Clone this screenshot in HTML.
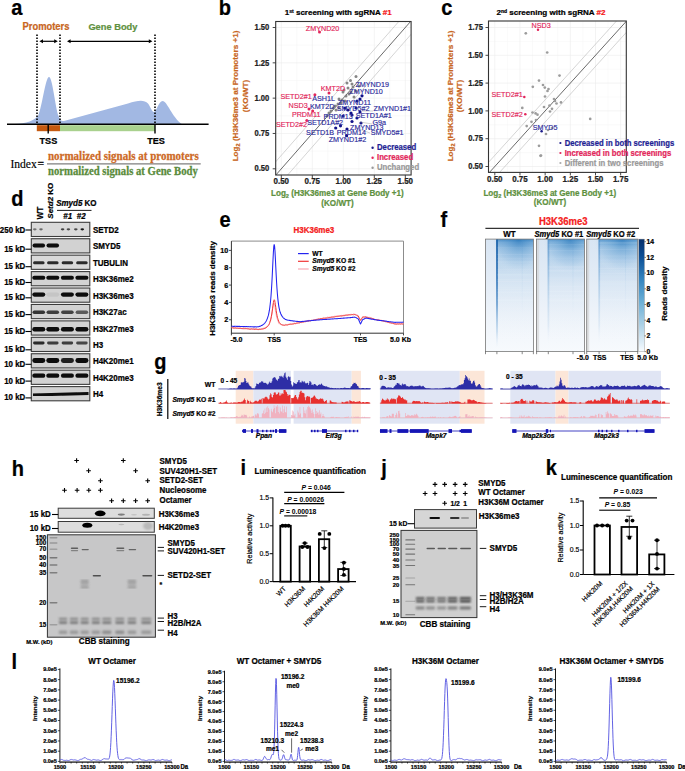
<!DOCTYPE html>
<html><head><meta charset="utf-8"><style>
html,body{margin:0;padding:0;background:#fff;width:685px;height:771px;overflow:hidden}
svg{display:block}
text{font-family:"Liberation Sans",sans-serif}
.serif{font-family:"Liberation Serif",serif}
</style></head><body>
<svg width="685" height="771" viewBox="0 0 685 771">
<defs>
<filter id="bl1" x="-50%" y="-50%" width="200%" height="200%"><feGaussianBlur stdDeviation="0.8"/></filter>
<filter id="bl2" x="-50%" y="-50%" width="200%" height="200%"><feGaussianBlur stdDeviation="1.2"/></filter>
<filter id="bl07" x="-50%" y="-50%" width="200%" height="200%"><feGaussianBlur stdDeviation="0.65"/></filter>
<filter id="bl05" x="-50%" y="-50%" width="200%" height="200%"><feGaussianBlur stdDeviation="0.5"/></filter>
</defs>
<text x="11.20" y="15.40" font-size="20" font-weight="bold" fill="#000" text-anchor="start" stroke="#000" stroke-width="0.22" transform="translate(0,-1.078) scale(1,1.07)" >a</text>
<text x="218.80" y="14.90" font-size="20" font-weight="bold" fill="#000" text-anchor="start" stroke="#000" stroke-width="0.22" transform="translate(0,-1.043) scale(1,1.07)" >b</text>
<text x="441.20" y="14.90" font-size="20" font-weight="bold" fill="#000" text-anchor="start" stroke="#000" stroke-width="0.22" transform="translate(0,-1.043) scale(1,1.07)" >c</text>
<text x="11.20" y="205.80" font-size="20" font-weight="bold" fill="#000" text-anchor="start" stroke="#000" stroke-width="0.22" transform="translate(0,-14.406) scale(1,1.07)" >d</text>
<text x="219.50" y="227.20" font-size="20" font-weight="bold" fill="#000" text-anchor="start" stroke="#000" stroke-width="0.22" transform="translate(0,-15.904) scale(1,1.07)" >e</text>
<text x="440.60" y="226.60" font-size="20" font-weight="bold" fill="#000" text-anchor="start" stroke="#000" stroke-width="0.22" transform="translate(0,-15.862) scale(1,1.07)" >f</text>
<text x="154.20" y="369.20" font-size="20" font-weight="bold" fill="#000" text-anchor="start" stroke="#000" stroke-width="0.22" transform="translate(0,-25.844) scale(1,1.07)" >g</text>
<text x="11.80" y="475.90" font-size="20" font-weight="bold" fill="#000" text-anchor="start" stroke="#000" stroke-width="0.22" transform="translate(0,-33.313) scale(1,1.07)" >h</text>
<text x="240.40" y="475.40" font-size="20" font-weight="bold" fill="#000" text-anchor="start" stroke="#000" stroke-width="0.22" transform="translate(0,-33.278) scale(1,1.07)" >i</text>
<text x="381.20" y="475.40" font-size="20" font-weight="bold" fill="#000" text-anchor="start" stroke="#000" stroke-width="0.22" transform="translate(0,-33.278) scale(1,1.07)" >j</text>
<text x="545.80" y="475.40" font-size="20" font-weight="bold" fill="#000" text-anchor="start" stroke="#000" stroke-width="0.22" transform="translate(0,-33.278) scale(1,1.07)" >k</text>
<text x="11.60" y="669.20" font-size="20" font-weight="bold" fill="#000" text-anchor="start" stroke="#000" stroke-width="0.22" transform="translate(0,-46.844) scale(1,1.07)" >l</text>
<text x="22.50" y="30.00" font-size="9.4" font-weight="bold" fill="#C8661E" text-anchor="start" stroke="#C8661E" stroke-width="0.22" transform="translate(0,-2.100) scale(1,1.07)" >Promoters</text>
<text x="88.40" y="30.00" font-size="9.3" font-weight="bold" fill="#5E9140" text-anchor="start" stroke="#5E9140" stroke-width="0.22" transform="translate(0,-2.100) scale(1,1.07)" >Gene Body</text>
<path d="M10,124.2 C22,124 32,122.5 38,116 C42,108 45.5,77 49,77 C52.5,77 55,106 58.5,116 C60,120.5 61.5,121.5 64,121 L128,103.5 C138,100.3 144,99.5 148,103.5 C150.5,107 152,112 154,112 C156.5,112 158.5,101 162.7,101 C167,101 172,117 182,124.2 Z" fill="#A2B8E3"/>
<line x1="37" y1="34.5" x2="37" y2="124" stroke="#000" stroke-width="1.6" stroke-dasharray="1.6,1.4"/>
<line x1="60" y1="34.5" x2="60" y2="124" stroke="#000" stroke-width="1.6" stroke-dasharray="1.6,1.4"/>
<line x1="155" y1="34.5" x2="155" y2="124" stroke="#000" stroke-width="1.6" stroke-dasharray="1.6,1.4"/>
<line x1="41.9" y1="41.3" x2="55.3" y2="41.3" stroke="#000" stroke-width="1.2"/><path d="M39.4,41.3 l3.6,-2 l0,4 z M57.8,41.3 l-3.6,-2 l0,4 z" fill="#000"/>
<line x1="69.5" y1="41.3" x2="149.9" y2="41.3" stroke="#000" stroke-width="1.2"/><path d="M67,41.3 l3.6,-2 l0,4 z M152.4,41.3 l-3.6,-2 l0,4 z" fill="#000"/>
<rect x="36.8" y="125.2" width="23.2" height="6" fill="#C55A11"/>
<rect x="60" y="125.2" width="95" height="6" fill="#A9D18E"/>
<line x1="7" y1="124.2" x2="208.6" y2="124.2" stroke="#000" stroke-width="1.5"/>
<line x1="48.2" y1="124" x2="48.2" y2="133.5" stroke="#000" stroke-width="1.4"/>
<line x1="155" y1="124" x2="155" y2="133.5" stroke="#000" stroke-width="1.4"/>
<text x="48.40" y="144.00" font-size="9.1" font-weight="bold" fill="#000" text-anchor="middle" stroke="#000" stroke-width="0.22" transform="translate(0,-10.080) scale(1,1.07)" >TSS</text>
<text x="156.00" y="144.00" font-size="9.1" font-weight="bold" fill="#000" text-anchor="middle" stroke="#000" stroke-width="0.22" transform="translate(0,-10.080) scale(1,1.07)" >TES</text>
<text class="serif" x="10.4" y="167.8" font-size="11.6" fill="#000" stroke="#000" stroke-width="0.15" transform="translate(0,-16.780) scale(1,1.1)">Index</text>
<text class="serif" x="37.4" y="167.8" font-size="11.6" fill="#000" stroke="#000" stroke-width="0.3">=</text>
<line x1="47" y1="163.9" x2="200.7" y2="163.9" stroke="#7f7f7f" stroke-width="1.3"/>
<text class="serif" x="48" y="160.5" font-size="11.0" font-weight="bold" fill="#CD6A27" stroke="#CD6A27" stroke-width="0.25" transform="translate(0,-19.260) scale(1,1.12)">normalized signals at promoters</text>
<text class="serif" x="48" y="175.0" font-size="10.7" font-weight="bold" fill="#5A8C3C" stroke="#5A8C3C" stroke-width="0.25" transform="translate(0,-21.000) scale(1,1.12)">normalized signals at Gene Body</text>
<rect x="275.7" y="21.5" width="135.40000000000003" height="153.5" fill="#fff"/>
<line x1="296.80" y1="21.5" x2="296.80" y2="175" stroke="#f4f4f4" stroke-width="0.5"/>
<line x1="275.7" y1="151.14" x2="411.1" y2="151.14" stroke="#f4f4f4" stroke-width="0.5"/>
<line x1="327.80" y1="21.5" x2="327.80" y2="175" stroke="#f4f4f4" stroke-width="0.5"/>
<line x1="275.7" y1="115.81" x2="411.1" y2="115.81" stroke="#f4f4f4" stroke-width="0.5"/>
<line x1="358.80" y1="21.5" x2="358.80" y2="175" stroke="#f4f4f4" stroke-width="0.5"/>
<line x1="275.7" y1="80.49" x2="411.1" y2="80.49" stroke="#f4f4f4" stroke-width="0.5"/>
<line x1="389.80" y1="21.5" x2="389.80" y2="175" stroke="#f4f4f4" stroke-width="0.5"/>
<line x1="275.7" y1="45.16" x2="411.1" y2="45.16" stroke="#f4f4f4" stroke-width="0.5"/>
<line x1="281.30" y1="21.5" x2="281.30" y2="175" stroke="#ebebeb" stroke-width="0.6"/>
<line x1="275.7" y1="168.80" x2="411.1" y2="168.80" stroke="#ebebeb" stroke-width="0.6"/>
<line x1="312.30" y1="21.5" x2="312.30" y2="175" stroke="#ebebeb" stroke-width="0.6"/>
<line x1="275.7" y1="133.48" x2="411.1" y2="133.48" stroke="#ebebeb" stroke-width="0.6"/>
<line x1="343.30" y1="21.5" x2="343.30" y2="175" stroke="#ebebeb" stroke-width="0.6"/>
<line x1="275.7" y1="98.15" x2="411.1" y2="98.15" stroke="#ebebeb" stroke-width="0.6"/>
<line x1="374.30" y1="21.5" x2="374.30" y2="175" stroke="#ebebeb" stroke-width="0.6"/>
<line x1="275.7" y1="62.83" x2="411.1" y2="62.83" stroke="#ebebeb" stroke-width="0.6"/>
<line x1="405.30" y1="21.5" x2="405.30" y2="175" stroke="#ebebeb" stroke-width="0.6"/>
<line x1="275.7" y1="27.50" x2="411.1" y2="27.50" stroke="#ebebeb" stroke-width="0.6"/>
<clipPath id="cp275"><rect x="275.7" y="21.5" width="135.40000000000003" height="153.5"/></clipPath>
<g clip-path="url(#cp275)">
<line x1="213.97" y1="245.53" x2="473.13" y2="-49.79" stroke="#444" stroke-width="0.8"/>
<line x1="213.97" y1="232.10" x2="473.13" y2="-63.21" stroke="#aaa" stroke-width="0.5"/>
<line x1="213.97" y1="258.95" x2="473.13" y2="-36.37" stroke="#aaa" stroke-width="0.5"/>
</g>
<line x1="281.30" y1="175" x2="281.30" y2="178" stroke="#333" stroke-width="0.9"/>
<line x1="272.7" y1="168.80" x2="275.7" y2="168.80" stroke="#333" stroke-width="0.9"/>
<line x1="312.30" y1="175" x2="312.30" y2="178" stroke="#333" stroke-width="0.9"/>
<line x1="272.7" y1="133.48" x2="275.7" y2="133.48" stroke="#333" stroke-width="0.9"/>
<line x1="343.30" y1="175" x2="343.30" y2="178" stroke="#333" stroke-width="0.9"/>
<line x1="272.7" y1="98.15" x2="275.7" y2="98.15" stroke="#333" stroke-width="0.9"/>
<line x1="374.30" y1="175" x2="374.30" y2="178" stroke="#333" stroke-width="0.9"/>
<line x1="272.7" y1="62.83" x2="275.7" y2="62.83" stroke="#333" stroke-width="0.9"/>
<line x1="405.30" y1="175" x2="405.30" y2="178" stroke="#333" stroke-width="0.9"/>
<line x1="272.7" y1="27.50" x2="275.7" y2="27.50" stroke="#333" stroke-width="0.9"/>
<circle cx="356" cy="76.6" r="1.5" fill="#858585"/>
<circle cx="347" cy="83" r="1.5" fill="#858585"/>
<circle cx="352" cy="84" r="1.5" fill="#858585"/>
<circle cx="350.5" cy="80.5" r="1.5" fill="#858585"/>
<circle cx="353" cy="87" r="1.5" fill="#858585"/>
<circle cx="359" cy="86" r="1.5" fill="#858585"/>
<circle cx="349" cy="94" r="1.5" fill="#858585"/>
<circle cx="346" cy="96" r="1.5" fill="#858585"/>
<circle cx="354" cy="97" r="1.5" fill="#858585"/>
<circle cx="342" cy="100" r="1.5" fill="#858585"/>
<circle cx="339" cy="99" r="1.5" fill="#858585"/>
<circle cx="344" cy="90" r="1.5" fill="#858585"/>
<circle cx="348" cy="88" r="1.5" fill="#858585"/>
<circle cx="341" cy="103" r="1.5" fill="#858585"/>
<circle cx="338" cy="104" r="1.5" fill="#858585"/>
<circle cx="335" cy="106" r="1.5" fill="#858585"/>
<circle cx="333" cy="108" r="1.5" fill="#858585"/>
<circle cx="331" cy="111" r="1.5" fill="#858585"/>
<circle cx="329" cy="113" r="1.5" fill="#858585"/>
<circle cx="343" cy="92" r="1.5" fill="#858585"/>
<circle cx="356" cy="91" r="1.5" fill="#858585"/>
<circle cx="345" cy="101" r="1.5" fill="#858585"/>
<circle cx="351" cy="92" r="1.5" fill="#858585"/>
<circle cx="339" cy="108" r="1.5" fill="#858585"/>
<circle cx="336" cy="110" r="1.5" fill="#858585"/>
<circle cx="327" cy="116" r="1.5" fill="#858585"/>
<circle cx="362" cy="95.8" r="1.6" fill="#12128a"/>
<circle cx="360" cy="99" r="1.6" fill="#12128a"/>
<circle cx="357" cy="101" r="1.6" fill="#12128a"/>
<circle cx="345" cy="108" r="1.6" fill="#12128a"/>
<circle cx="351" cy="113" r="1.6" fill="#12128a"/>
<circle cx="352" cy="115" r="1.6" fill="#12128a"/>
<circle cx="360" cy="112" r="1.6" fill="#12128a"/>
<circle cx="352" cy="121.5" r="1.6" fill="#12128a"/>
<circle cx="357" cy="118" r="1.6" fill="#12128a"/>
<circle cx="361" cy="123" r="1.6" fill="#12128a"/>
<circle cx="340.5" cy="125.8" r="1.6" fill="#12128a"/>
<circle cx="335.7" cy="128" r="1.6" fill="#12128a"/>
<circle cx="347" cy="129" r="1.6" fill="#12128a"/>
<circle cx="346.6" cy="135.7" r="1.6" fill="#12128a"/>
<circle cx="356" cy="108" r="1.6" fill="#12128a"/>
<circle cx="348" cy="110" r="1.6" fill="#12128a"/>
<circle cx="343" cy="116" r="1.6" fill="#12128a"/>
<circle cx="319.5" cy="31.9" r="1.5" fill="#E2265A"/>
<circle cx="329" cy="93" r="1.5" fill="#E2265A"/>
<circle cx="314.9" cy="94.7" r="1.5" fill="#E2265A"/>
<circle cx="309" cy="109" r="1.5" fill="#E2265A"/>
<circle cx="312.7" cy="111" r="1.5" fill="#E2265A"/>
<circle cx="306.8" cy="120.4" r="1.5" fill="#E2265A"/>
<line x1="362" y1="111" x2="373" y2="111" stroke="#888" stroke-width="0.4"/>
<line x1="360" y1="122" x2="372" y2="124" stroke="#888" stroke-width="0.4"/>
<line x1="356" y1="128" x2="370" y2="133" stroke="#888" stroke-width="0.4"/>
<text x="305.80" y="30.60" font-size="7.2" font-weight="normal" fill="#E2265A" text-anchor="start" transform="translate(0,-2.142) scale(1,1.07)" stroke="#E2265A" stroke-width="0.15">ZMYND20</text>
<text x="355.40" y="87.50" font-size="7.2" font-weight="normal" fill="#2B2B9B" text-anchor="start" transform="translate(0,-6.125) scale(1,1.07)" stroke="#2B2B9B" stroke-width="0.15">ZMYND19</text>
<text x="349.30" y="94.50" font-size="7.2" font-weight="normal" fill="#2B2B9B" text-anchor="start" transform="translate(0,-6.615) scale(1,1.07)" stroke="#2B2B9B" stroke-width="0.15">ZMYND10</text>
<text x="320.80" y="91.20" font-size="7.2" font-weight="normal" fill="#E2265A" text-anchor="start" transform="translate(0,-6.384) scale(1,1.07)" stroke="#E2265A" stroke-width="0.15">KMT2D</text>
<text x="280.50" y="99.10" font-size="7.2" font-weight="normal" fill="#E2265A" text-anchor="start" transform="translate(0,-6.937) scale(1,1.07)" stroke="#E2265A" stroke-width="0.15">SETD2#1</text>
<text x="312.30" y="100.70" font-size="7.2" font-weight="normal" fill="#2B2B9B" text-anchor="start" transform="translate(0,-7.049) scale(1,1.07)" stroke="#2B2B9B" stroke-width="0.15">ASH1L</text>
<text x="337.90" y="105.50" font-size="7.2" font-weight="normal" fill="#2B2B9B" text-anchor="start" transform="translate(0,-7.385) scale(1,1.07)" stroke="#2B2B9B" stroke-width="0.15">ZMYND11</text>
<text x="288.60" y="107.70" font-size="7.2" font-weight="normal" fill="#E2265A" text-anchor="start" transform="translate(0,-7.539) scale(1,1.07)" stroke="#E2265A" stroke-width="0.15">NSD3</text>
<text x="310.00" y="109.40" font-size="7.2" font-weight="normal" fill="#2B2B9B" text-anchor="start" transform="translate(0,-7.658) scale(1,1.07)" stroke="#2B2B9B" stroke-width="0.15">KMT2D</text>
<text x="336.80" y="111.20" font-size="7.2" font-weight="normal" fill="#2B2B9B" text-anchor="start" transform="translate(0,-7.784) scale(1,1.07)" stroke="#2B2B9B" stroke-width="0.15">SMYD5#2</text>
<text x="373.60" y="111.20" font-size="7.2" font-weight="normal" fill="#2B2B9B" text-anchor="start" transform="translate(0,-7.784) scale(1,1.07)" stroke="#2B2B9B" stroke-width="0.15">ZMYND1#1</text>
<text x="291.90" y="117.00" font-size="7.2" font-weight="normal" fill="#E2265A" text-anchor="start" transform="translate(0,-8.190) scale(1,1.07)" stroke="#E2265A" stroke-width="0.15">PRDM11</text>
<text x="323.60" y="118.60" font-size="7.2" font-weight="normal" fill="#2B2B9B" text-anchor="start" transform="translate(0,-8.302) scale(1,1.07)" stroke="#2B2B9B" stroke-width="0.15">PRDM13</text>
<text x="355.80" y="118.20" font-size="7.2" font-weight="normal" fill="#2B2B9B" text-anchor="start" transform="translate(0,-8.274) scale(1,1.07)" stroke="#2B2B9B" stroke-width="0.15">SETD1A#1</text>
<text x="275.90" y="127.00" font-size="7.2" font-weight="normal" fill="#E2265A" text-anchor="start" transform="translate(0,-8.890) scale(1,1.07)" stroke="#E2265A" stroke-width="0.15">SETD2#2</text>
<text x="307.20" y="124.70" font-size="7.2" font-weight="normal" fill="#2B2B9B" text-anchor="start" transform="translate(0,-8.729) scale(1,1.07)" stroke="#2B2B9B" stroke-width="0.15">SETD1A#2</text>
<text x="372.50" y="124.70" font-size="7.2" font-weight="normal" fill="#2B2B9B" text-anchor="start" transform="translate(0,-8.729) scale(1,1.07)" stroke="#2B2B9B" stroke-width="0.15">G9a</text>
<text x="350.00" y="129.60" font-size="7.2" font-weight="normal" fill="#2B2B9B" text-anchor="start" transform="translate(0,-9.072) scale(1,1.07)" stroke="#2B2B9B" stroke-width="0.15">ZMYND13</text>
<text x="306.10" y="135.30" font-size="7.2" font-weight="normal" fill="#2B2B9B" text-anchor="start" transform="translate(0,-9.471) scale(1,1.07)" stroke="#2B2B9B" stroke-width="0.15">SETD1B</text>
<text x="336.80" y="135.30" font-size="7.2" font-weight="normal" fill="#2B2B9B" text-anchor="start" transform="translate(0,-9.471) scale(1,1.07)" stroke="#2B2B9B" stroke-width="0.15">PRDM14</text>
<text x="370.70" y="135.30" font-size="7.2" font-weight="normal" fill="#2B2B9B" text-anchor="start" transform="translate(0,-9.471) scale(1,1.07)" stroke="#2B2B9B" stroke-width="0.15">SMYD5#1</text>
<text x="328.70" y="142.30" font-size="7.2" font-weight="normal" fill="#2B2B9B" text-anchor="start" transform="translate(0,-9.961) scale(1,1.07)" stroke="#2B2B9B" stroke-width="0.15">ZMYND1#2</text>
<rect x="275.7" y="21.5" width="135.4" height="153.5" fill="none" stroke="#333" stroke-width="1.1"/>
<text x="269.20" y="171.50" font-size="7.6" font-weight="bold" fill="#222" text-anchor="end" stroke="#222" stroke-width="0.22" transform="translate(0,-12.005) scale(1,1.07)" >0.50</text>
<text x="281.30" y="184.50" font-size="8" font-weight="bold" fill="#222" text-anchor="middle" stroke="#222" stroke-width="0.22" transform="translate(0,-12.915) scale(1,1.07)" >0.50</text>
<text x="269.20" y="136.18" font-size="7.6" font-weight="bold" fill="#222" text-anchor="end" stroke="#222" stroke-width="0.22" transform="translate(0,-9.532) scale(1,1.07)" >0.75</text>
<text x="312.30" y="184.50" font-size="8" font-weight="bold" fill="#222" text-anchor="middle" stroke="#222" stroke-width="0.22" transform="translate(0,-12.915) scale(1,1.07)" >0.75</text>
<text x="269.20" y="100.85" font-size="7.6" font-weight="bold" fill="#222" text-anchor="end" stroke="#222" stroke-width="0.22" transform="translate(0,-7.060) scale(1,1.07)" >1.00</text>
<text x="343.30" y="184.50" font-size="8" font-weight="bold" fill="#222" text-anchor="middle" stroke="#222" stroke-width="0.22" transform="translate(0,-12.915) scale(1,1.07)" >1.00</text>
<text x="269.20" y="65.53" font-size="7.6" font-weight="bold" fill="#222" text-anchor="end" stroke="#222" stroke-width="0.22" transform="translate(0,-4.587) scale(1,1.07)" >1.25</text>
<text x="374.30" y="184.50" font-size="8" font-weight="bold" fill="#222" text-anchor="middle" stroke="#222" stroke-width="0.22" transform="translate(0,-12.915) scale(1,1.07)" >1.25</text>
<text x="269.20" y="30.20" font-size="7.6" font-weight="bold" fill="#222" text-anchor="end" stroke="#222" stroke-width="0.22" transform="translate(0,-2.114) scale(1,1.07)" >1.50</text>
<text x="405.30" y="184.50" font-size="8" font-weight="bold" fill="#222" text-anchor="middle" stroke="#222" stroke-width="0.22" transform="translate(0,-12.915) scale(1,1.07)" >1.50</text>
<text x="284.8" y="15.4" font-size="8.0" font-weight="bold" fill="#000" stroke="#000" stroke-width="0.22">1<tspan font-size="5" dy="-2.8">st</tspan><tspan dy="2.8"> screening with sgRNA </tspan><tspan fill="#F41414" stroke="#F41414">#1</tspan></text>
<circle cx="372.6" cy="147.8" r="1.2" fill="#1a1a8a"/>
<text x="377.00" y="150.40" font-size="7.75" font-weight="bold" fill="#1f1f94" text-anchor="start" stroke="#1f1f94" stroke-width="0.22" transform="translate(0,-10.528) scale(1,1.07)" >Decreased</text>
<circle cx="372.6" cy="157.8" r="1.2" fill="#E2265A"/>
<text x="377.00" y="160.40" font-size="7.75" font-weight="bold" fill="#E2265A" text-anchor="start" stroke="#E2265A" stroke-width="0.22" transform="translate(0,-11.228) scale(1,1.07)" >Increased</text>
<circle cx="372.6" cy="167.8" r="1.2" fill="#999"/>
<text x="377.00" y="170.40" font-size="7.75" font-weight="bold" fill="#999" text-anchor="start" stroke="#999" stroke-width="0.22" transform="translate(0,-11.928) scale(1,1.07)" >Unchanged</text>
<g transform="translate(238,96) rotate(-90)"><text x="0" y="0.00" font-size="8.1" font-weight="bold" fill="#C8661E" stroke="#C8661E" stroke-width="0.2" text-anchor="middle">Log<tspan font-size="5.6" dy="2">2</tspan><tspan dy="-2"> (H3K36me3 at Promoters +1)</tspan></text><text x="0" y="9.72" font-size="8.1" font-weight="bold" fill="#C8661E" stroke="#C8661E" stroke-width="0.2" text-anchor="middle">(KO/WT)</text></g>
<text x="271.00" y="196.20" font-size="8.1" font-weight="bold" fill="#5E9140" text-anchor="start" stroke="#5E9140" stroke-width="0.22" transform="translate(0,-13.734) scale(1,1.07)" >Log<tspan font-size="5.6" dy="2">2</tspan><tspan dy="-2"> (H3K36me3 at Gene Body +1)</tspan></text>
<text x="337.50" y="206.20" font-size="8.1" font-weight="bold" fill="#5E9140" text-anchor="middle" stroke="#5E9140" stroke-width="0.22" transform="translate(0,-14.434) scale(1,1.07)" >(KO/WT)</text>
<rect x="488.5" y="21" width="137.79999999999995" height="151.4" fill="#fff"/>
<line x1="507.39" y1="21" x2="507.39" y2="172.4" stroke="#f4f4f4" stroke-width="0.5"/>
<line x1="488.5" y1="152.60" x2="626.3" y2="152.60" stroke="#f4f4f4" stroke-width="0.5"/>
<line x1="532.56" y1="21" x2="532.56" y2="172.4" stroke="#f4f4f4" stroke-width="0.5"/>
<line x1="488.5" y1="124.80" x2="626.3" y2="124.80" stroke="#f4f4f4" stroke-width="0.5"/>
<line x1="557.74" y1="21" x2="557.74" y2="172.4" stroke="#f4f4f4" stroke-width="0.5"/>
<line x1="488.5" y1="97.00" x2="626.3" y2="97.00" stroke="#f4f4f4" stroke-width="0.5"/>
<line x1="582.91" y1="21" x2="582.91" y2="172.4" stroke="#f4f4f4" stroke-width="0.5"/>
<line x1="488.5" y1="69.20" x2="626.3" y2="69.20" stroke="#f4f4f4" stroke-width="0.5"/>
<line x1="608.09" y1="21" x2="608.09" y2="172.4" stroke="#f4f4f4" stroke-width="0.5"/>
<line x1="488.5" y1="41.40" x2="626.3" y2="41.40" stroke="#f4f4f4" stroke-width="0.5"/>
<line x1="494.80" y1="21" x2="494.80" y2="172.4" stroke="#ebebeb" stroke-width="0.6"/>
<line x1="488.5" y1="166.50" x2="626.3" y2="166.50" stroke="#ebebeb" stroke-width="0.6"/>
<line x1="519.98" y1="21" x2="519.98" y2="172.4" stroke="#ebebeb" stroke-width="0.6"/>
<line x1="488.5" y1="138.70" x2="626.3" y2="138.70" stroke="#ebebeb" stroke-width="0.6"/>
<line x1="545.15" y1="21" x2="545.15" y2="172.4" stroke="#ebebeb" stroke-width="0.6"/>
<line x1="488.5" y1="110.90" x2="626.3" y2="110.90" stroke="#ebebeb" stroke-width="0.6"/>
<line x1="570.33" y1="21" x2="570.33" y2="172.4" stroke="#ebebeb" stroke-width="0.6"/>
<line x1="488.5" y1="83.10" x2="626.3" y2="83.10" stroke="#ebebeb" stroke-width="0.6"/>
<line x1="595.50" y1="21" x2="595.50" y2="172.4" stroke="#ebebeb" stroke-width="0.6"/>
<line x1="488.5" y1="55.30" x2="626.3" y2="55.30" stroke="#ebebeb" stroke-width="0.6"/>
<line x1="620.67" y1="21" x2="620.67" y2="172.4" stroke="#ebebeb" stroke-width="0.6"/>
<line x1="488.5" y1="27.50" x2="626.3" y2="27.50" stroke="#ebebeb" stroke-width="0.6"/>
<clipPath id="cp488"><rect x="488.5" y="21" width="137.79999999999995" height="151.4"/></clipPath>
<g clip-path="url(#cp488)">
<line x1="438.41" y1="228.77" x2="676.87" y2="-34.55" stroke="#444" stroke-width="0.8"/>
<line x1="438.41" y1="217.65" x2="676.87" y2="-45.67" stroke="#aaa" stroke-width="0.5"/>
<line x1="438.41" y1="239.89" x2="676.87" y2="-23.43" stroke="#aaa" stroke-width="0.5"/>
</g>
<line x1="494.80" y1="172.4" x2="494.80" y2="175.4" stroke="#333" stroke-width="0.9"/>
<line x1="485.5" y1="166.50" x2="488.5" y2="166.50" stroke="#333" stroke-width="0.9"/>
<line x1="519.98" y1="172.4" x2="519.98" y2="175.4" stroke="#333" stroke-width="0.9"/>
<line x1="485.5" y1="138.70" x2="488.5" y2="138.70" stroke="#333" stroke-width="0.9"/>
<line x1="545.15" y1="172.4" x2="545.15" y2="175.4" stroke="#333" stroke-width="0.9"/>
<line x1="485.5" y1="110.90" x2="488.5" y2="110.90" stroke="#333" stroke-width="0.9"/>
<line x1="570.33" y1="172.4" x2="570.33" y2="175.4" stroke="#333" stroke-width="0.9"/>
<line x1="485.5" y1="83.10" x2="488.5" y2="83.10" stroke="#333" stroke-width="0.9"/>
<line x1="595.50" y1="172.4" x2="595.50" y2="175.4" stroke="#333" stroke-width="0.9"/>
<line x1="485.5" y1="55.30" x2="488.5" y2="55.30" stroke="#333" stroke-width="0.9"/>
<line x1="620.67" y1="172.4" x2="620.67" y2="175.4" stroke="#333" stroke-width="0.9"/>
<line x1="485.5" y1="27.50" x2="488.5" y2="27.50" stroke="#333" stroke-width="0.9"/>
<circle cx="525.8" cy="33.3" r="1.35" fill="#9c9c9c"/>
<circle cx="547.2" cy="52.5" r="1.35" fill="#9c9c9c"/>
<circle cx="539" cy="80.6" r="1.35" fill="#9c9c9c"/>
<circle cx="532.8" cy="86.8" r="1.35" fill="#9c9c9c"/>
<circle cx="544.8" cy="87.6" r="1.35" fill="#9c9c9c"/>
<circle cx="543" cy="85" r="1.35" fill="#9c9c9c"/>
<circle cx="559.5" cy="75.6" r="1.35" fill="#9c9c9c"/>
<circle cx="545" cy="96.5" r="1.35" fill="#9c9c9c"/>
<circle cx="544" cy="107" r="1.35" fill="#9c9c9c"/>
<circle cx="549.5" cy="105.6" r="1.35" fill="#9c9c9c"/>
<circle cx="556.5" cy="103.5" r="1.35" fill="#9c9c9c"/>
<circle cx="561" cy="102.4" r="1.35" fill="#9c9c9c"/>
<circle cx="550" cy="111.5" r="1.35" fill="#9c9c9c"/>
<circle cx="552" cy="108.8" r="1.35" fill="#9c9c9c"/>
<circle cx="590.2" cy="118.9" r="1.35" fill="#9c9c9c"/>
<circle cx="546" cy="134" r="1.35" fill="#9c9c9c"/>
<circle cx="541" cy="155.5" r="1.35" fill="#9c9c9c"/>
<circle cx="539" cy="145.8" r="1.35" fill="#9c9c9c"/>
<circle cx="522.3" cy="107.9" r="1.35" fill="#9c9c9c"/>
<circle cx="532.5" cy="112.5" r="1.35" fill="#9c9c9c"/>
<circle cx="535.6" cy="113.4" r="1.35" fill="#9c9c9c"/>
<circle cx="537.5" cy="114.7" r="1.35" fill="#9c9c9c"/>
<circle cx="536" cy="120" r="1.35" fill="#9c9c9c"/>
<circle cx="531.5" cy="121.8" r="1.35" fill="#9c9c9c"/>
<circle cx="526.7" cy="126.1" r="1.35" fill="#9c9c9c"/>
<circle cx="540.5" cy="155.8" r="1.35" fill="#9c9c9c"/>
<circle cx="547.5" cy="91" r="1.35" fill="#9c9c9c"/>
<circle cx="548.5" cy="89" r="1.35" fill="#9c9c9c"/>
<circle cx="554" cy="99" r="1.35" fill="#9c9c9c"/>
<circle cx="555" cy="101" r="1.35" fill="#9c9c9c"/>
<circle cx="548" cy="130" r="1.35" fill="#9c9c9c"/>
<circle cx="552" cy="128" r="1.35" fill="#9c9c9c"/>
<circle cx="538" cy="29.8" r="1.25" fill="#E2265A"/>
<circle cx="524.3" cy="97" r="1.25" fill="#E2265A"/>
<circle cx="525.3" cy="114.2" r="1.25" fill="#E2265A"/>
<circle cx="541.6" cy="131.2" r="1.25" fill="#1a1a8a"/>
<text x="531.60" y="28.50" font-size="7.2" font-weight="normal" fill="#E2265A" text-anchor="start" transform="translate(0,-1.995) scale(1,1.07)" stroke="#E2265A" stroke-width="0.15">NSD3</text>
<text x="491.50" y="97.00" font-size="7.2" font-weight="normal" fill="#E2265A" text-anchor="start" transform="translate(0,-6.790) scale(1,1.07)" stroke="#E2265A" stroke-width="0.15">SETD2#1</text>
<text x="491.50" y="116.60" font-size="7.2" font-weight="normal" fill="#E2265A" text-anchor="start" transform="translate(0,-8.162) scale(1,1.07)" stroke="#E2265A" stroke-width="0.15">SETD2#2</text>
<text x="532.80" y="130.30" font-size="7.2" font-weight="normal" fill="#2B2B9B" text-anchor="start" transform="translate(0,-9.121) scale(1,1.07)" stroke="#2B2B9B" stroke-width="0.15">SMYD5</text>
<rect x="488.5" y="21" width="137.8" height="151.4" fill="none" stroke="#333" stroke-width="1.1"/>
<text x="483.00" y="169.20" font-size="7.6" font-weight="bold" fill="#222" text-anchor="end" stroke="#222" stroke-width="0.22" transform="translate(0,-11.844) scale(1,1.07)" >0.50</text>
<text x="494.80" y="182.30" font-size="8" font-weight="bold" fill="#222" text-anchor="middle" stroke="#222" stroke-width="0.22" transform="translate(0,-12.761) scale(1,1.07)" >0.50</text>
<text x="483.00" y="141.40" font-size="7.6" font-weight="bold" fill="#222" text-anchor="end" stroke="#222" stroke-width="0.22" transform="translate(0,-9.898) scale(1,1.07)" >0.75</text>
<text x="519.98" y="182.30" font-size="8" font-weight="bold" fill="#222" text-anchor="middle" stroke="#222" stroke-width="0.22" transform="translate(0,-12.761) scale(1,1.07)" >0.75</text>
<text x="483.00" y="113.60" font-size="7.6" font-weight="bold" fill="#222" text-anchor="end" stroke="#222" stroke-width="0.22" transform="translate(0,-7.952) scale(1,1.07)" >1.00</text>
<text x="545.15" y="182.30" font-size="8" font-weight="bold" fill="#222" text-anchor="middle" stroke="#222" stroke-width="0.22" transform="translate(0,-12.761) scale(1,1.07)" >1.00</text>
<text x="483.00" y="85.80" font-size="7.6" font-weight="bold" fill="#222" text-anchor="end" stroke="#222" stroke-width="0.22" transform="translate(0,-6.006) scale(1,1.07)" >1.25</text>
<text x="570.33" y="182.30" font-size="8" font-weight="bold" fill="#222" text-anchor="middle" stroke="#222" stroke-width="0.22" transform="translate(0,-12.761) scale(1,1.07)" >1.25</text>
<text x="483.00" y="58.00" font-size="7.6" font-weight="bold" fill="#222" text-anchor="end" stroke="#222" stroke-width="0.22" transform="translate(0,-4.060) scale(1,1.07)" >1.50</text>
<text x="595.50" y="182.30" font-size="8" font-weight="bold" fill="#222" text-anchor="middle" stroke="#222" stroke-width="0.22" transform="translate(0,-12.761) scale(1,1.07)" >1.50</text>
<text x="483.00" y="30.20" font-size="7.6" font-weight="bold" fill="#222" text-anchor="end" stroke="#222" stroke-width="0.22" transform="translate(0,-2.114) scale(1,1.07)" >1.75</text>
<text x="620.67" y="182.30" font-size="8" font-weight="bold" fill="#222" text-anchor="middle" stroke="#222" stroke-width="0.22" transform="translate(0,-12.761) scale(1,1.07)" >1.75</text>
<text x="496.4" y="15.4" font-size="8.05" font-weight="bold" fill="#000" stroke="#000" stroke-width="0.22">2<tspan font-size="5" dy="-2.8">nd</tspan><tspan dy="2.8"> screening with sgRNA </tspan><tspan fill="#F41414" stroke="#F41414">#2</tspan></text>
<circle cx="560.4" cy="143.0" r="1.1" fill="#1a1a8a"/>
<text x="564.70" y="145.60" font-size="7.7" font-weight="bold" fill="#1f1f94" text-anchor="start" stroke="#1f1f94" stroke-width="0.22" transform="translate(0,-10.192) scale(1,1.07)" >Decreased in both screenings</text>
<circle cx="560.4" cy="153.0" r="1.1" fill="#E2265A"/>
<text x="564.70" y="155.60" font-size="7.7" font-weight="bold" fill="#E2265A" text-anchor="start" stroke="#E2265A" stroke-width="0.22" transform="translate(0,-10.892) scale(1,1.07)" >Increased in both screenings</text>
<circle cx="560.4" cy="163.0" r="1.1" fill="#aaa"/>
<text x="564.70" y="165.60" font-size="7.7" font-weight="bold" fill="#999" text-anchor="start" stroke="#999" stroke-width="0.22" transform="translate(0,-11.592) scale(1,1.07)" >Different in two screenings</text>
<g transform="translate(452.5,96) rotate(-90)"><text x="0" y="0.00" font-size="8.1" font-weight="bold" fill="#C8661E" stroke="#C8661E" stroke-width="0.2" text-anchor="middle">Log<tspan font-size="5.6" dy="2">2</tspan><tspan dy="-2"> (H3K36me3 at Promoters +1)</tspan></text><text x="0" y="9.72" font-size="8.1" font-weight="bold" fill="#C8661E" stroke="#C8661E" stroke-width="0.2" text-anchor="middle">(KO/WT)</text></g>
<text x="483.40" y="195.60" font-size="8.1" font-weight="bold" fill="#5E9140" text-anchor="start" stroke="#5E9140" stroke-width="0.22" transform="translate(0,-13.692) scale(1,1.07)" >Log<tspan font-size="5.6" dy="2">2</tspan><tspan dy="-2"> (H3K36me3 at Gene Body +1)</tspan></text>
<text x="550.00" y="205.40" font-size="8.1" font-weight="bold" fill="#5E9140" text-anchor="middle" stroke="#5E9140" stroke-width="0.22" transform="translate(0,-14.378) scale(1,1.07)" >(KO/WT)</text>
<g transform="translate(43.1,219.5) rotate(-90)"><text x="0" y="0" font-size="8.3" font-weight="bold" stroke="#000" stroke-width="0.22">WT</text></g>
<g transform="translate(53.4,218.7) rotate(-90)"><text x="0" y="0" font-size="8" font-weight="bold" stroke="#000" stroke-width="0.22"><tspan font-style="italic">Setd2</tspan> KO</text></g>
<text x="56.2" y="205.9" font-size="8" font-weight="bold" stroke="#000" stroke-width="0.22" transform="translate(0,-14.413) scale(1,1.07)"><tspan font-style="italic">Smyd5</tspan> KO</text>
<line x1="57" y1="210.4" x2="91.5" y2="210.4" stroke="#000" stroke-width="0.9"/>
<text x="63.20" y="218.70" font-size="8" font-weight="bold" fill="#000" text-anchor="start" font-style="italic" stroke="#000" stroke-width="0.22" transform="translate(0,-15.309) scale(1,1.07)" >#1</text>
<text x="76.80" y="218.70" font-size="8" font-weight="bold" fill="#000" text-anchor="start" font-style="italic" stroke="#000" stroke-width="0.22" transform="translate(0,-15.309) scale(1,1.07)" >#2</text>
<rect x="31.3" y="222.30" width="58.5" height="14.2" fill="#d9d9d9" stroke="#3c3c3c" stroke-width="1.1"/>
<ellipse cx="34.8" cy="229.3" rx="1.8" ry="1.1" fill="#111" opacity="0.5" filter="url(#bl05)"/>
<ellipse cx="41" cy="229.3" rx="1.8" ry="1.1" fill="#111" opacity="0.55" filter="url(#bl05)"/>
<ellipse cx="62.6" cy="229.3" rx="1.8" ry="1.1" fill="#111" opacity="0.75" filter="url(#bl05)"/>
<ellipse cx="68.4" cy="229.3" rx="1.8" ry="1.1" fill="#111" opacity="0.7" filter="url(#bl05)"/>
<ellipse cx="75.8" cy="229.3" rx="1.8" ry="1.1" fill="#111" opacity="0.7" filter="url(#bl05)"/>
<ellipse cx="82.3" cy="229.3" rx="1.8" ry="1.1" fill="#111" opacity="0.95" filter="url(#bl05)"/>
<text x="92.90" y="233.00" font-size="8" font-weight="bold" fill="#000" text-anchor="start" stroke="#000" stroke-width="0.22" transform="translate(0,-16.310) scale(1,1.07)" >SETD2</text>
<text x="25.30" y="232.60" font-size="7.9" font-weight="bold" fill="#000" text-anchor="end" stroke="#000" stroke-width="0.22" transform="translate(0,-16.282) scale(1,1.07)" >250 kD</text>
<line x1="25.5" y1="230" x2="31.3" y2="230" stroke="#000" stroke-width="1.1"/>
<rect x="31.3" y="238.73" width="58.5" height="14.2" fill="#d2d2d2" stroke="#3c3c3c" stroke-width="1.1"/>
<rect x="32.55" y="243.58" width="12.5" height="3.90" rx="1.95" fill="#0a0a0a" opacity="1" filter="url(#bl07)"/>
<rect x="46.55" y="243.58" width="12.5" height="3.90" rx="1.95" fill="#0a0a0a" opacity="1" filter="url(#bl07)"/>
<text x="92.90" y="249.43" font-size="8" font-weight="bold" fill="#000" text-anchor="start" stroke="#000" stroke-width="0.22" transform="translate(0,-17.460) scale(1,1.07)" >SMYD5</text>
<text x="25.30" y="251.80" font-size="7.9" font-weight="bold" fill="#000" text-anchor="end" stroke="#000" stroke-width="0.22" transform="translate(0,-17.626) scale(1,1.07)" >15 kD</text>
<line x1="25.5" y1="249.2" x2="31.3" y2="249.2" stroke="#000" stroke-width="1.1"/>
<rect x="31.3" y="255.16" width="58.5" height="14.2" fill="#d9d9d9" stroke="#3c3c3c" stroke-width="1.1"/>
<rect x="33.05" y="261.21" width="11.5" height="3.10" rx="1.55" fill="#0a0a0a" opacity="0.85" filter="url(#bl07)"/>
<rect x="47.05" y="261.21" width="11.5" height="3.10" rx="1.55" fill="#0a0a0a" opacity="0.85" filter="url(#bl07)"/>
<rect x="61.65" y="261.21" width="11.5" height="3.10" rx="1.55" fill="#0a0a0a" opacity="0.85" filter="url(#bl07)"/>
<rect x="76.15" y="261.21" width="11.5" height="3.10" rx="1.55" fill="#0a0a0a" opacity="0.85" filter="url(#bl07)"/>
<text x="92.90" y="265.86" font-size="8" font-weight="bold" fill="#000" text-anchor="start" stroke="#000" stroke-width="0.22" transform="translate(0,-18.610) scale(1,1.07)" >TUBULIN</text>
<text x="25.30" y="269.30" font-size="7.9" font-weight="bold" fill="#000" text-anchor="end" stroke="#000" stroke-width="0.22" transform="translate(0,-18.851) scale(1,1.07)" >15 kD</text>
<line x1="25.5" y1="266.7" x2="31.3" y2="266.7" stroke="#000" stroke-width="1.1"/>
<rect x="31.3" y="271.59" width="58.5" height="14.2" fill="#d2d2d2" stroke="#3c3c3c" stroke-width="1.1"/>
<rect x="32.30" y="275.84" width="13" height="3.90" rx="1.95" fill="#0a0a0a" opacity="1" filter="url(#bl07)"/>
<rect x="46.30" y="275.84" width="13" height="3.90" rx="1.95" fill="#0a0a0a" opacity="1" filter="url(#bl07)"/>
<rect x="60.90" y="275.84" width="13" height="3.90" rx="1.95" fill="#0a0a0a" opacity="1" filter="url(#bl07)"/>
<rect x="75.40" y="275.84" width="13" height="3.90" rx="1.95" fill="#0a0a0a" opacity="1" filter="url(#bl07)"/>
<text x="92.90" y="282.29" font-size="8" font-weight="bold" fill="#000" text-anchor="start" stroke="#000" stroke-width="0.22" transform="translate(0,-19.760) scale(1,1.07)" >H3K36me2</text>
<text x="25.30" y="285.10" font-size="7.9" font-weight="bold" fill="#000" text-anchor="end" stroke="#000" stroke-width="0.22" transform="translate(0,-19.957) scale(1,1.07)" >15 kD</text>
<line x1="25.5" y1="282.5" x2="31.3" y2="282.5" stroke="#000" stroke-width="1.1"/>
<rect x="31.3" y="288.02" width="58.5" height="14.2" fill="#d2d2d2" stroke="#3c3c3c" stroke-width="1.1"/>
<rect x="32.30" y="292.47" width="13" height="4.30" rx="2.15" fill="#0a0a0a" opacity="1" filter="url(#bl07)"/>
<rect x="46.30" y="292.47" width="13" height="4.30" rx="2.15" fill="#0a0a0a" opacity="0.06" filter="url(#bl07)"/>
<rect x="60.90" y="292.47" width="13" height="4.30" rx="2.15" fill="#0a0a0a" opacity="1" filter="url(#bl07)"/>
<rect x="75.40" y="292.47" width="13" height="4.30" rx="2.15" fill="#0a0a0a" opacity="1" filter="url(#bl07)"/>
<text x="92.90" y="298.72" font-size="8" font-weight="bold" fill="#000" text-anchor="start" stroke="#000" stroke-width="0.22" transform="translate(0,-20.910) scale(1,1.07)" >H3K36me3</text>
<text x="25.30" y="300.40" font-size="7.9" font-weight="bold" fill="#000" text-anchor="end" stroke="#000" stroke-width="0.22" transform="translate(0,-21.028) scale(1,1.07)" >15 kD</text>
<line x1="25.5" y1="297.8" x2="31.3" y2="297.8" stroke="#000" stroke-width="1.1"/>
<rect x="31.3" y="304.45" width="58.5" height="14.2" fill="#d2d2d2" stroke="#3c3c3c" stroke-width="1.1"/>
<rect x="32.55" y="310.50" width="12.5" height="3.50" rx="1.75" fill="#0a0a0a" opacity="0.8" filter="url(#bl07)"/>
<rect x="46.55" y="310.50" width="12.5" height="3.50" rx="1.75" fill="#0a0a0a" opacity="0.75" filter="url(#bl07)"/>
<rect x="61.15" y="310.50" width="12.5" height="3.50" rx="1.75" fill="#0a0a0a" opacity="0.72" filter="url(#bl07)"/>
<rect x="75.65" y="310.50" width="12.5" height="3.50" rx="1.75" fill="#0a0a0a" opacity="0.6" filter="url(#bl07)"/>
<text x="92.90" y="315.15" font-size="8" font-weight="bold" fill="#000" text-anchor="start" stroke="#000" stroke-width="0.22" transform="translate(0,-22.061) scale(1,1.07)" >H3K27ac</text>
<text x="25.30" y="317.20" font-size="7.9" font-weight="bold" fill="#000" text-anchor="end" stroke="#000" stroke-width="0.22" transform="translate(0,-22.204) scale(1,1.07)" >15 kD</text>
<line x1="25.5" y1="314.6" x2="31.3" y2="314.6" stroke="#000" stroke-width="1.1"/>
<rect x="31.3" y="320.88" width="58.5" height="14.2" fill="#d2d2d2" stroke="#3c3c3c" stroke-width="1.1"/>
<rect x="32.30" y="327.03" width="13" height="4.50" rx="2.25" fill="#0a0a0a" opacity="1" filter="url(#bl07)"/>
<rect x="46.30" y="327.03" width="13" height="4.50" rx="2.25" fill="#0a0a0a" opacity="1" filter="url(#bl07)"/>
<rect x="60.90" y="327.03" width="13" height="4.50" rx="2.25" fill="#0a0a0a" opacity="1" filter="url(#bl07)"/>
<rect x="75.40" y="327.03" width="13" height="4.50" rx="2.25" fill="#0a0a0a" opacity="1" filter="url(#bl07)"/>
<text x="92.90" y="331.58" font-size="8" font-weight="bold" fill="#000" text-anchor="start" stroke="#000" stroke-width="0.22" transform="translate(0,-23.211) scale(1,1.07)" >H3K27me3</text>
<text x="25.30" y="334.10" font-size="7.9" font-weight="bold" fill="#000" text-anchor="end" stroke="#000" stroke-width="0.22" transform="translate(0,-23.387) scale(1,1.07)" >15 kD</text>
<line x1="25.5" y1="331.5" x2="31.3" y2="331.5" stroke="#000" stroke-width="1.1"/>
<rect x="31.3" y="337.31" width="58.5" height="14.2" fill="#d2d2d2" stroke="#3c3c3c" stroke-width="1.1"/>
<rect x="33.05" y="341.56" width="11.5" height="2.90" rx="1.45" fill="#0a0a0a" opacity="0.85" filter="url(#bl07)"/>
<rect x="47.05" y="341.56" width="11.5" height="2.90" rx="1.45" fill="#0a0a0a" opacity="0.75" filter="url(#bl07)"/>
<rect x="61.65" y="341.56" width="11.5" height="2.90" rx="1.45" fill="#0a0a0a" opacity="0.75" filter="url(#bl07)"/>
<rect x="76.15" y="341.56" width="11.5" height="2.90" rx="1.45" fill="#0a0a0a" opacity="0.7" filter="url(#bl07)"/>
<text x="92.90" y="348.01" font-size="8" font-weight="bold" fill="#000" text-anchor="start" stroke="#000" stroke-width="0.22" transform="translate(0,-24.361) scale(1,1.07)" >H3</text>
<text x="25.30" y="352.40" font-size="7.9" font-weight="bold" fill="#000" text-anchor="end" stroke="#000" stroke-width="0.22" transform="translate(0,-24.668) scale(1,1.07)" >15 kD</text>
<line x1="25.5" y1="349.8" x2="31.3" y2="349.8" stroke="#000" stroke-width="1.1"/>
<rect x="31.3" y="353.74" width="58.5" height="14.2" fill="#d2d2d2" stroke="#3c3c3c" stroke-width="1.1"/>
<rect x="32.30" y="357.99" width="13" height="4.90" rx="2.45" fill="#0a0a0a" opacity="1" filter="url(#bl07)"/>
<rect x="46.30" y="357.99" width="13" height="4.90" rx="2.45" fill="#0a0a0a" opacity="1" filter="url(#bl07)"/>
<rect x="60.90" y="357.99" width="13" height="4.90" rx="2.45" fill="#0a0a0a" opacity="0.9" filter="url(#bl07)"/>
<rect x="75.40" y="357.99" width="13" height="4.90" rx="2.45" fill="#0a0a0a" opacity="1" filter="url(#bl07)"/>
<text x="92.90" y="364.44" font-size="8" font-weight="bold" fill="#000" text-anchor="start" stroke="#000" stroke-width="0.22" transform="translate(0,-25.511) scale(1,1.07)" >H4K20me1</text>
<text x="25.30" y="366.90" font-size="7.9" font-weight="bold" fill="#000" text-anchor="end" stroke="#000" stroke-width="0.22" transform="translate(0,-25.683) scale(1,1.07)" >10 kD</text>
<line x1="25.5" y1="364.3" x2="31.3" y2="364.3" stroke="#000" stroke-width="1.1"/>
<rect x="31.3" y="370.17" width="58.5" height="14.2" fill="#d2d2d2" stroke="#3c3c3c" stroke-width="1.1"/>
<rect x="32.30" y="373.62" width="13" height="4.10" rx="2.05" fill="#0a0a0a" opacity="1" filter="url(#bl07)"/>
<rect x="46.30" y="373.62" width="13" height="4.10" rx="2.05" fill="#0a0a0a" opacity="1" filter="url(#bl07)"/>
<rect x="60.90" y="373.62" width="13" height="4.10" rx="2.05" fill="#0a0a0a" opacity="1" filter="url(#bl07)"/>
<rect x="75.40" y="373.62" width="13" height="4.10" rx="2.05" fill="#0a0a0a" opacity="1" filter="url(#bl07)"/>
<text x="92.90" y="380.87" font-size="8" font-weight="bold" fill="#000" text-anchor="start" stroke="#000" stroke-width="0.22" transform="translate(0,-26.661) scale(1,1.07)" >H4K20me3</text>
<text x="25.30" y="383.70" font-size="7.9" font-weight="bold" fill="#000" text-anchor="end" stroke="#000" stroke-width="0.22" transform="translate(0,-26.859) scale(1,1.07)" >10 kD</text>
<line x1="25.5" y1="381.1" x2="31.3" y2="381.1" stroke="#000" stroke-width="1.1"/>
<rect x="31.3" y="386.60" width="58.5" height="14.2" fill="#d2d2d2" stroke="#3c3c3c" stroke-width="1.1"/>
<path d="M33,395.0 Q60,394.0 88.5,393.40000000000003" stroke="#0a0a0a" stroke-width="3" fill="none" filter="url(#bl05)"/>
<text x="92.90" y="397.30" font-size="8" font-weight="bold" fill="#000" text-anchor="start" stroke="#000" stroke-width="0.22" transform="translate(0,-27.811) scale(1,1.07)" >H4</text>
<text x="25.30" y="400.50" font-size="7.9" font-weight="bold" fill="#000" text-anchor="end" stroke="#000" stroke-width="0.22" transform="translate(0,-28.035) scale(1,1.07)" >10 kD</text>
<line x1="25.5" y1="397.9" x2="31.3" y2="397.9" stroke="#000" stroke-width="1.1"/>
<line x1="231.4" y1="241.1" x2="403.5" y2="241.1" stroke="#8c8c8c" stroke-width="1"/>
<line x1="403.5" y1="241.1" x2="403.5" y2="333.2" stroke="#8c8c8c" stroke-width="1"/>
<line x1="231.4" y1="241.1" x2="231.4" y2="333.7" stroke="#333" stroke-width="1"/>
<line x1="231.4" y1="333.2" x2="403.5" y2="333.2" stroke="#333" stroke-width="1"/>
<line x1="228.9" y1="319.76" x2="231.4" y2="319.76" stroke="#333" stroke-width="0.9"/>
<text x="228.30" y="322.26" font-size="7.2" font-weight="bold" fill="#000" text-anchor="end" stroke="#000" stroke-width="0.22" transform="translate(0,-22.558) scale(1,1.07)" >2</text>
<line x1="228.9" y1="302.42" x2="231.4" y2="302.42" stroke="#333" stroke-width="0.9"/>
<text x="228.30" y="304.92" font-size="7.2" font-weight="bold" fill="#000" text-anchor="end" stroke="#000" stroke-width="0.22" transform="translate(0,-21.344) scale(1,1.07)" >4</text>
<line x1="228.9" y1="285.08" x2="231.4" y2="285.08" stroke="#333" stroke-width="0.9"/>
<text x="228.30" y="287.58" font-size="7.2" font-weight="bold" fill="#000" text-anchor="end" stroke="#000" stroke-width="0.22" transform="translate(0,-20.131) scale(1,1.07)" >6</text>
<line x1="228.9" y1="267.74" x2="231.4" y2="267.74" stroke="#333" stroke-width="0.9"/>
<text x="228.30" y="270.24" font-size="7.2" font-weight="bold" fill="#000" text-anchor="end" stroke="#000" stroke-width="0.22" transform="translate(0,-18.917) scale(1,1.07)" >8</text>
<line x1="228.9" y1="250.40" x2="231.4" y2="250.40" stroke="#333" stroke-width="0.9"/>
<text x="228.30" y="252.90" font-size="7.2" font-weight="bold" fill="#000" text-anchor="end" stroke="#000" stroke-width="0.22" transform="translate(0,-17.703) scale(1,1.07)" >10</text>
<line x1="231.4" y1="333.2" x2="231.4" y2="335.4" stroke="#333" stroke-width="0.9"/>
<text x="236.40" y="341.80" font-size="7.0" font-weight="bold" fill="#000" text-anchor="middle" stroke="#000" stroke-width="0.22" transform="translate(0,-23.926) scale(1,1.07)" >-5.0</text>
<line x1="274.2" y1="333.2" x2="274.2" y2="335.4" stroke="#333" stroke-width="0.9"/>
<text x="274.20" y="341.80" font-size="7.0" font-weight="bold" fill="#000" text-anchor="middle" stroke="#000" stroke-width="0.22" transform="translate(0,-23.926) scale(1,1.07)" >TSS</text>
<line x1="360.5" y1="333.2" x2="360.5" y2="335.4" stroke="#333" stroke-width="0.9"/>
<text x="360.50" y="341.80" font-size="7.0" font-weight="bold" fill="#000" text-anchor="middle" stroke="#000" stroke-width="0.22" transform="translate(0,-23.926) scale(1,1.07)" >TES</text>
<line x1="403.5" y1="333.2" x2="403.5" y2="335.4" stroke="#333" stroke-width="0.9"/>
<text x="400.50" y="341.80" font-size="7.0" font-weight="bold" fill="#000" text-anchor="middle" stroke="#000" stroke-width="0.22" transform="translate(0,-23.926) scale(1,1.07)" >5.0 Kb</text>
<g transform="translate(215.2,288.5) rotate(-90)"><text x="0" y="0.00" font-size="8" font-weight="bold" fill="#000" stroke="#000" stroke-width="0.2" text-anchor="middle">H3K36me3 reads density</text></g>
<text x="293.50" y="233.00" font-size="8" font-weight="bold" fill="#F42020" text-anchor="start" stroke="#F42020" stroke-width="0.22" transform="translate(0,-16.310) scale(1,1.07)" >H3K36me3</text>
<path d="M231.40,327.33 L231.80,327.21 L232.20,327.17 L232.60,327.02 L233.00,327.29 L233.40,327.09 L233.80,328.20 L234.20,327.70 L234.60,327.15 L235.00,327.53 L235.40,327.25 L235.80,328.23 L236.20,327.83 L236.60,328.12 L237.00,327.79 L237.40,327.78 L237.80,328.48 L238.20,328.26 L238.60,328.21 L239.00,327.47 L239.40,327.68 L239.80,328.44 L240.20,327.69 L240.60,328.52 L241.00,327.96 L241.40,328.58 L241.80,328.76 L242.20,327.73 L242.60,328.56 L243.00,328.58 L243.40,327.67 L243.80,327.83 L244.20,328.57 L244.60,327.78 L245.00,328.32 L245.40,328.17 L245.80,328.77 L246.20,327.91 L246.60,328.24 L247.00,327.93 L247.40,328.04 L247.80,328.79 L248.20,328.74 L248.60,329.00 L249.00,329.05 L249.40,329.18 L249.80,328.91 L250.20,328.57 L250.60,329.32 L251.00,328.53 L251.40,328.96 L251.80,329.02 L252.20,328.43 L252.60,328.86 L253.00,329.08 L253.40,328.90 L253.80,328.65 L254.20,329.46 L254.60,328.36 L255.00,329.54 L255.40,328.68 L255.80,328.58 L256.20,329.60 L256.60,328.68 L257.00,329.21 L257.40,328.97 L257.80,329.67 L258.20,329.63 L258.60,329.48 L259.00,328.55 L259.40,329.47 L259.80,328.80 L260.20,328.56 L260.60,328.49 L261.00,329.16 L261.40,329.09 L261.80,328.82 L262.20,328.44 L262.60,329.18 L263.00,328.31 L263.40,328.16 L263.80,327.98 L264.20,328.86 L264.60,327.63 L265.00,328.52 L265.40,328.05 L265.80,327.54 L266.20,326.95 L266.60,327.39 L267.00,326.38 L267.40,326.50 L267.80,326.38 L268.20,325.92 L268.60,325.55 L269.00,325.03 L269.40,324.18 L269.80,322.61 L270.20,321.13 L270.60,320.81 L271.00,319.33 L271.40,316.24 L271.80,314.49 L272.20,312.00 L272.60,309.36 L273.00,306.18 L273.40,303.72 L273.80,303.08 L274.20,303.44 L274.60,305.44 L275.00,306.79 L275.40,310.57 L275.80,312.65 L276.20,314.58 L276.60,317.43 L277.00,318.35 L277.40,319.42 L277.80,320.88 L278.20,321.56 L278.60,323.09 L279.00,323.26 L279.40,324.06 L279.80,323.58 L280.20,324.54 L280.60,324.58 L281.00,324.10 L281.40,324.41 L281.80,324.36 L282.20,325.06 L282.60,325.07 L283.00,324.80 L283.40,325.12 L283.80,325.34 L284.20,325.19 L284.60,325.47 L285.00,325.15 L285.40,324.37 L285.80,324.35 L286.20,324.69 L286.60,324.78 L287.00,324.91 L287.40,325.14 L287.80,324.84 L288.20,324.14 L288.60,323.95 L289.00,324.48 L289.40,323.88 L289.80,323.80 L290.20,323.82 L290.60,323.80 L291.00,323.62 L291.40,324.04 L291.80,323.56 L292.20,324.01 L292.60,323.69 L293.00,323.28 L293.40,323.30 L293.80,323.72 L294.20,322.86 L294.60,323.15 L295.00,323.16 L295.40,323.78 L295.80,323.06 L296.20,323.35 L296.60,322.76 L297.00,322.95 L297.40,322.44 L297.80,322.58 L298.20,322.32 L298.60,322.80 L299.00,322.37 L299.40,322.18 L299.80,322.00 L300.20,322.50 L300.60,321.83 L301.00,321.72 L301.40,321.86 L301.80,321.44 L302.20,321.39 L302.60,321.84 L303.00,321.75 L303.40,322.12 L303.80,321.23 L304.20,321.03 L304.60,321.51 L305.00,321.17 L305.40,321.06 L305.80,320.97 L306.20,321.58 L306.60,320.76 L307.00,320.93 L307.40,320.75 L307.80,320.97 L308.20,320.65 L308.60,320.39 L309.00,320.48 L309.40,320.30 L309.80,321.07 L310.20,320.83 L310.60,320.41 L311.00,320.08 L311.40,320.53 L311.80,319.88 L312.20,319.88 L312.60,320.51 L313.00,319.92 L313.40,320.14 L313.80,320.27 L314.20,320.10 L314.60,319.80 L315.00,319.89 L315.40,319.80 L315.80,319.91 L316.20,319.31 L316.60,319.34 L317.00,318.98 L317.40,318.93 L317.80,319.28 L318.20,318.40 L318.60,319.42 L319.00,318.85 L319.40,318.93 L319.80,318.69 L320.20,318.99 L320.60,318.06 L321.00,318.56 L321.40,318.92 L321.80,318.16 L322.20,318.73 L322.60,318.13 L323.00,318.33 L323.40,317.98 L323.80,317.46 L324.20,317.58 L324.60,318.01 L325.00,317.47 L325.40,317.62 L325.80,317.90 L326.20,318.12 L326.60,317.51 L327.00,317.50 L327.40,316.96 L327.80,316.90 L328.20,317.28 L328.60,317.53 L329.00,316.82 L329.40,317.85 L329.80,317.66 L330.20,317.05 L330.60,316.94 L331.00,317.46 L331.40,316.81 L331.80,316.43 L332.20,317.00 L332.60,316.88 L333.00,317.08 L333.40,316.94 L333.80,316.06 L334.20,316.72 L334.60,315.96 L335.00,315.96 L335.40,316.29 L335.80,316.65 L336.20,315.72 L336.60,316.25 L337.00,316.29 L337.40,316.35 L337.80,315.49 L338.20,316.03 L338.60,316.23 L339.00,315.94 L339.40,316.31 L339.80,315.65 L340.20,315.81 L340.60,315.94 L341.00,315.30 L341.40,315.19 L341.80,316.13 L342.20,315.45 L342.60,315.71 L343.00,314.85 L343.40,314.99 L343.80,315.59 L344.20,315.51 L344.60,315.59 L345.00,314.53 L345.40,315.32 L345.80,314.89 L346.20,315.00 L346.60,314.74 L347.00,314.74 L347.40,314.51 L347.80,315.22 L348.20,314.39 L348.60,314.90 L349.00,314.56 L349.40,314.75 L349.80,314.74 L350.20,314.42 L350.60,314.48 L351.00,314.59 L351.40,314.10 L351.80,314.27 L352.20,314.92 L352.60,314.64 L353.00,314.37 L353.40,313.79 L353.80,313.80 L354.20,314.20 L354.60,314.82 L355.00,313.87 L355.40,314.49 L355.80,314.51 L356.20,314.54 L356.60,314.83 L357.00,315.21 L357.40,314.88 L357.80,315.72 L358.20,315.90 L358.60,316.10 L359.00,317.65 L359.40,318.28 L359.80,318.39 L360.20,320.07 L360.60,319.55 L361.00,319.14 L361.40,318.87 L361.80,318.45 L362.20,317.27 L362.60,316.52 L363.00,317.16 L363.40,316.75 L363.80,316.67 L364.20,316.73 L364.60,316.93 L365.00,317.15 L365.40,316.62 L365.80,316.35 L366.20,317.30 L366.60,317.21 L367.00,316.60 L367.40,316.74 L367.80,317.00 L368.20,317.87 L368.60,317.13 L369.00,316.92 L369.40,317.00 L369.80,317.47 L370.20,318.37 L370.60,317.51 L371.00,318.37 L371.40,317.95 L371.80,317.69 L372.20,318.08 L372.60,318.89 L373.00,318.80 L373.40,318.14 L373.80,319.18 L374.20,318.72 L374.60,319.07 L375.00,319.48 L375.40,319.00 L375.80,319.79 L376.20,319.79 L376.60,319.55 L377.00,320.00 L377.40,320.10 L377.80,319.56 L378.20,319.44 L378.60,319.36 L379.00,320.34 L379.40,320.06 L379.80,320.29 L380.20,320.03 L380.60,320.24 L381.00,319.78 L381.40,320.55 L381.80,321.02 L382.20,320.33 L382.60,321.07 L383.00,320.57 L383.40,320.81 L383.80,320.40 L384.20,320.91 L384.60,320.92 L385.00,321.43 L385.40,321.19 L385.80,321.65 L386.20,321.14 L386.60,321.53 L387.00,322.09 L387.40,322.07 L387.80,322.01 L388.20,321.66 L388.60,322.44 L389.00,321.89 L389.40,322.07 L389.80,322.86 L390.20,322.25 L390.60,323.05 L391.00,323.11 L391.40,322.64 L391.80,323.17 L392.20,322.50 L392.60,323.08 L393.00,323.37 L393.40,322.90 L393.80,323.93 L394.20,323.19 L394.60,324.10 L395.00,324.09 L395.40,323.11 L395.80,323.44 L396.20,324.00 L396.60,324.13 L397.00,323.09 L397.40,323.46 L397.80,323.27 L398.20,324.10 L398.60,323.51 L399.00,323.84 L399.40,323.98 L399.80,323.86 L400.20,323.52 L400.60,323.85 L401.00,323.80 L401.40,324.10 L401.80,323.26 L402.20,323.48 L402.60,323.29 L403.00,323.74 L403.40,323.23" fill="none" stroke="#F7A9B3" stroke-width="0.9"/>
<path d="M231.40,327.82 L231.80,327.82 L232.20,327.85 L232.60,327.82 L233.00,327.96 L233.40,328.09 L233.80,328.14 L234.20,328.11 L234.60,328.19 L235.00,327.92 L235.40,328.09 L235.80,328.02 L236.20,328.31 L236.60,328.17 L237.00,328.05 L237.40,328.17 L237.80,328.27 L238.20,328.28 L238.60,328.43 L239.00,328.44 L239.40,328.46 L239.80,328.41 L240.20,328.44 L240.60,328.29 L241.00,328.57 L241.40,328.56 L241.80,328.58 L242.20,328.65 L242.60,328.63 L243.00,328.67 L243.40,328.61 L243.80,328.79 L244.20,328.51 L244.60,328.73 L245.00,328.56 L245.40,328.67 L245.80,328.70 L246.20,328.80 L246.60,328.66 L247.00,328.97 L247.40,328.81 L247.80,328.96 L248.20,328.86 L248.60,328.86 L249.00,329.08 L249.40,329.10 L249.80,329.18 L250.20,329.14 L250.60,329.21 L251.00,329.12 L251.40,328.95 L251.80,329.18 L252.20,329.22 L252.60,329.19 L253.00,329.28 L253.40,329.14 L253.80,329.17 L254.20,329.38 L254.60,329.37 L255.00,329.24 L255.40,329.17 L255.80,329.28 L256.20,329.38 L256.60,329.20 L257.00,329.55 L257.40,329.54 L257.80,329.31 L258.20,329.44 L258.60,329.57 L259.00,329.40 L259.40,329.25 L259.80,329.41 L260.20,329.44 L260.60,329.47 L261.00,329.42 L261.40,329.06 L261.80,329.13 L262.20,328.89 L262.60,329.11 L263.00,328.95 L263.40,328.91 L263.80,328.67 L264.20,328.65 L264.60,328.43 L265.00,328.21 L265.40,328.06 L265.80,327.93 L266.20,327.68 L266.60,327.06 L267.00,327.00 L267.40,326.50 L267.80,326.09 L268.20,325.53 L268.60,325.09 L269.00,324.30 L269.40,323.54 L269.80,322.41 L270.20,321.10 L270.60,319.81 L271.00,318.05 L271.40,316.28 L271.80,314.01 L272.20,311.15 L272.60,308.22 L273.00,305.18 L273.40,302.54 L273.80,300.51 L274.20,299.74 L274.60,300.28 L275.00,302.29 L275.40,304.82 L275.80,307.56 L276.20,310.58 L276.60,313.17 L277.00,315.31 L277.40,317.24 L277.80,318.55 L278.20,319.80 L278.60,321.01 L279.00,321.93 L279.40,322.64 L279.80,323.15 L280.20,323.67 L280.60,323.94 L281.00,324.20 L281.40,324.55 L281.80,324.81 L282.20,324.74 L282.60,325.08 L283.00,325.11 L283.40,325.14 L283.80,325.15 L284.20,325.27 L284.60,325.17 L285.00,325.20 L285.40,325.03 L285.80,325.06 L286.20,324.91 L286.60,324.95 L287.00,324.86 L287.40,324.86 L287.80,324.84 L288.20,324.64 L288.60,324.62 L289.00,324.44 L289.40,324.44 L289.80,324.37 L290.20,324.45 L290.60,324.20 L291.00,324.29 L291.40,324.32 L291.80,324.28 L292.20,324.18 L292.60,324.08 L293.00,323.88 L293.40,323.94 L293.80,323.95 L294.20,323.64 L294.60,323.65 L295.00,323.76 L295.40,323.68 L295.80,323.58 L296.20,323.44 L296.60,323.19 L297.00,323.09 L297.40,323.13 L297.80,323.19 L298.20,323.05 L298.60,323.01 L299.00,322.94 L299.40,322.98 L299.80,322.71 L300.20,322.55 L300.60,322.51 L301.00,322.66 L301.40,322.43 L301.80,322.48 L302.20,322.21 L302.60,322.23 L303.00,321.98 L303.40,321.96 L303.80,322.11 L304.20,321.97 L304.60,321.69 L305.00,321.77 L305.40,321.70 L305.80,321.62 L306.20,321.43 L306.60,321.30 L307.00,321.36 L307.40,321.13 L307.80,321.19 L308.20,321.28 L308.60,320.96 L309.00,321.02 L309.40,321.07 L309.80,320.67 L310.20,320.92 L310.60,320.66 L311.00,320.62 L311.40,320.40 L311.80,320.49 L312.20,320.48 L312.60,320.38 L313.00,320.33 L313.40,320.13 L313.80,320.13 L314.20,319.91 L314.60,320.01 L315.00,319.90 L315.40,319.86 L315.80,319.53 L316.20,319.50 L316.60,319.42 L317.00,319.42 L317.40,319.42 L317.80,319.44 L318.20,319.12 L318.60,319.16 L319.00,319.24 L319.40,319.12 L319.80,319.07 L320.20,318.79 L320.60,318.67 L321.00,318.86 L321.40,318.60 L321.80,318.70 L322.20,318.52 L322.60,318.41 L323.00,318.43 L323.40,318.32 L323.80,318.41 L324.20,318.48 L324.60,318.25 L325.00,318.17 L325.40,318.25 L325.80,318.13 L326.20,318.10 L326.60,318.14 L327.00,317.99 L327.40,317.91 L327.80,317.82 L328.20,317.68 L328.60,317.73 L329.00,317.48 L329.40,317.48 L329.80,317.39 L330.20,317.41 L330.60,317.36 L331.00,317.35 L331.40,317.21 L331.80,317.30 L332.20,317.17 L332.60,317.08 L333.00,317.08 L333.40,317.11 L333.80,317.13 L334.20,317.07 L334.60,316.92 L335.00,316.78 L335.40,316.67 L335.80,316.63 L336.20,316.71 L336.60,316.44 L337.00,316.61 L337.40,316.40 L337.80,316.57 L338.20,316.28 L338.60,316.25 L339.00,316.10 L339.40,316.06 L339.80,316.08 L340.20,315.98 L340.60,315.96 L341.00,315.95 L341.40,316.04 L341.80,315.88 L342.20,315.70 L342.60,315.87 L343.00,315.56 L343.40,315.66 L343.80,315.66 L344.20,315.74 L344.60,315.56 L345.00,315.58 L345.40,315.36 L345.80,315.23 L346.20,315.17 L346.60,315.22 L347.00,315.25 L347.40,315.29 L347.80,315.04 L348.20,315.03 L348.60,314.93 L349.00,314.99 L349.40,314.76 L349.80,314.94 L350.20,314.88 L350.60,314.87 L351.00,314.72 L351.40,314.61 L351.80,314.84 L352.20,314.66 L352.60,314.59 L353.00,314.76 L353.40,314.79 L353.80,314.60 L354.20,314.49 L354.60,314.45 L355.00,314.48 L355.40,314.78 L355.80,314.97 L356.20,315.13 L356.60,315.20 L357.00,315.60 L357.40,315.80 L357.80,315.89 L358.20,315.96 L358.60,316.98 L359.00,317.79 L359.40,318.51 L359.80,319.11 L360.20,319.85 L360.60,320.42 L361.00,319.83 L361.40,319.10 L361.80,318.49 L362.20,317.89 L362.60,317.29 L363.00,317.22 L363.40,317.08 L363.80,316.96 L364.20,316.91 L364.60,317.14 L365.00,316.95 L365.40,317.02 L365.80,316.92 L366.20,317.22 L366.60,317.16 L367.00,317.21 L367.40,317.44 L367.80,317.68 L368.20,317.75 L368.60,317.87 L369.00,317.99 L369.40,318.08 L369.80,318.02 L370.20,318.30 L370.60,318.18 L371.00,318.29 L371.40,318.37 L371.80,318.48 L372.20,318.61 L372.60,318.64 L373.00,318.73 L373.40,318.95 L373.80,318.94 L374.20,319.34 L374.60,319.45 L375.00,319.56 L375.40,319.60 L375.80,319.62 L376.20,319.68 L376.60,319.68 L377.00,319.75 L377.40,320.06 L377.80,320.03 L378.20,320.06 L378.60,320.21 L379.00,320.38 L379.40,320.30 L379.80,320.46 L380.20,320.43 L380.60,320.58 L381.00,320.50 L381.40,320.59 L381.80,320.98 L382.20,320.82 L382.60,320.92 L383.00,321.15 L383.40,321.29 L383.80,321.25 L384.20,321.38 L384.60,321.33 L385.00,321.35 L385.40,321.64 L385.80,321.77 L386.20,321.80 L386.60,321.83 L387.00,321.90 L387.40,322.07 L387.80,322.27 L388.20,322.36 L388.60,322.28 L389.00,322.49 L389.40,322.76 L389.80,322.73 L390.20,322.89 L390.60,322.84 L391.00,323.15 L391.40,323.18 L391.80,323.34 L392.20,323.31 L392.60,323.24 L393.00,323.49 L393.40,323.65 L393.80,323.56 L394.20,323.95 L394.60,323.96 L395.00,323.90 L395.40,324.18 L395.80,323.92 L396.20,324.06 L396.60,324.18 L397.00,324.09 L397.40,324.02 L397.80,324.05 L398.20,324.00 L398.60,324.16 L399.00,324.11 L399.40,323.84 L399.80,324.03 L400.20,324.02 L400.60,324.15 L401.00,324.08 L401.40,323.85 L401.80,323.94 L402.20,324.01 L402.60,324.16 L403.00,324.05 L403.40,323.91" fill="none" stroke="#F03434" stroke-width="1"/>
<path d="M231.40,326.27 L231.80,326.26 L232.20,326.21 L232.60,326.27 L233.00,326.28 L233.40,326.39 L233.80,326.40 L234.20,326.28 L234.60,326.35 L235.00,326.28 L235.40,326.30 L235.80,326.29 L236.20,326.40 L236.60,326.30 L237.00,326.35 L237.40,326.33 L237.80,326.47 L238.20,326.37 L238.60,326.44 L239.00,326.36 L239.40,326.36 L239.80,326.51 L240.20,326.48 L240.60,326.52 L241.00,326.49 L241.40,326.53 L241.80,326.48 L242.20,326.58 L242.60,326.58 L243.00,326.54 L243.40,326.62 L243.80,326.57 L244.20,326.49 L244.60,326.50 L245.00,326.63 L245.40,326.67 L245.80,326.54 L246.20,326.52 L246.60,326.60 L247.00,326.69 L247.40,326.68 L247.80,326.57 L248.20,326.57 L248.60,326.74 L249.00,326.72 L249.40,326.68 L249.80,326.72 L250.20,326.65 L250.60,326.73 L251.00,326.68 L251.40,326.81 L251.80,326.76 L252.20,326.70 L252.60,326.76 L253.00,326.88 L253.40,326.89 L253.80,326.81 L254.20,326.87 L254.60,326.88 L255.00,326.86 L255.40,326.85 L255.80,326.79 L256.20,326.91 L256.60,326.85 L257.00,326.90 L257.40,326.84 L257.80,326.79 L258.20,326.83 L258.60,326.65 L259.00,326.49 L259.40,326.48 L259.80,326.22 L260.20,326.13 L260.60,325.96 L261.00,325.77 L261.40,325.55 L261.80,325.48 L262.20,325.18 L262.60,325.02 L263.00,324.69 L263.40,324.40 L263.80,324.14 L264.20,323.72 L264.60,323.29 L265.00,322.80 L265.40,322.24 L265.80,321.76 L266.20,321.06 L266.60,320.26 L267.00,319.34 L267.40,318.32 L267.80,317.14 L268.20,315.89 L268.60,314.32 L269.00,312.30 L269.40,310.22 L269.80,307.50 L270.20,304.27 L270.60,300.50 L271.00,295.94 L271.40,290.37 L271.80,284.00 L272.20,276.48 L272.60,268.15 L273.00,259.76 L273.40,252.00 L273.80,246.42 L274.20,244.32 L274.60,246.23 L275.00,251.50 L275.40,259.05 L275.80,267.32 L276.20,275.31 L276.60,282.58 L277.00,288.68 L277.40,294.04 L277.80,298.38 L278.20,301.86 L278.60,304.81 L279.00,307.31 L279.40,309.20 L279.80,310.88 L280.20,312.28 L280.60,313.36 L281.00,314.36 L281.40,315.13 L281.80,315.67 L282.20,316.35 L282.60,316.85 L283.00,317.48 L283.40,317.92 L283.80,318.31 L284.20,318.52 L284.60,318.83 L285.00,319.17 L285.40,319.38 L285.80,319.44 L286.20,319.66 L286.60,319.73 L287.00,320.00 L287.40,320.01 L287.80,320.19 L288.20,320.16 L288.60,320.25 L289.00,320.31 L289.40,320.43 L289.80,320.35 L290.20,320.55 L290.60,320.64 L291.00,320.60 L291.40,320.77 L291.80,320.84 L292.20,320.83 L292.60,320.86 L293.00,320.87 L293.40,320.95 L293.80,321.11 L294.20,321.06 L294.60,321.07 L295.00,321.24 L295.40,321.17 L295.80,321.30 L296.20,321.34 L296.60,321.43 L297.00,321.34 L297.40,321.42 L297.80,321.39 L298.20,321.50 L298.60,321.59 L299.00,321.62 L299.40,321.65 L299.80,321.56 L300.20,321.69 L300.60,321.68 L301.00,321.59 L301.40,321.60 L301.80,321.51 L302.20,321.43 L302.60,321.39 L303.00,321.44 L303.40,321.40 L303.80,321.31 L304.20,321.23 L304.60,321.24 L305.00,321.18 L305.40,321.08 L305.80,321.18 L306.20,321.12 L306.60,321.04 L307.00,320.99 L307.40,320.89 L307.80,320.91 L308.20,320.86 L308.60,320.86 L309.00,320.76 L309.40,320.71 L309.80,320.77 L310.20,320.76 L310.60,320.70 L311.00,320.64 L311.40,320.51 L311.80,320.58 L312.20,320.48 L312.60,320.44 L313.00,320.35 L313.40,320.46 L313.80,320.30 L314.20,320.34 L314.60,320.34 L315.00,320.21 L315.40,320.14 L315.80,320.15 L316.20,320.20 L316.60,320.00 L317.00,320.07 L317.40,319.98 L317.80,319.93 L318.20,319.97 L318.60,319.91 L319.00,319.88 L319.40,319.89 L319.80,319.85 L320.20,319.71 L320.60,319.74 L321.00,319.63 L321.40,319.74 L321.80,319.68 L322.20,319.67 L322.60,319.51 L323.00,319.51 L323.40,319.47 L323.80,319.51 L324.20,319.56 L324.60,319.48 L325.00,319.48 L325.40,319.49 L325.80,319.37 L326.20,319.39 L326.60,319.40 L327.00,319.30 L327.40,319.20 L327.80,319.18 L328.20,319.23 L328.60,319.27 L329.00,319.13 L329.40,319.22 L329.80,319.12 L330.20,319.17 L330.60,318.99 L331.00,319.04 L331.40,319.03 L331.80,319.03 L332.20,318.96 L332.60,318.86 L333.00,318.93 L333.40,318.94 L333.80,318.86 L334.20,318.76 L334.60,318.83 L335.00,318.76 L335.40,318.69 L335.80,318.76 L336.20,318.65 L336.60,318.68 L337.00,318.72 L337.40,318.71 L337.80,318.53 L338.20,318.58 L338.60,318.56 L339.00,318.45 L339.40,318.49 L339.80,318.47 L340.20,318.48 L340.60,318.37 L341.00,318.42 L341.40,318.34 L341.80,318.26 L342.20,318.25 L342.60,318.30 L343.00,318.25 L343.40,318.13 L343.80,318.09 L344.20,318.16 L344.60,317.97 L345.00,318.09 L345.40,318.05 L345.80,318.03 L346.20,317.93 L346.60,317.87 L347.00,317.79 L347.40,317.88 L347.80,317.75 L348.20,317.82 L348.60,317.70 L349.00,317.72 L349.40,317.67 L349.80,317.69 L350.20,317.54 L350.60,317.61 L351.00,317.46 L351.40,317.50 L351.80,317.42 L352.20,317.38 L352.60,317.37 L353.00,317.27 L353.40,317.22 L353.80,317.30 L354.20,317.26 L354.60,317.13 L355.00,317.22 L355.40,317.38 L355.80,317.59 L356.20,317.71 L356.60,318.06 L357.00,318.18 L357.40,318.38 L357.80,318.59 L358.20,318.93 L358.60,319.53 L359.00,320.58 L359.40,321.43 L359.80,322.41 L360.20,323.40 L360.60,323.82 L361.00,322.98 L361.40,322.17 L361.80,321.24 L362.20,320.41 L362.60,319.67 L363.00,319.49 L363.40,319.26 L363.80,319.18 L364.20,318.92 L364.60,318.81 L365.00,318.47 L365.40,318.28 L365.80,318.07 L366.20,318.14 L366.60,318.14 L367.00,318.22 L367.40,318.36 L367.80,318.42 L368.20,318.37 L368.60,318.47 L369.00,318.65 L369.40,318.62 L369.80,318.73 L370.20,318.86 L370.60,318.89 L371.00,319.04 L371.40,319.11 L371.80,319.23 L372.20,319.19 L372.60,319.28 L373.00,319.33 L373.40,319.45 L373.80,319.54 L374.20,319.64 L374.60,319.64 L375.00,319.78 L375.40,319.80 L375.80,319.82 L376.20,319.93 L376.60,319.94 L377.00,320.10 L377.40,320.11 L377.80,320.07 L378.20,320.24 L378.60,320.31 L379.00,320.36 L379.40,320.29 L379.80,320.45 L380.20,320.44 L380.60,320.50 L381.00,320.49 L381.40,320.60 L381.80,320.64 L382.20,320.78 L382.60,320.70 L383.00,320.75 L383.40,320.83 L383.80,320.85 L384.20,320.94 L384.60,320.97 L385.00,321.00 L385.40,321.09 L385.80,321.25 L386.20,321.15 L386.60,321.18 L387.00,321.37 L387.40,321.45 L387.80,321.45 L388.20,321.55 L388.60,321.55 L389.00,321.65 L389.40,321.68 L389.80,321.77 L390.20,321.75 L390.60,321.82 L391.00,321.80 L391.40,321.91 L391.80,322.00 L392.20,321.92 L392.60,321.98 L393.00,322.07 L393.40,322.20 L393.80,322.22 L394.20,322.27 L394.60,322.32 L395.00,322.44 L395.40,322.36 L395.80,322.30 L396.20,322.30 L396.60,322.27 L397.00,322.29 L397.40,322.27 L397.80,322.24 L398.20,322.22 L398.60,322.24 L399.00,322.29 L399.40,322.24 L399.80,322.24 L400.20,322.19 L400.60,322.21 L401.00,322.25 L401.40,322.28 L401.80,322.25 L402.20,322.26 L402.60,322.17 L403.00,322.15 L403.40,322.24" fill="none" stroke="#2323F0" stroke-width="1.05"/>
<line x1="298" y1="253.6" x2="308.7" y2="253.6" stroke="#2323F0" stroke-width="1.2"/>
<text x="312.30" y="255.80" font-size="6.7" font-weight="bold" fill="#000" text-anchor="start" stroke="#000" stroke-width="0.22" transform="translate(0,-17.906) scale(1,1.07)" >WT</text>
<line x1="298" y1="261.3" x2="308.7" y2="261.3" stroke="#F03434" stroke-width="1.2"/>
<text x="312.30" y="263.50" font-size="6.7" font-weight="bold" fill="#000" text-anchor="start" stroke="#000" stroke-width="0.22" transform="translate(0,-18.445) scale(1,1.07)" ><tspan font-style="italic">Smyd5</tspan> KO #1</text>
<line x1="298" y1="269.0" x2="308.7" y2="269.0" stroke="#F7A9B3" stroke-width="1.2"/>
<text x="312.30" y="271.20" font-size="6.7" font-weight="bold" fill="#000" text-anchor="start" stroke="#000" stroke-width="0.22" transform="translate(0,-18.984) scale(1,1.07)" ><tspan font-style="italic">Smyd5</tspan> KO #2</text>
<text x="539.00" y="225.40" font-size="9.5" font-weight="bold" fill="#F42020" text-anchor="start" stroke="#F42020" stroke-width="0.22" transform="translate(0,-15.778) scale(1,1.07)" >H3K36me3</text>
<line x1="485.4" y1="228.3" x2="639" y2="228.3" stroke="#000" stroke-width="1"/>
<text x="509.40" y="236.90" font-size="8" font-weight="bold" fill="#000" text-anchor="middle" stroke="#000" stroke-width="0.22" transform="translate(0,-16.583) scale(1,1.07)" >WT</text>
<text x="534.40" y="236.90" font-size="7.6" font-weight="bold" fill="#000" text-anchor="start" stroke="#000" stroke-width="0.22" transform="translate(0,-16.583) scale(1,1.07)" ><tspan font-style="italic">Smyd5</tspan> KO #1</text>
<text x="586.30" y="236.90" font-size="7.6" font-weight="bold" fill="#000" text-anchor="start" stroke="#000" stroke-width="0.22" transform="translate(0,-16.583) scale(1,1.07)" ><tspan font-style="italic">Smyd5</tspan> KO #2</text>
<defs><linearGradient id="hbase" x1="0" y1="0" x2="0" y2="1">
<stop offset="0" stop-color="#d8e5f3"/><stop offset="0.35" stop-color="#e3ecf6"/><stop offset="0.7" stop-color="#eff4fa"/><stop offset="1" stop-color="#f7fafd"/></linearGradient>
<linearGradient id="hbody" x1="0" y1="0" x2="0" y2="1">
<stop offset="0" stop-color="#2474ba" stop-opacity="0.85"/><stop offset="0.03" stop-color="#3b86c6" stop-opacity="0.6"/><stop offset="0.1" stop-color="#5b9cd2" stop-opacity="0.42"/><stop offset="0.22" stop-color="#82b4dd" stop-opacity="0.34"/><stop offset="0.4" stop-color="#a9cbe8" stop-opacity="0.22"/><stop offset="0.65" stop-color="#c8ddf0" stop-opacity="0.1"/><stop offset="1" stop-color="#ffffff" stop-opacity="0"/></linearGradient>
<linearGradient id="hbody2" x1="0" y1="0" x2="0" y2="1">
<stop offset="0" stop-color="#2c7bbf" stop-opacity="0.8"/><stop offset="0.03" stop-color="#4590cb" stop-opacity="0.58"/><stop offset="0.1" stop-color="#65a3d5" stop-opacity="0.42"/><stop offset="0.24" stop-color="#8bb9e0" stop-opacity="0.32"/><stop offset="0.42" stop-color="#b2cfea" stop-opacity="0.2"/><stop offset="0.7" stop-color="#cde0f1" stop-opacity="0.08"/><stop offset="1" stop-color="#ffffff" stop-opacity="0"/></linearGradient>
<radialGradient id="htop" cx="0.5" cy="0.5" r="0.5"><stop offset="0" stop-color="#1f72b8" stop-opacity="0.6"/><stop offset="0.35" stop-color="#3f8bc8" stop-opacity="0.32"/><stop offset="0.7" stop-color="#78aedb" stop-opacity="0.15"/><stop offset="1" stop-color="#ffffff" stop-opacity="0"/></radialGradient>
<linearGradient id="htss" x1="0" y1="0" x2="0" y2="1">
<stop offset="0" stop-color="#1a62aa" stop-opacity="1"/><stop offset="0.35" stop-color="#2a70b6" stop-opacity="0.9"/><stop offset="0.6" stop-color="#3f82c2" stop-opacity="0.7"/><stop offset="0.85" stop-color="#8ab6dd" stop-opacity="0.4"/><stop offset="1" stop-color="#c6dbef" stop-opacity="0"/></linearGradient>
<linearGradient id="htss2" x1="0" y1="0" x2="0" y2="1">
<stop offset="0" stop-color="#4d8dc8" stop-opacity="0.75"/><stop offset="0.4" stop-color="#79acd8" stop-opacity="0.45"/><stop offset="0.8" stop-color="#b0cde8" stop-opacity="0.25"/><stop offset="1" stop-color="#ffffff" stop-opacity="0"/></linearGradient>
<linearGradient id="cbar" x1="0" y1="0" x2="0" y2="1">
<stop offset="0" stop-color="#08306b"/><stop offset="0.15" stop-color="#0b4d94"/><stop offset="0.35" stop-color="#3282be"/><stop offset="0.55" stop-color="#6aaed6"/><stop offset="0.75" stop-color="#a9cfe5"/><stop offset="1" stop-color="#f7fbff"/></linearGradient></defs>
<rect x="485.5" y="239.1" width="47.90" height="112.50000000000003" fill="url(#hbase)"/>
<rect x="496.90" y="239.1" width="36.50" height="112.50000000000003" fill="url(#hbody)"/>
<clipPath id="hc0"><rect x="485.5" y="239.1" width="47.90" height="112.50000000000003"/></clipPath>
<ellipse cx="518.80" cy="239.1" rx="29.20" ry="36.00" fill="url(#htop)" clip-path="url(#hc0)"/>
<rect x="496.10" y="239.1" width="1.8" height="108.50000000000003" fill="url(#htss)"/>
<rect x="521.70" y="239.1" width="1" height="84.4" fill="url(#htss2)" opacity="0.25"/>
<line x1="496.9" y1="274.5" x2="533.4" y2="274.5" stroke="#ffffff" stroke-width="0.5" opacity="0.09"/>
<line x1="496.9" y1="274.9" x2="533.4" y2="274.9" stroke="#ffffff" stroke-width="0.5" opacity="0.07"/>
<line x1="496.9" y1="289.4" x2="533.4" y2="289.4" stroke="#ffffff" stroke-width="0.5" opacity="0.13"/>
<line x1="496.9" y1="279.5" x2="533.4" y2="279.5" stroke="#ffffff" stroke-width="0.5" opacity="0.07"/>
<line x1="496.9" y1="271.3" x2="533.4" y2="271.3" stroke="#ffffff" stroke-width="0.5" opacity="0.08"/>
<line x1="496.9" y1="254.6" x2="533.4" y2="254.6" stroke="#ffffff" stroke-width="0.5" opacity="0.15"/>
<line x1="496.9" y1="300.8" x2="533.4" y2="300.8" stroke="#ffffff" stroke-width="0.5" opacity="0.05"/>
<line x1="496.9" y1="292.3" x2="533.4" y2="292.3" stroke="#ffffff" stroke-width="0.5" opacity="0.11"/>
<line x1="496.9" y1="262.7" x2="533.4" y2="262.7" stroke="#ffffff" stroke-width="0.5" opacity="0.08"/>
<line x1="496.9" y1="280.9" x2="533.4" y2="280.9" stroke="#ffffff" stroke-width="0.5" opacity="0.10"/>
<line x1="496.9" y1="281.5" x2="533.4" y2="281.5" stroke="#ffffff" stroke-width="0.5" opacity="0.12"/>
<line x1="496.9" y1="247.3" x2="533.4" y2="247.3" stroke="#ffffff" stroke-width="0.5" opacity="0.13"/>
<line x1="496.9" y1="299.9" x2="533.4" y2="299.9" stroke="#ffffff" stroke-width="0.5" opacity="0.15"/>
<line x1="496.9" y1="277.0" x2="533.4" y2="277.0" stroke="#ffffff" stroke-width="0.5" opacity="0.05"/>
<line x1="496.9" y1="239.4" x2="533.4" y2="239.4" stroke="#ffffff" stroke-width="0.5" opacity="0.06"/>
<line x1="496.9" y1="297.3" x2="533.4" y2="297.3" stroke="#ffffff" stroke-width="0.5" opacity="0.08"/>
<line x1="496.9" y1="261.8" x2="533.4" y2="261.8" stroke="#ffffff" stroke-width="0.5" opacity="0.14"/>
<line x1="496.9" y1="258.6" x2="533.4" y2="258.6" stroke="#ffffff" stroke-width="0.5" opacity="0.10"/>
<line x1="496.9" y1="266.1" x2="533.4" y2="266.1" stroke="#ffffff" stroke-width="0.5" opacity="0.06"/>
<line x1="496.9" y1="275.3" x2="533.4" y2="275.3" stroke="#ffffff" stroke-width="0.5" opacity="0.13"/>
<line x1="496.9" y1="248.8" x2="533.4" y2="248.8" stroke="#ffffff" stroke-width="0.5" opacity="0.07"/>
<line x1="496.9" y1="264.6" x2="533.4" y2="264.6" stroke="#ffffff" stroke-width="0.5" opacity="0.05"/>
<line x1="496.9" y1="269.8" x2="533.4" y2="269.8" stroke="#ffffff" stroke-width="0.5" opacity="0.13"/>
<line x1="496.9" y1="279.8" x2="533.4" y2="279.8" stroke="#ffffff" stroke-width="0.5" opacity="0.10"/>
<line x1="496.9" y1="292.0" x2="533.4" y2="292.0" stroke="#ffffff" stroke-width="0.5" opacity="0.06"/>
<line x1="496.9" y1="274.2" x2="533.4" y2="274.2" stroke="#ffffff" stroke-width="0.5" opacity="0.09"/>
<line x1="496.9" y1="276.3" x2="533.4" y2="276.3" stroke="#ffffff" stroke-width="0.5" opacity="0.06"/>
<line x1="496.9" y1="287.1" x2="533.4" y2="287.1" stroke="#ffffff" stroke-width="0.5" opacity="0.06"/>
<rect x="485.5" y="239.1" width="47.90" height="112.50000000000003" fill="none" stroke="#777" stroke-width="0.8"/>
<line x1="485.5" y1="351.6" x2="485.5" y2="354.2" stroke="#555" stroke-width="0.7"/>
<line x1="496.9" y1="351.6" x2="496.9" y2="354.2" stroke="#555" stroke-width="0.7"/>
<line x1="522.2" y1="351.6" x2="522.2" y2="354.2" stroke="#555" stroke-width="0.7"/>
<line x1="533.4" y1="351.6" x2="533.4" y2="354.2" stroke="#555" stroke-width="0.7"/>
<rect x="536.6" y="239.1" width="48.00" height="112.50000000000003" fill="url(#hbase)"/>
<rect x="548.30" y="239.1" width="36.30" height="112.50000000000003" fill="url(#hbody2)"/>
<clipPath id="hc1"><rect x="536.6" y="239.1" width="48.00" height="112.50000000000003"/></clipPath>
<ellipse cx="570.08" cy="239.1" rx="29.04" ry="36.00" fill="url(#htop)" clip-path="url(#hc1)"/>
<rect x="547.50" y="239.1" width="1.8" height="108.50000000000003" fill="url(#htss2)"/>
<rect x="572.50" y="239.1" width="1" height="84.4" fill="url(#htss2)" opacity="0.25"/>
<rect x="536.6" y="239.1" width="2.5" height="112.50000000000003" fill="#d0d0d0" opacity="0.6"/>
<line x1="548.3" y1="267.1" x2="584.6" y2="267.1" stroke="#ffffff" stroke-width="0.5" opacity="0.11"/>
<line x1="548.3" y1="296.3" x2="584.6" y2="296.3" stroke="#ffffff" stroke-width="0.5" opacity="0.10"/>
<line x1="548.3" y1="270.5" x2="584.6" y2="270.5" stroke="#ffffff" stroke-width="0.5" opacity="0.11"/>
<line x1="548.3" y1="250.5" x2="584.6" y2="250.5" stroke="#ffffff" stroke-width="0.5" opacity="0.10"/>
<line x1="548.3" y1="278.1" x2="584.6" y2="278.1" stroke="#ffffff" stroke-width="0.5" opacity="0.13"/>
<line x1="548.3" y1="244.9" x2="584.6" y2="244.9" stroke="#ffffff" stroke-width="0.5" opacity="0.08"/>
<line x1="548.3" y1="244.7" x2="584.6" y2="244.7" stroke="#ffffff" stroke-width="0.5" opacity="0.13"/>
<line x1="548.3" y1="282.0" x2="584.6" y2="282.0" stroke="#ffffff" stroke-width="0.5" opacity="0.05"/>
<line x1="548.3" y1="299.9" x2="584.6" y2="299.9" stroke="#ffffff" stroke-width="0.5" opacity="0.15"/>
<line x1="548.3" y1="279.6" x2="584.6" y2="279.6" stroke="#ffffff" stroke-width="0.5" opacity="0.11"/>
<line x1="548.3" y1="248.8" x2="584.6" y2="248.8" stroke="#ffffff" stroke-width="0.5" opacity="0.05"/>
<line x1="548.3" y1="271.8" x2="584.6" y2="271.8" stroke="#ffffff" stroke-width="0.5" opacity="0.06"/>
<line x1="548.3" y1="250.9" x2="584.6" y2="250.9" stroke="#ffffff" stroke-width="0.5" opacity="0.07"/>
<line x1="548.3" y1="241.0" x2="584.6" y2="241.0" stroke="#ffffff" stroke-width="0.5" opacity="0.10"/>
<line x1="548.3" y1="266.4" x2="584.6" y2="266.4" stroke="#ffffff" stroke-width="0.5" opacity="0.13"/>
<line x1="548.3" y1="271.2" x2="584.6" y2="271.2" stroke="#ffffff" stroke-width="0.5" opacity="0.11"/>
<line x1="548.3" y1="270.0" x2="584.6" y2="270.0" stroke="#ffffff" stroke-width="0.5" opacity="0.12"/>
<line x1="548.3" y1="267.4" x2="584.6" y2="267.4" stroke="#ffffff" stroke-width="0.5" opacity="0.08"/>
<line x1="548.3" y1="300.8" x2="584.6" y2="300.8" stroke="#ffffff" stroke-width="0.5" opacity="0.15"/>
<line x1="548.3" y1="291.1" x2="584.6" y2="291.1" stroke="#ffffff" stroke-width="0.5" opacity="0.12"/>
<line x1="548.3" y1="258.6" x2="584.6" y2="258.6" stroke="#ffffff" stroke-width="0.5" opacity="0.07"/>
<line x1="548.3" y1="257.0" x2="584.6" y2="257.0" stroke="#ffffff" stroke-width="0.5" opacity="0.06"/>
<line x1="548.3" y1="286.5" x2="584.6" y2="286.5" stroke="#ffffff" stroke-width="0.5" opacity="0.09"/>
<line x1="548.3" y1="291.5" x2="584.6" y2="291.5" stroke="#ffffff" stroke-width="0.5" opacity="0.09"/>
<line x1="548.3" y1="298.4" x2="584.6" y2="298.4" stroke="#ffffff" stroke-width="0.5" opacity="0.13"/>
<line x1="548.3" y1="239.1" x2="584.6" y2="239.1" stroke="#ffffff" stroke-width="0.5" opacity="0.07"/>
<line x1="548.3" y1="295.4" x2="584.6" y2="295.4" stroke="#ffffff" stroke-width="0.5" opacity="0.10"/>
<line x1="548.3" y1="299.8" x2="584.6" y2="299.8" stroke="#ffffff" stroke-width="0.5" opacity="0.09"/>
<rect x="536.6" y="239.1" width="48.00" height="112.50000000000003" fill="none" stroke="#777" stroke-width="0.8"/>
<line x1="536.6" y1="351.6" x2="536.6" y2="354.2" stroke="#555" stroke-width="0.7"/>
<line x1="548.3" y1="351.6" x2="548.3" y2="354.2" stroke="#555" stroke-width="0.7"/>
<line x1="573.0" y1="351.6" x2="573.0" y2="354.2" stroke="#555" stroke-width="0.7"/>
<line x1="584.6" y1="351.6" x2="584.6" y2="354.2" stroke="#555" stroke-width="0.7"/>
<rect x="586.7" y="239.1" width="51.00" height="112.50000000000003" fill="url(#hbase)"/>
<rect x="599.10" y="239.1" width="38.60" height="112.50000000000003" fill="url(#hbody2)"/>
<clipPath id="hc2"><rect x="586.7" y="239.1" width="51.00" height="112.50000000000003"/></clipPath>
<ellipse cx="622.26" cy="239.1" rx="30.88" ry="36.00" fill="url(#htop)" clip-path="url(#hc2)"/>
<rect x="598.30" y="239.1" width="1.8" height="108.50000000000003" fill="url(#htss2)"/>
<rect x="625.00" y="239.1" width="1" height="84.4" fill="url(#htss2)" opacity="0.25"/>
<rect x="586.7" y="239.1" width="2.5" height="112.50000000000003" fill="#d0d0d0" opacity="0.6"/>
<line x1="599.1" y1="268.5" x2="637.7" y2="268.5" stroke="#ffffff" stroke-width="0.5" opacity="0.12"/>
<line x1="599.1" y1="280.3" x2="637.7" y2="280.3" stroke="#ffffff" stroke-width="0.5" opacity="0.06"/>
<line x1="599.1" y1="239.8" x2="637.7" y2="239.8" stroke="#ffffff" stroke-width="0.5" opacity="0.09"/>
<line x1="599.1" y1="256.1" x2="637.7" y2="256.1" stroke="#ffffff" stroke-width="0.5" opacity="0.13"/>
<line x1="599.1" y1="281.8" x2="637.7" y2="281.8" stroke="#ffffff" stroke-width="0.5" opacity="0.11"/>
<line x1="599.1" y1="273.6" x2="637.7" y2="273.6" stroke="#ffffff" stroke-width="0.5" opacity="0.12"/>
<line x1="599.1" y1="248.1" x2="637.7" y2="248.1" stroke="#ffffff" stroke-width="0.5" opacity="0.09"/>
<line x1="599.1" y1="249.1" x2="637.7" y2="249.1" stroke="#ffffff" stroke-width="0.5" opacity="0.14"/>
<line x1="599.1" y1="242.7" x2="637.7" y2="242.7" stroke="#ffffff" stroke-width="0.5" opacity="0.13"/>
<line x1="599.1" y1="243.7" x2="637.7" y2="243.7" stroke="#ffffff" stroke-width="0.5" opacity="0.12"/>
<line x1="599.1" y1="260.0" x2="637.7" y2="260.0" stroke="#ffffff" stroke-width="0.5" opacity="0.09"/>
<line x1="599.1" y1="291.2" x2="637.7" y2="291.2" stroke="#ffffff" stroke-width="0.5" opacity="0.05"/>
<line x1="599.1" y1="242.9" x2="637.7" y2="242.9" stroke="#ffffff" stroke-width="0.5" opacity="0.14"/>
<line x1="599.1" y1="270.6" x2="637.7" y2="270.6" stroke="#ffffff" stroke-width="0.5" opacity="0.06"/>
<line x1="599.1" y1="300.2" x2="637.7" y2="300.2" stroke="#ffffff" stroke-width="0.5" opacity="0.14"/>
<line x1="599.1" y1="246.1" x2="637.7" y2="246.1" stroke="#ffffff" stroke-width="0.5" opacity="0.09"/>
<line x1="599.1" y1="247.5" x2="637.7" y2="247.5" stroke="#ffffff" stroke-width="0.5" opacity="0.08"/>
<line x1="599.1" y1="277.6" x2="637.7" y2="277.6" stroke="#ffffff" stroke-width="0.5" opacity="0.07"/>
<line x1="599.1" y1="282.2" x2="637.7" y2="282.2" stroke="#ffffff" stroke-width="0.5" opacity="0.06"/>
<line x1="599.1" y1="249.7" x2="637.7" y2="249.7" stroke="#ffffff" stroke-width="0.5" opacity="0.13"/>
<line x1="599.1" y1="263.9" x2="637.7" y2="263.9" stroke="#ffffff" stroke-width="0.5" opacity="0.09"/>
<line x1="599.1" y1="276.0" x2="637.7" y2="276.0" stroke="#ffffff" stroke-width="0.5" opacity="0.10"/>
<line x1="599.1" y1="262.9" x2="637.7" y2="262.9" stroke="#ffffff" stroke-width="0.5" opacity="0.05"/>
<line x1="599.1" y1="284.0" x2="637.7" y2="284.0" stroke="#ffffff" stroke-width="0.5" opacity="0.15"/>
<line x1="599.1" y1="299.5" x2="637.7" y2="299.5" stroke="#ffffff" stroke-width="0.5" opacity="0.12"/>
<line x1="599.1" y1="261.1" x2="637.7" y2="261.1" stroke="#ffffff" stroke-width="0.5" opacity="0.09"/>
<line x1="599.1" y1="281.8" x2="637.7" y2="281.8" stroke="#ffffff" stroke-width="0.5" opacity="0.12"/>
<line x1="599.1" y1="246.1" x2="637.7" y2="246.1" stroke="#ffffff" stroke-width="0.5" opacity="0.07"/>
<rect x="586.7" y="239.1" width="51.00" height="112.50000000000003" fill="none" stroke="#777" stroke-width="0.8"/>
<line x1="586.7" y1="351.6" x2="586.7" y2="354.2" stroke="#555" stroke-width="0.7"/>
<line x1="599.1" y1="351.6" x2="599.1" y2="354.2" stroke="#555" stroke-width="0.7"/>
<line x1="625.5" y1="351.6" x2="625.5" y2="354.2" stroke="#555" stroke-width="0.7"/>
<line x1="637.7" y1="351.6" x2="637.7" y2="354.2" stroke="#555" stroke-width="0.7"/>
<rect x="638.8" y="239.1" width="5.6" height="112.50000000000003" fill="url(#cbar)" stroke="#888" stroke-width="0.4"/>
<line x1="644.4" y1="241.7" x2="646" y2="241.7" stroke="#333" stroke-width="0.6"/>
<text x="646.40" y="244.10" font-size="6.8" font-weight="bold" fill="#000" text-anchor="start" stroke="#000" stroke-width="0.22" transform="translate(0,-17.087) scale(1,1.07)" >14</text>
<line x1="644.4" y1="257.4" x2="646" y2="257.4" stroke="#333" stroke-width="0.6"/>
<text x="646.40" y="259.80" font-size="6.8" font-weight="bold" fill="#000" text-anchor="start" stroke="#000" stroke-width="0.22" transform="translate(0,-18.186) scale(1,1.07)" >12</text>
<line x1="644.4" y1="273.1" x2="646" y2="273.1" stroke="#333" stroke-width="0.6"/>
<text x="646.40" y="275.50" font-size="6.8" font-weight="bold" fill="#000" text-anchor="start" stroke="#000" stroke-width="0.22" transform="translate(0,-19.285) scale(1,1.07)" >10</text>
<line x1="644.4" y1="288.8" x2="646" y2="288.8" stroke="#333" stroke-width="0.6"/>
<text x="646.40" y="291.20" font-size="6.8" font-weight="bold" fill="#000" text-anchor="start" stroke="#000" stroke-width="0.22" transform="translate(0,-20.384) scale(1,1.07)" >8</text>
<line x1="644.4" y1="304.5" x2="646" y2="304.5" stroke="#333" stroke-width="0.6"/>
<text x="646.40" y="306.90" font-size="6.8" font-weight="bold" fill="#000" text-anchor="start" stroke="#000" stroke-width="0.22" transform="translate(0,-21.483) scale(1,1.07)" >6</text>
<line x1="644.4" y1="320.2" x2="646" y2="320.2" stroke="#333" stroke-width="0.6"/>
<text x="646.40" y="322.60" font-size="6.8" font-weight="bold" fill="#000" text-anchor="start" stroke="#000" stroke-width="0.22" transform="translate(0,-22.582) scale(1,1.07)" >4</text>
<line x1="644.4" y1="335.9" x2="646" y2="335.9" stroke="#333" stroke-width="0.6"/>
<text x="646.40" y="338.30" font-size="6.8" font-weight="bold" fill="#000" text-anchor="start" stroke="#000" stroke-width="0.22" transform="translate(0,-23.681) scale(1,1.07)" >2</text>
<line x1="644.4" y1="351.6" x2="646" y2="351.6" stroke="#333" stroke-width="0.6"/>
<text x="646.40" y="354.00" font-size="6.8" font-weight="bold" fill="#000" text-anchor="start" stroke="#000" stroke-width="0.22" transform="translate(0,-24.780) scale(1,1.07)" >0</text>
<g transform="translate(666.8,293.6) rotate(-90)"><text x="0" y="0.00" font-size="8" font-weight="bold" fill="#000" stroke="#000" stroke-width="0.2" text-anchor="middle">Reads density</text></g>
<text x="582.80" y="360.00" font-size="6.9" font-weight="bold" fill="#000" text-anchor="middle" stroke="#000" stroke-width="0.22" transform="translate(0,-25.200) scale(1,1.07)" >-5.0</text>
<text x="599.70" y="360.00" font-size="6.9" font-weight="bold" fill="#000" text-anchor="middle" stroke="#000" stroke-width="0.22" transform="translate(0,-25.200) scale(1,1.07)" >TSS</text>
<text x="627.00" y="360.00" font-size="6.9" font-weight="bold" fill="#000" text-anchor="middle" stroke="#000" stroke-width="0.22" transform="translate(0,-25.200) scale(1,1.07)" >TES</text>
<text x="647.70" y="360.00" font-size="6.9" font-weight="bold" fill="#000" text-anchor="middle" stroke="#000" stroke-width="0.22" transform="translate(0,-25.200) scale(1,1.07)" >5.0 Kb</text>
<g transform="translate(162.2,399.3) rotate(-90)"><text x="0" y="0.00" font-size="6.6" font-weight="bold" fill="#000" stroke="#000" stroke-width="0.2" text-anchor="middle">H3K36me3</text></g>
<line x1="167.8" y1="379" x2="167.8" y2="419" stroke="#000" stroke-width="1.2"/>
<text x="215.50" y="386.70" font-size="6.9" font-weight="bold" fill="#000" text-anchor="end" stroke="#000" stroke-width="0.22" transform="translate(0,-27.069) scale(1,1.07)" >WT</text>
<text x="215.50" y="402.10" font-size="6.7" font-weight="bold" fill="#000" text-anchor="end" stroke="#000" stroke-width="0.22" transform="translate(0,-28.147) scale(1,1.07)" ><tspan font-style="italic">Smyd5</tspan> KO #1</text>
<text x="215.50" y="416.30" font-size="6.7" font-weight="bold" fill="#000" text-anchor="end" stroke="#000" stroke-width="0.22" transform="translate(0,-29.141) scale(1,1.07)" ><tspan font-style="italic">Smyd5</tspan> KO #2</text>
<rect x="235.7" y="370.8" width="17.70" height="52.90" fill="#FCE6D8"/>
<rect x="253.4" y="370.8" width="37.40" height="52.90" fill="#E0E5F4"/>
<rect x="293.6" y="370.8" width="58.10" height="52.90" fill="#E0E5F4"/>
<rect x="351.7" y="370.8" width="9.20" height="52.90" fill="#FCE6D8"/>
<rect x="379.9" y="370.8" width="79.90" height="52.90" fill="#E0E5F4"/>
<rect x="459.8" y="370.8" width="24.70" height="52.90" fill="#FCE6D8"/>
<rect x="510.3" y="370.8" width="45.20" height="52.90" fill="#E0E5F4"/>
<rect x="555.5" y="370.8" width="13.00" height="52.90" fill="#FCE6D8"/>
<rect x="568.5" y="370.8" width="92.40" height="52.90" fill="#E0E5F4"/>
<line x1="218.4" y1="389.2" x2="370.3" y2="389.2" stroke="#cfcfd6" stroke-width="0.6"/>
<path d="M218.4,389.2 L218.4,389.2 L219.1,389.2 L219.1,389.2 L219.8,389.2 L219.8,389.2 L220.5,389.2 L220.5,389.2 L221.2,389.2 L221.2,389.2 L221.9,389.2 L221.9,389.2 L222.6,389.2 L222.6,389.2 L223.3,389.2 L223.3,389.2 L224.0,389.2 L224.0,389.2 L224.7,389.2 L224.7,389.2 L225.4,389.2 L225.4,389.2 L226.1,389.2 L226.1,389.2 L226.8,389.2 L226.8,389.2 L227.5,389.2 L227.5,388.9 L228.2,388.9 L228.2,388.9 L228.9,388.9 L228.9,388.8 L229.6,388.8 L229.6,388.8 L230.3,388.8 L230.3,388.6 L231.0,388.6 L231.0,388.6 L231.7,388.6 L231.7,388.7 L232.4,388.7 L232.4,388.7 L233.1,388.7 L233.1,388.6 L233.8,388.6 L233.8,388.6 L234.5,388.6 L234.5,388.6 L235.2,388.6 L235.2,388.8 L235.9,388.8 L235.9,388.8 L236.6,388.8 L236.6,388.6 L237.3,388.6 L237.3,387.4 L238.0,387.4 L238.0,385.9 L238.7,385.9 L238.7,385.2 L239.4,385.2 L239.4,384.9 L240.1,384.9 L240.1,384.8 L240.8,384.8 L240.8,382.6 L241.5,382.6 L241.5,382.2 L242.2,382.2 L242.2,382.6 L242.9,382.6 L242.9,382.2 L243.6,382.2 L243.6,381.8 L244.3,381.8 L244.3,378.0 L245.0,378.0 L245.0,378.4 L245.7,378.4 L245.7,380.9 L246.4,380.9 L246.4,382.9 L247.1,382.9 L247.1,382.6 L247.8,382.6 L247.8,382.6 L248.5,382.6 L248.5,384.3 L249.2,384.3 L249.2,385.6 L249.9,385.6 L249.9,386.3 L250.6,386.3 L250.6,386.4 L251.3,386.4 L251.3,387.8 L252.0,387.8 L252.0,388.3 L252.7,388.3 L252.7,388.5 L253.4,388.5 L253.4,388.2 L254.1,388.2 L254.1,388.4 L254.8,388.4 L254.8,387.6 L255.5,387.6 L255.5,386.0 L256.2,386.0 L256.2,383.6 L256.9,383.6 L256.9,384.0 L257.6,384.0 L257.6,383.8 L258.3,383.8 L258.3,384.2 L259.0,384.2 L259.0,383.0 L259.7,383.0 L259.7,382.2 L260.4,382.2 L260.4,382.4 L261.1,382.4 L261.1,381.2 L261.8,381.2 L261.8,381.6 L262.5,381.6 L262.5,381.5 L263.2,381.5 L263.2,382.8 L263.9,382.8 L263.9,382.7 L264.6,382.7 L264.6,383.1 L265.3,383.1 L265.3,382.7 L266.0,382.7 L266.0,383.4 L266.7,383.4 L266.7,383.8 L267.4,383.8 L267.4,384.8 L268.1,384.8 L268.1,383.8 L268.8,383.8 L268.8,382.4 L269.5,382.4 L269.5,381.5 L270.2,381.5 L270.2,383.0 L270.9,383.0 L270.9,382.7 L271.6,382.7 L271.6,381.3 L272.3,381.3 L272.3,378.5 L273.0,378.5 L273.0,377.8 L273.7,377.8 L273.7,377.4 L274.4,377.4 L274.4,377.0 L275.1,377.0 L275.1,377.7 L275.8,377.7 L275.8,379.3 L276.5,379.3 L276.5,379.9 L277.2,379.9 L277.2,380.7 L277.9,380.7 L277.9,379.1 L278.6,379.1 L278.6,378.5 L279.3,378.5 L279.3,375.9 L280.0,375.9 L280.0,376.5 L280.7,376.5 L280.7,375.7 L281.4,375.7 L281.4,376.6 L282.1,376.6 L282.1,376.8 L282.8,376.8 L282.8,377.8 L283.5,377.8 L283.5,375.6 L284.2,375.6 L284.2,373.3 L284.9,373.3 L284.9,372.5 L285.6,372.5 L285.6,376.8 L286.3,376.8 L286.3,378.3 L287.0,378.3 L287.0,379.7 L287.7,379.7 L287.7,377.1 L288.4,377.1 L288.4,376.0 L289.1,376.0 L289.1,377.2 L289.8,377.2 L289.8,376.7 L290.5,376.7 L290.5,381.1 L291.2,381.1 L291.2,384.5 L291.9,384.5 L291.9,386.6 L292.6,386.6 L292.6,385.6 L293.3,385.6 L293.3,382.2 L294.0,382.2 L294.0,382.9 L294.7,382.9 L294.7,383.5 L295.4,383.5 L295.4,383.8 L296.1,383.8 L296.1,384.0 L296.8,384.0 L296.8,382.6 L297.5,382.6 L297.5,381.9 L298.2,381.9 L298.2,380.3 L298.9,380.3 L298.9,379.9 L299.6,379.9 L299.6,382.6 L300.3,382.6 L300.3,382.3 L301.0,382.3 L301.0,382.5 L301.7,382.5 L301.7,380.7 L302.4,380.7 L302.4,381.5 L303.1,381.5 L303.1,382.2 L303.8,382.2 L303.8,381.0 L304.5,381.0 L304.5,382.2 L305.2,382.2 L305.2,383.3 L305.9,383.3 L305.9,383.4 L306.6,383.4 L306.6,383.0 L307.3,383.0 L307.3,382.8 L308.0,382.8 L308.0,385.1 L308.7,385.1 L308.7,383.3 L309.4,383.3 L309.4,380.9 L310.1,380.9 L310.1,381.4 L310.8,381.4 L310.8,382.6 L311.5,382.6 L311.5,385.1 L312.2,385.1 L312.2,384.6 L312.9,384.6 L312.9,385.3 L313.6,385.3 L313.6,384.0 L314.3,384.0 L314.3,384.0 L315.0,384.0 L315.0,384.3 L315.7,384.3 L315.7,384.9 L316.4,384.9 L316.4,385.7 L317.1,385.7 L317.1,386.0 L317.8,386.0 L317.8,385.0 L318.5,385.0 L318.5,384.7 L319.2,384.7 L319.2,384.3 L319.9,384.3 L319.9,385.0 L320.6,385.0 L320.6,384.0 L321.3,384.0 L321.3,383.4 L322.0,383.4 L322.0,384.8 L322.7,384.8 L322.7,385.4 L323.4,385.4 L323.4,385.7 L324.1,385.7 L324.1,386.1 L324.8,386.1 L324.8,386.3 L325.5,386.3 L325.5,386.6 L326.2,386.6 L326.2,386.3 L326.9,386.3 L326.9,386.8 L327.6,386.8 L327.6,387.2 L328.3,387.2 L328.3,387.2 L329.0,387.2 L329.0,387.4 L329.7,387.4 L329.7,387.7 L330.4,387.7 L330.4,387.9 L331.1,387.9 L331.1,387.8 L331.8,387.8 L331.8,387.9 L332.5,387.9 L332.5,388.1 L333.2,388.1 L333.2,388.3 L333.9,388.3 L333.9,388.2 L334.6,388.2 L334.6,388.2 L335.3,388.2 L335.3,388.1 L336.0,388.1 L336.0,388.5 L336.7,388.5 L336.7,388.3 L337.4,388.3 L337.4,388.3 L338.1,388.3 L338.1,388.3 L338.8,388.3 L338.8,388.5 L339.5,388.5 L339.5,388.5 L340.2,388.5 L340.2,388.1 L340.9,388.1 L340.9,388.0 L341.6,388.0 L341.6,388.0 L342.3,388.0 L342.3,388.3 L343.0,388.3 L343.0,388.0 L343.7,388.0 L343.7,387.8 L344.4,387.8 L344.4,387.6 L345.1,387.6 L345.1,387.8 L345.8,387.8 L345.8,387.9 L346.5,387.9 L346.5,387.9 L347.2,387.9 L347.2,387.9 L347.9,387.9 L347.9,388.0 L348.6,388.0 L348.6,388.1 L349.3,388.1 L349.3,388.3 L350.0,388.3 L350.0,387.7 L350.7,387.7 L350.7,386.6 L351.4,386.6 L351.4,385.9 L352.1,385.9 L352.1,384.5 L352.8,384.5 L352.8,384.0 L353.5,384.0 L353.5,382.7 L354.2,382.7 L354.2,383.1 L354.9,383.1 L354.9,382.8 L355.6,382.8 L355.6,383.7 L356.3,383.7 L356.3,384.2 L357.0,384.2 L357.0,385.8 L357.7,385.8 L357.7,386.1 L358.4,386.1 L358.4,387.4 L359.1,387.4 L359.1,388.0 L359.8,388.0 L359.8,388.4 L360.5,388.4 L360.5,388.3 L361.2,388.3 L361.2,388.2 L361.9,388.2 L361.9,388.1 L362.6,388.1 L362.6,387.9 L363.3,387.9 L363.3,388.0 L364.0,388.0 L364.0,388.2 L364.7,388.2 L364.7,388.4 L365.4,388.4 L365.4,388.3 L366.1,388.3 L366.1,388.1 L366.8,388.1 L366.8,388.0 L367.5,388.0 L367.5,388.2 L368.2,388.2 L368.2,388.2 L368.9,388.2 L368.9,388.3 L369.6,388.3 L369.6,388.3 L370.3,388.3 L370.3,388.5 L371.0,388.5 L370.3,389.2 Z" fill="#2E2EA6"/><line x1="218.4" y1="388.9" x2="370.3" y2="388.9" stroke="#2E2EA6" stroke-width="0.6"/>
<line x1="218.4" y1="403.5" x2="370.3" y2="403.5" stroke="#cfcfd6" stroke-width="0.6"/>
<path d="M218.4,403.5 L218.4,403.5 L219.1,403.5 L219.1,402.9 L219.8,402.9 L219.8,402.0 L220.5,402.0 L220.5,402.3 L221.2,402.3 L221.2,402.9 L221.9,402.9 L221.9,403.2 L222.6,403.2 L222.6,403.0 L223.3,403.0 L223.3,402.6 L224.0,402.6 L224.0,402.5 L224.7,402.5 L224.7,402.1 L225.4,402.1 L225.4,401.4 L226.1,401.4 L226.1,400.4 L226.8,400.4 L226.8,402.0 L227.5,402.0 L227.5,402.9 L228.2,402.9 L228.2,403.2 L228.9,403.2 L228.9,403.2 L229.6,403.2 L229.6,402.9 L230.3,402.9 L230.3,402.7 L231.0,402.7 L231.0,402.6 L231.7,402.6 L231.7,403.5 L232.4,403.5 L232.4,403.0 L233.1,403.0 L233.1,402.6 L233.8,402.6 L233.8,402.4 L234.5,402.4 L234.5,402.4 L235.2,402.4 L235.2,402.6 L235.9,402.6 L235.9,402.7 L236.6,402.7 L236.6,402.6 L237.3,402.6 L237.3,402.5 L238.0,402.5 L238.0,402.0 L238.7,402.0 L238.7,401.9 L239.4,401.9 L239.4,402.0 L240.1,402.0 L240.1,402.3 L240.8,402.3 L240.8,401.9 L241.5,401.9 L241.5,401.5 L242.2,401.5 L242.2,401.5 L242.9,401.5 L242.9,400.5 L243.6,400.5 L243.6,399.7 L244.3,399.7 L244.3,398.5 L245.0,398.5 L245.0,399.9 L245.7,399.9 L245.7,403.5 L246.4,403.5 L246.4,403.5 L247.1,403.5 L247.1,399.7 L247.8,399.7 L247.8,400.8 L248.5,400.8 L248.5,401.1 L249.2,401.1 L249.2,403.5 L249.9,403.5 L249.9,400.8 L250.6,400.8 L250.6,401.9 L251.3,401.9 L251.3,402.4 L252.0,402.4 L252.0,402.8 L252.7,402.8 L252.7,402.6 L253.4,402.6 L253.4,402.2 L254.1,402.2 L254.1,401.6 L254.8,401.6 L254.8,400.7 L255.5,400.7 L255.5,400.7 L256.2,400.7 L256.2,400.8 L256.9,400.8 L256.9,401.4 L257.6,401.4 L257.6,401.5 L258.3,401.5 L258.3,400.8 L259.0,400.8 L259.0,399.8 L259.7,399.8 L259.7,399.5 L260.4,399.5 L260.4,399.7 L261.1,399.7 L261.1,398.8 L261.8,398.8 L261.8,403.5 L262.5,403.5 L262.5,397.9 L263.2,397.9 L263.2,398.4 L263.9,398.4 L263.9,398.6 L264.6,398.6 L264.6,397.3 L265.3,397.3 L265.3,396.7 L266.0,396.7 L266.0,396.7 L266.7,396.7 L266.7,397.2 L267.4,397.2 L267.4,398.6 L268.1,398.6 L268.1,399.6 L268.8,399.6 L268.8,398.7 L269.5,398.7 L269.5,395.2 L270.2,395.2 L270.2,393.2 L270.9,393.2 L270.9,394.3 L271.6,394.3 L271.6,397.1 L272.3,397.1 L272.3,397.4 L273.0,397.4 L273.0,395.1 L273.7,395.1 L273.7,392.7 L274.4,392.7 L274.4,392.3 L275.1,392.3 L275.1,392.6 L275.8,392.6 L275.8,394.5 L276.5,394.5 L276.5,394.5 L277.2,394.5 L277.2,394.0 L277.9,394.0 L277.9,392.4 L278.6,392.4 L278.6,392.5 L279.3,392.5 L279.3,395.4 L280.0,395.4 L280.0,395.5 L280.7,395.5 L280.7,393.3 L281.4,393.3 L281.4,394.4 L282.1,394.4 L282.1,393.3 L282.8,393.3 L282.8,393.9 L283.5,393.9 L283.5,389.9 L284.2,389.9 L284.2,390.0 L284.9,390.0 L284.9,390.0 L285.6,390.0 L285.6,391.5 L286.3,391.5 L286.3,392.3 L287.0,392.3 L287.0,394.0 L287.7,394.0 L287.7,396.1 L288.4,396.1 L288.4,394.8 L289.1,394.8 L289.1,394.7 L289.8,394.7 L289.8,395.0 L290.5,395.0 L290.5,403.5 L291.2,403.5 L291.2,398.1 L291.9,398.1 L291.9,397.9 L292.6,397.9 L292.6,398.3 L293.3,398.3 L293.3,397.8 L294.0,397.8 L294.0,396.5 L294.7,396.5 L294.7,395.0 L295.4,395.0 L295.4,394.9 L296.1,394.9 L296.1,397.0 L296.8,397.0 L296.8,398.5 L297.5,398.5 L297.5,399.5 L298.2,399.5 L298.2,397.3 L298.9,397.3 L298.9,394.6 L299.6,394.6 L299.6,391.9 L300.3,391.9 L300.3,390.8 L301.0,390.8 L301.0,390.7 L301.7,390.7 L301.7,392.9 L302.4,392.9 L302.4,392.5 L303.1,392.5 L303.1,393.0 L303.8,393.0 L303.8,393.6 L304.5,393.6 L304.5,397.3 L305.2,397.3 L305.2,400.3 L305.9,400.3 L305.9,397.3 L306.6,397.3 L306.6,396.3 L307.3,396.3 L307.3,396.0 L308.0,396.0 L308.0,396.6 L308.7,396.6 L308.7,396.4 L309.4,396.4 L309.4,396.7 L310.1,396.7 L310.1,403.5 L310.8,403.5 L310.8,398.1 L311.5,398.1 L311.5,397.8 L312.2,397.8 L312.2,397.4 L312.9,397.4 L312.9,396.8 L313.6,396.8 L313.6,395.7 L314.3,395.7 L314.3,395.6 L315.0,395.6 L315.0,396.7 L315.7,396.7 L315.7,398.5 L316.4,398.5 L316.4,398.6 L317.1,398.6 L317.1,399.1 L317.8,399.1 L317.8,399.0 L318.5,399.0 L318.5,400.1 L319.2,400.1 L319.2,399.1 L319.9,399.1 L319.9,398.5 L320.6,398.5 L320.6,398.3 L321.3,398.3 L321.3,399.1 L322.0,399.1 L322.0,398.6 L322.7,398.6 L322.7,399.3 L323.4,399.3 L323.4,400.7 L324.1,400.7 L324.1,402.1 L324.8,402.1 L324.8,400.9 L325.5,400.9 L325.5,400.8 L326.2,400.8 L326.2,399.9 L326.9,399.9 L326.9,403.5 L327.6,403.5 L327.6,403.5 L328.3,403.5 L328.3,403.5 L329.0,403.5 L329.0,403.5 L329.7,403.5 L329.7,400.4 L330.4,400.4 L330.4,400.5 L331.1,400.5 L331.1,401.6 L331.8,401.6 L331.8,402.0 L332.5,402.0 L332.5,402.2 L333.2,402.2 L333.2,402.2 L333.9,402.2 L333.9,402.4 L334.6,402.4 L334.6,402.3 L335.3,402.3 L335.3,402.6 L336.0,402.6 L336.0,402.6 L336.7,402.6 L336.7,403.5 L337.4,403.5 L337.4,403.5 L338.1,403.5 L338.1,403.5 L338.8,403.5 L338.8,403.5 L339.5,403.5 L339.5,403.5 L340.2,403.5 L340.2,403.5 L340.9,403.5 L340.9,403.5 L341.6,403.5 L341.6,401.7 L342.3,401.7 L342.3,402.1 L343.0,402.1 L343.0,402.6 L343.7,402.6 L343.7,402.3 L344.4,402.3 L344.4,402.4 L345.1,402.4 L345.1,401.8 L345.8,401.8 L345.8,401.7 L346.5,401.7 L346.5,401.2 L347.2,401.2 L347.2,401.6 L347.9,401.6 L347.9,401.5 L348.6,401.5 L348.6,403.5 L349.3,403.5 L349.3,400.2 L350.0,400.2 L350.0,400.4 L350.7,400.4 L350.7,401.0 L351.4,401.0 L351.4,401.3 L352.1,401.3 L352.1,401.7 L352.8,401.7 L352.8,401.3 L353.5,401.3 L353.5,401.3 L354.2,401.3 L354.2,401.4 L354.9,401.4 L354.9,402.1 L355.6,402.1 L355.6,401.9 L356.3,401.9 L356.3,401.8 L357.0,401.8 L357.0,401.5 L357.7,401.5 L357.7,401.9 L358.4,401.9 L358.4,401.3 L359.1,401.3 L359.1,401.1 L359.8,401.1 L359.8,401.6 L360.5,401.6 L360.5,402.3 L361.2,402.3 L361.2,402.8 L361.9,402.8 L361.9,402.3 L362.6,402.3 L362.6,402.0 L363.3,402.0 L363.3,402.0 L364.0,402.0 L364.0,402.4 L364.7,402.4 L364.7,402.5 L365.4,402.5 L365.4,402.3 L366.1,402.3 L366.1,401.9 L366.8,401.9 L366.8,402.1 L367.5,402.1 L367.5,402.1 L368.2,402.1 L368.2,402.3 L368.9,402.3 L368.9,402.2 L369.6,402.2 L369.6,403.5 L370.3,403.5 L370.3,403.5 L371.0,403.5 L370.3,403.5 Z" fill="#E8302F"/><line x1="218.4" y1="403.2" x2="370.3" y2="403.2" stroke="#E8302F" stroke-width="0.6"/>
<line x1="218.4" y1="418.0" x2="370.3" y2="418.0" stroke="#cfcfd6" stroke-width="0.6"/>
<path d="M218.4,418.0 L218.4,418.0 L219.1,418.0 L219.1,418.0 L219.8,418.0 L219.8,418.0 L220.5,418.0 L220.5,418.0 L221.2,418.0 L221.2,417.4 L221.9,417.4 L221.9,417.4 L222.6,417.4 L222.6,417.4 L223.3,417.4 L223.3,417.6 L224.0,417.6 L224.0,417.4 L224.7,417.4 L224.7,417.4 L225.4,417.4 L225.4,418.0 L226.1,418.0 L226.1,417.6 L226.8,417.6 L226.8,418.0 L227.5,418.0 L227.5,418.0 L228.2,418.0 L228.2,418.0 L228.9,418.0 L228.9,418.0 L229.6,418.0 L229.6,418.0 L230.3,418.0 L230.3,417.2 L231.0,417.2 L231.0,417.2 L231.7,417.2 L231.7,417.3 L232.4,417.3 L232.4,417.5 L233.1,417.5 L233.1,417.5 L233.8,417.5 L233.8,416.9 L234.5,416.9 L234.5,417.0 L235.2,417.0 L235.2,416.9 L235.9,416.9 L235.9,416.0 L236.6,416.0 L236.6,416.5 L237.3,416.5 L237.3,416.4 L238.0,416.4 L238.0,416.9 L238.7,416.9 L238.7,417.3 L239.4,417.3 L239.4,416.7 L240.1,416.7 L240.1,416.9 L240.8,416.9 L240.8,416.0 L241.5,416.0 L241.5,414.7 L242.2,414.7 L242.2,415.3 L242.9,415.3 L242.9,416.4 L243.6,416.4 L243.6,414.4 L244.3,414.4 L244.3,414.7 L245.0,414.7 L245.0,415.0 L245.7,415.0 L245.7,414.8 L246.4,414.8 L246.4,415.5 L247.1,415.5 L247.1,418.0 L247.8,418.0 L247.8,418.0 L248.5,418.0 L248.5,418.0 L249.2,418.0 L249.2,416.4 L249.9,416.4 L249.9,417.4 L250.6,417.4 L250.6,418.0 L251.3,418.0 L251.3,416.5 L252.0,416.5 L252.0,416.5 L252.7,416.5 L252.7,416.1 L253.4,416.1 L253.4,415.8 L254.1,415.8 L254.1,418.0 L254.8,418.0 L254.8,415.2 L255.5,415.2 L255.5,414.0 L256.2,414.0 L256.2,415.5 L256.9,415.5 L256.9,413.5 L257.6,413.5 L257.6,412.9 L258.3,412.9 L258.3,414.2 L259.0,414.2 L259.0,418.0 L259.7,418.0 L259.7,418.0 L260.4,418.0 L260.4,418.0 L261.1,418.0 L261.1,418.0 L261.8,418.0 L261.8,413.8 L262.5,413.8 L262.5,413.1 L263.2,413.1 L263.2,410.5 L263.9,410.5 L263.9,414.0 L264.6,414.0 L264.6,408.4 L265.3,408.4 L265.3,412.8 L266.0,412.8 L266.0,407.5 L266.7,407.5 L266.7,412.0 L267.4,412.0 L267.4,406.2 L268.1,406.2 L268.1,408.0 L268.8,408.0 L268.8,409.6 L269.5,409.6 L269.5,418.0 L270.2,418.0 L270.2,418.0 L270.9,418.0 L270.9,408.7 L271.6,408.7 L271.6,411.2 L272.3,411.2 L272.3,412.2 L273.0,412.2 L273.0,409.3 L273.7,409.3 L273.7,405.2 L274.4,405.2 L274.4,408.1 L275.1,408.1 L275.1,413.3 L275.8,413.3 L275.8,406.1 L276.5,406.1 L276.5,406.9 L277.2,406.9 L277.2,405.1 L277.9,405.1 L277.9,412.1 L278.6,412.1 L278.6,406.6 L279.3,406.6 L279.3,413.4 L280.0,413.4 L280.0,407.5 L280.7,407.5 L280.7,411.3 L281.4,411.3 L281.4,411.8 L282.1,411.8 L282.1,405.5 L282.8,405.5 L282.8,413.1 L283.5,413.1 L283.5,409.2 L284.2,409.2 L284.2,406.2 L284.9,406.2 L284.9,412.0 L285.6,412.0 L285.6,412.4 L286.3,412.4 L286.3,406.5 L287.0,406.5 L287.0,418.0 L287.7,418.0 L287.7,418.0 L288.4,418.0 L288.4,418.0 L289.1,418.0 L289.1,418.0 L289.8,418.0 L289.8,418.0 L290.5,418.0 L290.5,418.0 L291.2,418.0 L291.2,415.1 L291.9,415.1 L291.9,410.5 L292.6,410.5 L292.6,415.6 L293.3,415.6 L293.3,411.4 L294.0,411.4 L294.0,415.4 L294.7,415.4 L294.7,413.8 L295.4,413.8 L295.4,418.0 L296.1,418.0 L296.1,418.0 L296.8,418.0 L296.8,418.0 L297.5,418.0 L297.5,410.5 L298.2,410.5 L298.2,412.4 L298.9,412.4 L298.9,414.7 L299.6,414.7 L299.6,407.1 L300.3,407.1 L300.3,413.4 L301.0,413.4 L301.0,418.0 L301.7,418.0 L301.7,418.0 L302.4,418.0 L302.4,418.0 L303.1,418.0 L303.1,407.0 L303.8,407.0 L303.8,412.9 L304.5,412.9 L304.5,410.6 L305.2,410.6 L305.2,413.6 L305.9,413.6 L305.9,409.6 L306.6,409.6 L306.6,418.0 L307.3,418.0 L307.3,407.0 L308.0,407.0 L308.0,405.8 L308.7,405.8 L308.7,407.4 L309.4,407.4 L309.4,406.8 L310.1,406.8 L310.1,408.4 L310.8,408.4 L310.8,410.6 L311.5,410.6 L311.5,412.9 L312.2,412.9 L312.2,409.5 L312.9,409.5 L312.9,412.3 L313.6,412.3 L313.6,414.1 L314.3,414.1 L314.3,418.0 L315.0,418.0 L315.0,408.3 L315.7,408.3 L315.7,414.1 L316.4,414.1 L316.4,411.1 L317.1,411.1 L317.1,412.8 L317.8,412.8 L317.8,412.3 L318.5,412.3 L318.5,414.8 L319.2,414.8 L319.2,410.3 L319.9,410.3 L319.9,414.3 L320.6,414.3 L320.6,412.5 L321.3,412.5 L321.3,418.0 L322.0,418.0 L322.0,416.0 L322.7,416.0 L322.7,414.0 L323.4,414.0 L323.4,416.1 L324.1,416.1 L324.1,416.6 L324.8,416.6 L324.8,418.0 L325.5,418.0 L325.5,418.0 L326.2,418.0 L326.2,418.0 L326.9,418.0 L326.9,418.0 L327.6,418.0 L327.6,418.0 L328.3,418.0 L328.3,418.0 L329.0,418.0 L329.0,418.0 L329.7,418.0 L329.7,418.0 L330.4,418.0 L330.4,417.0 L331.1,417.0 L331.1,416.8 L331.8,416.8 L331.8,417.1 L332.5,417.1 L332.5,416.8 L333.2,416.8 L333.2,416.8 L333.9,416.8 L333.9,418.0 L334.6,418.0 L334.6,418.0 L335.3,418.0 L335.3,417.3 L336.0,417.3 L336.0,417.1 L336.7,417.1 L336.7,417.0 L337.4,417.0 L337.4,417.5 L338.1,417.5 L338.1,417.5 L338.8,417.5 L338.8,417.1 L339.5,417.1 L339.5,418.0 L340.2,418.0 L340.2,418.0 L340.9,418.0 L340.9,418.0 L341.6,418.0 L341.6,418.0 L342.3,418.0 L342.3,418.0 L343.0,418.0 L343.0,418.0 L343.7,418.0 L343.7,418.0 L344.4,418.0 L344.4,417.0 L345.1,417.0 L345.1,417.0 L345.8,417.0 L345.8,417.2 L346.5,417.2 L346.5,416.8 L347.2,416.8 L347.2,417.2 L347.9,417.2 L347.9,416.3 L348.6,416.3 L348.6,418.0 L349.3,418.0 L349.3,418.0 L350.0,418.0 L350.0,418.0 L350.7,418.0 L350.7,418.0 L351.4,418.0 L351.4,416.4 L352.1,416.4 L352.1,418.0 L352.8,418.0 L352.8,418.0 L353.5,418.0 L353.5,416.5 L354.2,416.5 L354.2,417.1 L354.9,417.1 L354.9,417.3 L355.6,417.3 L355.6,416.3 L356.3,416.3 L356.3,417.0 L357.0,417.0 L357.0,416.8 L357.7,416.8 L357.7,416.4 L358.4,416.4 L358.4,416.8 L359.1,416.8 L359.1,417.2 L359.8,417.2 L359.8,418.0 L360.5,418.0 L360.5,417.1 L361.2,417.1 L361.2,417.5 L361.9,417.5 L361.9,416.8 L362.6,416.8 L362.6,417.5 L363.3,417.5 L363.3,417.3 L364.0,417.3 L364.0,416.8 L364.7,416.8 L364.7,417.0 L365.4,417.0 L365.4,417.6 L366.1,417.6 L366.1,417.3 L366.8,417.3 L366.8,417.4 L367.5,417.4 L367.5,417.3 L368.2,417.3 L368.2,417.6 L368.9,417.6 L368.9,417.3 L369.6,417.3 L369.6,417.7 L370.3,417.7 L370.3,417.5 L371.0,417.5 L370.3,418.0 Z" fill="#F0B2C0"/><line x1="218.4" y1="417.7" x2="370.3" y2="417.7" stroke="#F0B2C0" stroke-width="0.6"/>
<line x1="379.9" y1="389.2" x2="492.6" y2="389.2" stroke="#cfcfd6" stroke-width="0.6"/>
<path d="M379.9,389.2 L379.9,389.2 L380.6,389.2 L380.6,387.5 L381.3,387.5 L381.3,386.2 L382.0,386.2 L382.0,385.8 L382.7,385.8 L382.7,386.0 L383.4,386.0 L383.4,385.7 L384.1,385.7 L384.1,385.9 L384.8,385.9 L384.8,386.5 L385.5,386.5 L385.5,387.1 L386.2,387.1 L386.2,387.9 L386.9,387.9 L386.9,387.5 L387.6,387.5 L387.6,387.4 L388.3,387.4 L388.3,387.2 L389.0,387.2 L389.0,387.6 L389.7,387.6 L389.7,387.6 L390.4,387.6 L390.4,387.6 L391.1,387.6 L391.1,387.6 L391.8,387.6 L391.8,388.0 L392.5,388.0 L392.5,387.9 L393.2,387.9 L393.2,387.5 L393.9,387.5 L393.9,386.4 L394.6,386.4 L394.6,386.0 L395.3,386.0 L395.3,384.7 L396.0,384.7 L396.0,384.7 L396.7,384.7 L396.7,383.0 L397.4,383.0 L397.4,383.1 L398.1,383.1 L398.1,383.4 L398.8,383.4 L398.8,383.4 L399.5,383.4 L399.5,384.7 L400.2,384.7 L400.2,385.1 L400.9,385.1 L400.9,385.8 L401.6,385.8 L401.6,384.5 L402.3,384.5 L402.3,383.6 L403.0,383.6 L403.0,384.4 L403.7,384.4 L403.7,384.5 L404.4,384.5 L404.4,383.9 L405.1,383.9 L405.1,384.2 L405.8,384.2 L405.8,385.4 L406.5,385.4 L406.5,386.3 L407.2,386.3 L407.2,385.9 L407.9,385.9 L407.9,386.5 L408.6,386.5 L408.6,386.6 L409.3,386.6 L409.3,386.5 L410.0,386.5 L410.0,385.9 L410.7,385.9 L410.7,385.6 L411.4,385.6 L411.4,385.8 L412.1,385.8 L412.1,385.8 L412.8,385.8 L412.8,386.2 L413.5,386.2 L413.5,386.4 L414.2,386.4 L414.2,386.3 L414.9,386.3 L414.9,386.2 L415.6,386.2 L415.6,385.9 L416.3,385.9 L416.3,386.2 L417.0,386.2 L417.0,386.1 L417.7,386.1 L417.7,386.2 L418.4,386.2 L418.4,385.8 L419.1,385.8 L419.1,385.4 L419.8,385.4 L419.8,385.6 L420.5,385.6 L420.5,386.3 L421.2,386.3 L421.2,386.4 L421.9,386.4 L421.9,386.2 L422.6,386.2 L422.6,385.8 L423.3,385.8 L423.3,386.3 L424.0,386.3 L424.0,387.1 L424.7,387.1 L424.7,387.7 L425.4,387.7 L425.4,388.1 L426.1,388.1 L426.1,388.3 L426.8,388.3 L426.8,388.3 L427.5,388.3 L427.5,388.2 L428.2,388.2 L428.2,388.2 L428.9,388.2 L428.9,388.3 L429.6,388.3 L429.6,388.4 L430.3,388.4 L430.3,388.5 L431.0,388.5 L431.0,388.7 L431.7,388.7 L431.7,388.8 L432.4,388.8 L432.4,388.8 L433.1,388.8 L433.1,388.7 L433.8,388.7 L433.8,388.7 L434.5,388.7 L434.5,388.5 L435.2,388.5 L435.2,388.4 L435.9,388.4 L435.9,388.4 L436.6,388.4 L436.6,388.4 L437.3,388.4 L437.3,388.6 L438.0,388.6 L438.0,388.8 L438.7,388.8 L438.7,388.8 L439.4,388.8 L439.4,388.6 L440.1,388.6 L440.1,388.4 L440.8,388.4 L440.8,388.4 L441.5,388.4 L441.5,388.4 L442.2,388.4 L442.2,388.3 L442.9,388.3 L442.9,388.2 L443.6,388.2 L443.6,388.0 L444.3,388.0 L444.3,388.0 L445.0,388.0 L445.0,387.8 L445.7,387.8 L445.7,387.8 L446.4,387.8 L446.4,387.8 L447.1,387.8 L447.1,387.7 L447.8,387.7 L447.8,387.8 L448.5,387.8 L448.5,387.6 L449.2,387.6 L449.2,387.5 L449.9,387.5 L449.9,387.6 L450.6,387.6 L450.6,387.9 L451.3,387.9 L451.3,388.3 L452.0,388.3 L452.0,388.2 L452.7,388.2 L452.7,388.2 L453.4,388.2 L453.4,387.9 L454.1,387.9 L454.1,387.8 L454.8,387.8 L454.8,387.8 L455.5,387.8 L455.5,387.5 L456.2,387.5 L456.2,387.3 L456.9,387.3 L456.9,386.4 L457.6,386.4 L457.6,386.3 L458.3,386.3 L458.3,385.6 L459.0,385.6 L459.0,385.1 L459.7,385.1 L459.7,385.3 L460.4,385.3 L460.4,384.7 L461.1,384.7 L461.1,384.6 L461.8,384.6 L461.8,384.0 L462.5,384.0 L462.5,384.4 L463.2,384.4 L463.2,383.3 L463.9,383.3 L463.9,380.0 L464.6,380.0 L464.6,378.2 L465.3,378.2 L465.3,374.9 L466.0,374.9 L466.0,376.1 L466.7,376.1 L466.7,377.1 L467.4,377.1 L467.4,378.5 L468.1,378.5 L468.1,380.3 L468.8,380.3 L468.8,378.4 L469.5,378.4 L469.5,380.7 L470.2,380.7 L470.2,380.7 L470.9,380.7 L470.9,383.3 L471.6,383.3 L471.6,383.9 L472.3,383.9 L472.3,382.4 L473.0,382.4 L473.0,380.9 L473.7,380.9 L473.7,380.6 L474.4,380.6 L474.4,382.5 L475.1,382.5 L475.1,385.2 L475.8,385.2 L475.8,386.5 L476.5,386.5 L476.5,386.6 L477.2,386.6 L477.2,385.5 L477.9,385.5 L477.9,384.8 L478.6,384.8 L478.6,384.1 L479.3,384.1 L479.3,383.9 L480.0,383.9 L480.0,385.3 L480.7,385.3 L480.7,386.7 L481.4,386.7 L481.4,387.9 L482.1,387.9 L482.1,388.1 L482.8,388.1 L482.8,388.3 L483.5,388.3 L483.5,388.3 L484.2,388.3 L484.2,388.7 L484.9,388.7 L484.9,388.7 L485.6,388.7 L485.6,388.9 L486.3,388.9 L486.3,388.8 L487.0,388.8 L487.0,388.8 L487.7,388.8 L487.7,388.4 L488.4,388.4 L488.4,388.5 L489.1,388.5 L489.1,388.1 L489.8,388.1 L489.8,388.3 L490.5,388.3 L490.5,388.2 L491.2,388.2 L491.2,388.5 L491.9,388.5 L491.9,388.7 L492.6,388.7 L492.6,388.8 L493.3,388.8 L492.6,389.2 Z" fill="#2E2EA6"/><line x1="379.9" y1="388.9" x2="492.6" y2="388.9" stroke="#2E2EA6" stroke-width="0.6"/>
<line x1="379.9" y1="403.5" x2="492.6" y2="403.5" stroke="#cfcfd6" stroke-width="0.6"/>
<path d="M379.9,403.5 L379.9,403.5 L380.6,403.5 L380.6,402.5 L381.3,402.5 L381.3,400.2 L382.0,400.2 L382.0,398.6 L382.7,398.6 L382.7,399.0 L383.4,399.0 L383.4,400.0 L384.1,400.0 L384.1,400.2 L384.8,400.2 L384.8,400.8 L385.5,400.8 L385.5,399.7 L386.2,399.7 L386.2,399.7 L386.9,399.7 L386.9,398.2 L387.6,398.2 L387.6,399.5 L388.3,399.5 L388.3,399.4 L389.0,399.4 L389.0,401.4 L389.7,401.4 L389.7,399.7 L390.4,399.7 L390.4,399.2 L391.1,399.2 L391.1,398.3 L391.8,398.3 L391.8,399.3 L392.5,399.3 L392.5,398.6 L393.2,398.6 L393.2,398.7 L393.9,398.7 L393.9,398.8 L394.6,398.8 L394.6,399.2 L395.3,399.2 L395.3,399.3 L396.0,399.3 L396.0,403.5 L396.7,403.5 L396.7,398.3 L397.4,398.3 L397.4,397.2 L398.1,397.2 L398.1,395.5 L398.8,395.5 L398.8,395.2 L399.5,395.2 L399.5,395.9 L400.2,395.9 L400.2,396.7 L400.9,396.7 L400.9,398.0 L401.6,398.0 L401.6,397.9 L402.3,397.9 L402.3,397.1 L403.0,397.1 L403.0,398.6 L403.7,398.6 L403.7,398.9 L404.4,398.9 L404.4,399.8 L405.1,399.8 L405.1,399.5 L405.8,399.5 L405.8,400.6 L406.5,400.6 L406.5,400.3 L407.2,400.3 L407.2,403.5 L407.9,403.5 L407.9,403.5 L408.6,403.5 L408.6,403.5 L409.3,403.5 L409.3,403.5 L410.0,403.5 L410.0,403.5 L410.7,403.5 L410.7,403.5 L411.4,403.5 L411.4,403.5 L412.1,403.5 L412.1,401.7 L412.8,401.7 L412.8,400.9 L413.5,400.9 L413.5,400.8 L414.2,400.8 L414.2,400.9 L414.9,400.9 L414.9,401.2 L415.6,401.2 L415.6,401.2 L416.3,401.2 L416.3,401.1 L417.0,401.1 L417.0,401.3 L417.7,401.3 L417.7,401.0 L418.4,401.0 L418.4,401.2 L419.1,401.2 L419.1,400.9 L419.8,400.9 L419.8,401.8 L420.5,401.8 L420.5,402.4 L421.2,402.4 L421.2,403.0 L421.9,403.0 L421.9,402.7 L422.6,402.7 L422.6,402.1 L423.3,402.1 L423.3,403.5 L424.0,403.5 L424.0,401.4 L424.7,401.4 L424.7,402.0 L425.4,402.0 L425.4,402.2 L426.1,402.2 L426.1,402.3 L426.8,402.3 L426.8,402.0 L427.5,402.0 L427.5,402.1 L428.2,402.1 L428.2,402.4 L428.9,402.4 L428.9,402.7 L429.6,402.7 L429.6,402.8 L430.3,402.8 L430.3,402.7 L431.0,402.7 L431.0,402.7 L431.7,402.7 L431.7,402.9 L432.4,402.9 L432.4,402.8 L433.1,402.8 L433.1,403.0 L433.8,403.0 L433.8,402.9 L434.5,402.9 L434.5,403.5 L435.2,403.5 L435.2,403.5 L435.9,403.5 L435.9,403.0 L436.6,403.0 L436.6,403.1 L437.3,403.1 L437.3,403.0 L438.0,403.0 L438.0,402.9 L438.7,402.9 L438.7,403.0 L439.4,403.0 L439.4,403.1 L440.1,403.1 L440.1,402.9 L440.8,402.9 L440.8,402.9 L441.5,402.9 L441.5,402.7 L442.2,402.7 L442.2,402.8 L442.9,402.8 L442.9,402.8 L443.6,402.8 L443.6,403.1 L444.3,403.1 L444.3,402.8 L445.0,402.8 L445.0,402.5 L445.7,402.5 L445.7,402.4 L446.4,402.4 L446.4,402.6 L447.1,402.6 L447.1,402.1 L447.8,402.1 L447.8,403.5 L448.5,403.5 L448.5,403.5 L449.2,403.5 L449.2,401.2 L449.9,401.2 L449.9,401.5 L450.6,401.5 L450.6,403.5 L451.3,403.5 L451.3,401.6 L452.0,401.6 L452.0,401.8 L452.7,401.8 L452.7,401.9 L453.4,401.9 L453.4,402.0 L454.1,402.0 L454.1,402.0 L454.8,402.0 L454.8,401.6 L455.5,401.6 L455.5,401.3 L456.2,401.3 L456.2,401.6 L456.9,401.6 L456.9,401.3 L457.6,401.3 L457.6,401.6 L458.3,401.6 L458.3,401.5 L459.0,401.5 L459.0,401.7 L459.7,401.7 L459.7,401.9 L460.4,401.9 L460.4,402.4 L461.1,402.4 L461.1,402.9 L461.8,402.9 L461.8,403.1 L462.5,403.1 L462.5,403.0 L463.2,403.0 L463.2,402.9 L463.9,402.9 L463.9,402.4 L464.6,402.4 L464.6,401.8 L465.3,401.8 L465.3,403.5 L466.0,403.5 L466.0,403.5 L466.7,403.5 L466.7,403.5 L467.4,403.5 L467.4,399.4 L468.1,399.4 L468.1,399.6 L468.8,399.6 L468.8,399.3 L469.5,399.3 L469.5,399.4 L470.2,399.4 L470.2,399.8 L470.9,399.8 L470.9,400.1 L471.6,400.1 L471.6,400.7 L472.3,400.7 L472.3,399.9 L473.0,399.9 L473.0,399.8 L473.7,399.8 L473.7,400.1 L474.4,400.1 L474.4,400.6 L475.1,400.6 L475.1,401.0 L475.8,401.0 L475.8,401.1 L476.5,401.1 L476.5,401.8 L477.2,401.8 L477.2,402.5 L477.9,402.5 L477.9,402.1 L478.6,402.1 L478.6,401.9 L479.3,401.9 L479.3,402.0 L480.0,402.0 L480.0,402.3 L480.7,402.3 L480.7,402.6 L481.4,402.6 L481.4,402.6 L482.1,402.6 L482.1,402.7 L482.8,402.7 L482.8,402.8 L483.5,402.8 L483.5,403.1 L484.2,403.1 L484.2,403.1 L484.9,403.1 L484.9,403.1 L485.6,403.1 L485.6,403.2 L486.3,403.2 L486.3,403.5 L487.0,403.5 L487.0,403.5 L487.7,403.5 L487.7,403.5 L488.4,403.5 L488.4,403.5 L489.1,403.5 L489.1,403.5 L489.8,403.5 L489.8,403.5 L490.5,403.5 L490.5,403.5 L491.2,403.5 L491.2,403.5 L491.9,403.5 L491.9,403.5 L492.6,403.5 L492.6,403.5 L493.3,403.5 L492.6,403.5 Z" fill="#E8302F"/><line x1="379.9" y1="403.2" x2="492.6" y2="403.2" stroke="#E8302F" stroke-width="0.6"/>
<line x1="379.9" y1="418.0" x2="492.6" y2="418.0" stroke="#cfcfd6" stroke-width="0.6"/>
<path d="M379.9,418.0 L379.9,418.0 L380.6,418.0 L380.6,418.0 L381.3,418.0 L381.3,418.0 L382.0,418.0 L382.0,417.5 L382.7,417.5 L382.7,417.3 L383.4,417.3 L383.4,417.3 L384.1,417.3 L384.1,417.1 L384.8,417.1 L384.8,418.0 L385.5,418.0 L385.5,417.5 L386.2,417.5 L386.2,416.6 L386.9,416.6 L386.9,416.2 L387.6,416.2 L387.6,416.1 L388.3,416.1 L388.3,418.0 L389.0,418.0 L389.0,415.0 L389.7,415.0 L389.7,415.8 L390.4,415.8 L390.4,416.2 L391.1,416.2 L391.1,416.4 L391.8,416.4 L391.8,413.8 L392.5,413.8 L392.5,413.7 L393.2,413.7 L393.2,413.7 L393.9,413.7 L393.9,418.0 L394.6,418.0 L394.6,418.0 L395.3,418.0 L395.3,414.9 L396.0,414.9 L396.0,412.8 L396.7,412.8 L396.7,414.6 L397.4,414.6 L397.4,418.0 L398.1,418.0 L398.1,411.1 L398.8,411.1 L398.8,410.8 L399.5,410.8 L399.5,413.6 L400.2,413.6 L400.2,418.0 L400.9,418.0 L400.9,418.0 L401.6,418.0 L401.6,418.0 L402.3,418.0 L402.3,418.0 L403.0,418.0 L403.0,418.0 L403.7,418.0 L403.7,418.0 L404.4,418.0 L404.4,418.0 L405.1,418.0 L405.1,413.0 L405.8,413.0 L405.8,416.1 L406.5,416.1 L406.5,416.0 L407.2,416.0 L407.2,414.8 L407.9,414.8 L407.9,414.8 L408.6,414.8 L408.6,415.6 L409.3,415.6 L409.3,415.4 L410.0,415.4 L410.0,415.9 L410.7,415.9 L410.7,415.5 L411.4,415.5 L411.4,415.1 L412.1,415.1 L412.1,415.3 L412.8,415.3 L412.8,415.6 L413.5,415.6 L413.5,415.8 L414.2,415.8 L414.2,414.2 L414.9,414.2 L414.9,415.3 L415.6,415.3 L415.6,414.6 L416.3,414.6 L416.3,413.8 L417.0,413.8 L417.0,414.8 L417.7,414.8 L417.7,416.0 L418.4,416.0 L418.4,418.0 L419.1,418.0 L419.1,418.0 L419.8,418.0 L419.8,418.0 L420.5,418.0 L420.5,418.0 L421.2,418.0 L421.2,417.0 L421.9,417.0 L421.9,416.7 L422.6,416.7 L422.6,417.2 L423.3,417.2 L423.3,417.4 L424.0,417.4 L424.0,418.0 L424.7,418.0 L424.7,417.2 L425.4,417.2 L425.4,417.7 L426.1,417.7 L426.1,417.7 L426.8,417.7 L426.8,417.3 L427.5,417.3 L427.5,417.2 L428.2,417.2 L428.2,417.4 L428.9,417.4 L428.9,417.4 L429.6,417.4 L429.6,416.9 L430.3,416.9 L430.3,416.4 L431.0,416.4 L431.0,417.2 L431.7,417.2 L431.7,416.8 L432.4,416.8 L432.4,416.4 L433.1,416.4 L433.1,417.0 L433.8,417.0 L433.8,416.6 L434.5,416.6 L434.5,417.1 L435.2,417.1 L435.2,416.6 L435.9,416.6 L435.9,418.0 L436.6,418.0 L436.6,418.0 L437.3,418.0 L437.3,418.0 L438.0,418.0 L438.0,417.3 L438.7,417.3 L438.7,418.0 L439.4,418.0 L439.4,418.0 L440.1,418.0 L440.1,417.1 L440.8,417.1 L440.8,418.0 L441.5,418.0 L441.5,418.0 L442.2,418.0 L442.2,418.0 L442.9,418.0 L442.9,417.4 L443.6,417.4 L443.6,417.4 L444.3,417.4 L444.3,418.0 L445.0,418.0 L445.0,418.0 L445.7,418.0 L445.7,418.0 L446.4,418.0 L446.4,418.0 L447.1,418.0 L447.1,418.0 L447.8,418.0 L447.8,418.0 L448.5,418.0 L448.5,417.1 L449.2,417.1 L449.2,416.6 L449.9,416.6 L449.9,416.8 L450.6,416.8 L450.6,417.2 L451.3,417.2 L451.3,417.3 L452.0,417.3 L452.0,417.2 L452.7,417.2 L452.7,416.2 L453.4,416.2 L453.4,416.7 L454.1,416.7 L454.1,416.0 L454.8,416.0 L454.8,415.7 L455.5,415.7 L455.5,415.9 L456.2,415.9 L456.2,416.7 L456.9,416.7 L456.9,418.0 L457.6,418.0 L457.6,418.0 L458.3,418.0 L458.3,417.3 L459.0,417.3 L459.0,416.7 L459.7,416.7 L459.7,416.3 L460.4,416.3 L460.4,418.0 L461.1,418.0 L461.1,418.0 L461.8,418.0 L461.8,418.0 L462.5,418.0 L462.5,418.0 L463.2,418.0 L463.2,418.0 L463.9,418.0 L463.9,418.0 L464.6,418.0 L464.6,418.0 L465.3,418.0 L465.3,414.2 L466.0,414.2 L466.0,414.2 L466.7,414.2 L466.7,414.0 L467.4,414.0 L467.4,416.7 L468.1,416.7 L468.1,416.6 L468.8,416.6 L468.8,415.3 L469.5,415.3 L469.5,417.1 L470.2,417.1 L470.2,416.6 L470.9,416.6 L470.9,416.4 L471.6,416.4 L471.6,416.6 L472.3,416.6 L472.3,416.1 L473.0,416.1 L473.0,416.1 L473.7,416.1 L473.7,418.0 L474.4,418.0 L474.4,418.0 L475.1,418.0 L475.1,416.6 L475.8,416.6 L475.8,417.2 L476.5,417.2 L476.5,417.4 L477.2,417.4 L477.2,417.6 L477.9,417.6 L477.9,417.7 L478.6,417.7 L478.6,417.4 L479.3,417.4 L479.3,417.6 L480.0,417.6 L480.0,417.5 L480.7,417.5 L480.7,417.3 L481.4,417.3 L481.4,417.5 L482.1,417.5 L482.1,417.3 L482.8,417.3 L482.8,417.8 L483.5,417.8 L483.5,417.5 L484.2,417.5 L484.2,417.5 L484.9,417.5 L484.9,417.5 L485.6,417.5 L485.6,417.9 L486.3,417.9 L486.3,417.7 L487.0,417.7 L487.0,418.0 L487.7,418.0 L487.7,418.0 L488.4,418.0 L488.4,418.0 L489.1,418.0 L489.1,418.0 L489.8,418.0 L489.8,418.0 L490.5,418.0 L490.5,418.0 L491.2,418.0 L491.2,418.0 L491.9,418.0 L491.9,418.0 L492.6,418.0 L492.6,418.0 L493.3,418.0 L492.6,418.0 Z" fill="#F0B2C0"/><line x1="379.9" y1="417.7" x2="492.6" y2="417.7" stroke="#F0B2C0" stroke-width="0.6"/>
<line x1="500" y1="389.2" x2="669.8" y2="389.2" stroke="#cfcfd6" stroke-width="0.6"/>
<path d="M500.0,389.2 L500.0,389.2 L500.7,389.2 L500.7,388.4 L501.4,388.4 L501.4,388.6 L502.1,388.6 L502.1,388.6 L502.8,388.6 L502.8,388.9 L503.5,388.9 L503.5,388.9 L504.2,388.9 L504.2,389.0 L504.9,389.0 L504.9,389.0 L505.6,389.0 L505.6,389.0 L506.3,389.0 L506.3,389.0 L507.0,389.0 L507.0,389.0 L507.7,389.0 L507.7,389.0 L508.4,389.0 L508.4,388.9 L509.1,388.9 L509.1,388.9 L509.8,388.9 L509.8,388.9 L510.5,388.9 L510.5,388.6 L511.2,388.6 L511.2,387.7 L511.9,387.7 L511.9,387.4 L512.6,387.4 L512.6,387.0 L513.3,387.0 L513.3,386.5 L514.0,386.5 L514.0,386.1 L514.7,386.1 L514.7,386.6 L515.4,386.6 L515.4,386.9 L516.1,386.9 L516.1,387.5 L516.8,387.5 L516.8,386.9 L517.5,386.9 L517.5,385.7 L518.2,385.7 L518.2,385.3 L518.9,385.3 L518.9,384.8 L519.6,384.8 L519.6,385.9 L520.3,385.9 L520.3,386.1 L521.0,386.1 L521.0,386.2 L521.7,386.2 L521.7,385.1 L522.4,385.1 L522.4,384.0 L523.1,384.0 L523.1,384.8 L523.8,384.8 L523.8,385.2 L524.5,385.2 L524.5,386.2 L525.2,386.2 L525.2,385.3 L525.9,385.3 L525.9,385.3 L526.6,385.3 L526.6,384.8 L527.3,384.8 L527.3,385.0 L528.0,385.0 L528.0,384.6 L528.7,384.6 L528.7,385.1 L529.4,385.1 L529.4,384.9 L530.1,384.9 L530.1,385.9 L530.8,385.9 L530.8,385.3 L531.5,385.3 L531.5,386.4 L532.2,386.4 L532.2,385.8 L532.9,385.8 L532.9,385.7 L533.6,385.7 L533.6,384.9 L534.3,384.9 L534.3,385.3 L535.0,385.3 L535.0,385.4 L535.7,385.4 L535.7,385.0 L536.4,385.0 L536.4,384.5 L537.1,384.5 L537.1,385.5 L537.8,385.5 L537.8,386.2 L538.5,386.2 L538.5,387.4 L539.2,387.4 L539.2,387.5 L539.9,387.5 L539.9,387.8 L540.6,387.8 L540.6,387.2 L541.3,387.2 L541.3,387.7 L542.0,387.7 L542.0,387.7 L542.7,387.7 L542.7,388.2 L543.4,388.2 L543.4,388.2 L544.1,388.2 L544.1,388.0 L544.8,388.0 L544.8,387.8 L545.5,387.8 L545.5,387.8 L546.2,387.8 L546.2,388.1 L546.9,388.1 L546.9,388.3 L547.6,388.3 L547.6,388.6 L548.3,388.6 L548.3,388.4 L549.0,388.4 L549.0,387.9 L549.7,387.9 L549.7,387.4 L550.4,387.4 L550.4,387.5 L551.1,387.5 L551.1,387.5 L551.8,387.5 L551.8,387.8 L552.5,387.8 L552.5,387.8 L553.2,387.8 L553.2,387.9 L553.9,387.9 L553.9,387.5 L554.6,387.5 L554.6,387.1 L555.3,387.1 L555.3,386.4 L556.0,386.4 L556.0,386.5 L556.7,386.5 L556.7,385.6 L557.4,385.6 L557.4,386.3 L558.1,386.3 L558.1,386.3 L558.8,386.3 L558.8,384.5 L559.5,384.5 L559.5,381.6 L560.2,381.6 L560.2,377.7 L560.9,377.7 L560.9,379.7 L561.6,379.7 L561.6,383.3 L562.3,383.3 L562.3,385.8 L563.0,385.8 L563.0,386.3 L563.7,386.3 L563.7,385.0 L564.4,385.0 L564.4,385.4 L565.1,385.4 L565.1,386.6 L565.8,386.6 L565.8,387.8 L566.5,387.8 L566.5,387.9 L567.2,387.9 L567.2,387.5 L567.9,387.5 L567.9,387.4 L568.6,387.4 L568.6,387.8 L569.3,387.8 L569.3,387.7 L570.0,387.7 L570.0,388.0 L570.7,388.0 L570.7,387.8 L571.4,387.8 L571.4,387.8 L572.1,387.8 L572.1,387.8 L572.8,387.8 L572.8,388.1 L573.5,388.1 L573.5,387.9 L574.2,387.9 L574.2,387.6 L574.9,387.6 L574.9,387.5 L575.6,387.5 L575.6,387.7 L576.3,387.7 L576.3,388.0 L577.0,388.0 L577.0,387.6 L577.7,387.6 L577.7,388.0 L578.4,388.0 L578.4,388.0 L579.1,388.0 L579.1,388.4 L579.8,388.4 L579.8,387.9 L580.5,387.9 L580.5,387.3 L581.2,387.3 L581.2,387.2 L581.9,387.2 L581.9,387.0 L582.6,387.0 L582.6,387.3 L583.3,387.3 L583.3,387.1 L584.0,387.1 L584.0,387.2 L584.7,387.2 L584.7,387.3 L585.4,387.3 L585.4,387.1 L586.1,387.1 L586.1,387.3 L586.8,387.3 L586.8,387.4 L587.5,387.4 L587.5,387.4 L588.2,387.4 L588.2,387.2 L588.9,387.2 L588.9,387.2 L589.6,387.2 L589.6,386.8 L590.3,386.8 L590.3,386.5 L591.0,386.5 L591.0,386.0 L591.7,386.0 L591.7,386.2 L592.4,386.2 L592.4,386.1 L593.1,386.1 L593.1,386.5 L593.8,386.5 L593.8,387.2 L594.5,387.2 L594.5,387.5 L595.2,387.5 L595.2,386.8 L595.9,386.8 L595.9,385.9 L596.6,385.9 L596.6,386.2 L597.3,386.2 L597.3,386.5 L598.0,386.5 L598.0,386.9 L598.7,386.9 L598.7,385.7 L599.4,385.7 L599.4,385.9 L600.1,385.9 L600.1,385.0 L600.8,385.0 L600.8,385.6 L601.5,385.6 L601.5,385.1 L602.2,385.1 L602.2,386.4 L602.9,386.4 L602.9,386.6 L603.6,386.6 L603.6,386.5 L604.3,386.5 L604.3,386.6 L605.0,386.6 L605.0,386.6 L605.7,386.6 L605.7,385.9 L606.4,385.9 L606.4,384.5 L607.1,384.5 L607.1,384.1 L607.8,384.1 L607.8,385.0 L608.5,385.0 L608.5,385.2 L609.2,385.2 L609.2,386.2 L609.9,386.2 L609.9,385.8 L610.6,385.8 L610.6,386.1 L611.3,386.1 L611.3,386.0 L612.0,386.0 L612.0,386.5 L612.7,386.5 L612.7,386.9 L613.4,386.9 L613.4,386.1 L614.1,386.1 L614.1,385.8 L614.8,385.8 L614.8,386.0 L615.5,386.0 L615.5,386.0 L616.2,386.0 L616.2,386.1 L616.9,386.1 L616.9,385.4 L617.6,385.4 L617.6,386.0 L618.3,386.0 L618.3,386.2 L619.0,386.2 L619.0,386.8 L619.7,386.8 L619.7,387.1 L620.4,387.1 L620.4,386.5 L621.1,386.5 L621.1,386.1 L621.8,386.1 L621.8,385.8 L622.5,385.8 L622.5,386.0 L623.2,386.0 L623.2,386.0 L623.9,386.0 L623.9,385.3 L624.6,385.3 L624.6,386.0 L625.3,386.0 L625.3,386.8 L626.0,386.8 L626.0,386.9 L626.7,386.9 L626.7,386.0 L627.4,386.0 L627.4,385.4 L628.1,385.4 L628.1,385.9 L628.8,385.9 L628.8,385.9 L629.5,385.9 L629.5,385.8 L630.2,385.8 L630.2,386.2 L630.9,386.2 L630.9,386.5 L631.6,386.5 L631.6,386.6 L632.3,386.6 L632.3,386.3 L633.0,386.3 L633.0,386.2 L633.7,386.2 L633.7,386.0 L634.4,386.0 L634.4,385.7 L635.1,385.7 L635.1,386.1 L635.8,386.1 L635.8,386.4 L636.5,386.4 L636.5,386.0 L637.2,386.0 L637.2,385.6 L637.9,385.6 L637.9,385.1 L638.6,385.1 L638.6,385.4 L639.3,385.4 L639.3,385.8 L640.0,385.8 L640.0,386.9 L640.7,386.9 L640.7,386.6 L641.4,386.6 L641.4,386.3 L642.1,386.3 L642.1,385.7 L642.8,385.7 L642.8,385.4 L643.5,385.4 L643.5,385.0 L644.2,385.0 L644.2,384.8 L644.9,384.8 L644.9,385.3 L645.6,385.3 L645.6,386.0 L646.3,386.0 L646.3,386.3 L647.0,386.3 L647.0,386.7 L647.7,386.7 L647.7,386.4 L648.4,386.4 L648.4,385.8 L649.1,385.8 L649.1,385.6 L649.8,385.6 L649.8,385.2 L650.5,385.2 L650.5,385.8 L651.2,385.8 L651.2,386.0 L651.9,386.0 L651.9,386.0 L652.6,386.0 L652.6,386.1 L653.3,386.1 L653.3,386.2 L654.0,386.2 L654.0,386.8 L654.7,386.8 L654.7,386.7 L655.4,386.7 L655.4,386.2 L656.1,386.2 L656.1,386.5 L656.8,386.5 L656.8,387.1 L657.5,387.1 L657.5,387.3 L658.2,387.3 L658.2,386.9 L658.9,386.9 L658.9,386.8 L659.6,386.8 L659.6,386.4 L660.3,386.4 L660.3,386.1 L661.0,386.1 L661.0,386.3 L661.7,386.3 L661.7,386.8 L662.4,386.8 L662.4,387.5 L663.1,387.5 L663.1,388.0 L663.8,388.0 L663.8,388.6 L664.5,388.6 L664.5,388.8 L665.2,388.8 L665.2,388.4 L665.9,388.4 L665.9,388.3 L666.6,388.3 L666.6,388.1 L667.3,388.1 L667.3,388.3 L668.0,388.3 L668.0,388.4 L668.7,388.4 L668.7,388.6 L669.4,388.6 L669.4,388.7 L670.1,388.7 L669.8,389.2 Z" fill="#2E2EA6"/><line x1="500" y1="388.9" x2="669.8" y2="388.9" stroke="#2E2EA6" stroke-width="0.6"/>
<line x1="500" y1="403.5" x2="669.8" y2="403.5" stroke="#cfcfd6" stroke-width="0.6"/>
<path d="M500.0,403.5 L500.0,403.5 L500.7,403.5 L500.7,403.1 L501.4,403.1 L501.4,403.0 L502.1,403.0 L502.1,403.2 L502.8,403.2 L502.8,403.5 L503.5,403.5 L503.5,403.5 L504.2,403.5 L504.2,403.5 L504.9,403.5 L504.9,403.5 L505.6,403.5 L505.6,403.5 L506.3,403.5 L506.3,403.1 L507.0,403.1 L507.0,403.1 L507.7,403.1 L507.7,403.0 L508.4,403.0 L508.4,403.0 L509.1,403.0 L509.1,402.7 L509.8,402.7 L509.8,403.5 L510.5,403.5 L510.5,403.5 L511.2,403.5 L511.2,402.7 L511.9,402.7 L511.9,402.7 L512.6,402.7 L512.6,402.8 L513.3,402.8 L513.3,402.4 L514.0,402.4 L514.0,402.2 L514.7,402.2 L514.7,401.4 L515.4,401.4 L515.4,400.9 L516.1,400.9 L516.1,401.0 L516.8,401.0 L516.8,401.1 L517.5,401.1 L517.5,401.8 L518.2,401.8 L518.2,400.9 L518.9,400.9 L518.9,401.0 L519.6,401.0 L519.6,403.5 L520.3,403.5 L520.3,399.8 L521.0,399.8 L521.0,399.1 L521.7,399.1 L521.7,398.8 L522.4,398.8 L522.4,399.6 L523.1,399.6 L523.1,400.8 L523.8,400.8 L523.8,401.1 L524.5,401.1 L524.5,401.0 L525.2,401.0 L525.2,400.2 L525.9,400.2 L525.9,403.5 L526.6,403.5 L526.6,400.8 L527.3,400.8 L527.3,403.5 L528.0,403.5 L528.0,403.5 L528.7,403.5 L528.7,403.5 L529.4,403.5 L529.4,400.8 L530.1,400.8 L530.1,401.5 L530.8,401.5 L530.8,401.4 L531.5,401.4 L531.5,401.4 L532.2,401.4 L532.2,400.3 L532.9,400.3 L532.9,400.1 L533.6,400.1 L533.6,400.8 L534.3,400.8 L534.3,403.5 L535.0,403.5 L535.0,403.5 L535.7,403.5 L535.7,401.2 L536.4,401.2 L536.4,401.7 L537.1,401.7 L537.1,402.0 L537.8,402.0 L537.8,402.3 L538.5,402.3 L538.5,402.2 L539.2,402.2 L539.2,402.2 L539.9,402.2 L539.9,402.3 L540.6,402.3 L540.6,402.4 L541.3,402.4 L541.3,402.4 L542.0,402.4 L542.0,402.7 L542.7,402.7 L542.7,402.8 L543.4,402.8 L543.4,402.7 L544.1,402.7 L544.1,402.5 L544.8,402.5 L544.8,402.3 L545.5,402.3 L545.5,402.3 L546.2,402.3 L546.2,402.5 L546.9,402.5 L546.9,402.6 L547.6,402.6 L547.6,402.8 L548.3,402.8 L548.3,402.8 L549.0,402.8 L549.0,403.0 L549.7,403.0 L549.7,403.0 L550.4,403.0 L550.4,403.5 L551.1,403.5 L551.1,403.5 L551.8,403.5 L551.8,402.6 L552.5,402.6 L552.5,402.4 L553.2,402.4 L553.2,402.6 L553.9,402.6 L553.9,402.3 L554.6,402.3 L554.6,402.1 L555.3,402.1 L555.3,402.2 L556.0,402.2 L556.0,402.3 L556.7,402.3 L556.7,402.6 L557.4,402.6 L557.4,402.1 L558.1,402.1 L558.1,401.6 L558.8,401.6 L558.8,400.7 L559.5,400.7 L559.5,400.8 L560.2,400.8 L560.2,402.0 L560.9,402.0 L560.9,401.1 L561.6,401.1 L561.6,399.7 L562.3,399.7 L562.3,397.9 L563.0,397.9 L563.0,398.9 L563.7,398.9 L563.7,400.1 L564.4,400.1 L564.4,401.1 L565.1,401.1 L565.1,402.0 L565.8,402.0 L565.8,402.1 L566.5,402.1 L566.5,402.5 L567.2,402.5 L567.2,402.5 L567.9,402.5 L567.9,402.5 L568.6,402.5 L568.6,402.5 L569.3,402.5 L569.3,402.2 L570.0,402.2 L570.0,402.3 L570.7,402.3 L570.7,402.1 L571.4,402.1 L571.4,402.3 L572.1,402.3 L572.1,402.5 L572.8,402.5 L572.8,402.3 L573.5,402.3 L573.5,402.6 L574.2,402.6 L574.2,402.3 L574.9,402.3 L574.9,402.5 L575.6,402.5 L575.6,402.2 L576.3,402.2 L576.3,403.5 L577.0,403.5 L577.0,403.5 L577.7,403.5 L577.7,403.5 L578.4,403.5 L578.4,403.5 L579.1,403.5 L579.1,402.6 L579.8,402.6 L579.8,402.4 L580.5,402.4 L580.5,402.1 L581.2,402.1 L581.2,403.5 L581.9,403.5 L581.9,403.5 L582.6,403.5 L582.6,403.5 L583.3,403.5 L583.3,403.5 L584.0,403.5 L584.0,403.5 L584.7,403.5 L584.7,403.5 L585.4,403.5 L585.4,401.8 L586.1,401.8 L586.1,401.7 L586.8,401.7 L586.8,401.0 L587.5,401.0 L587.5,401.0 L588.2,401.0 L588.2,400.3 L588.9,400.3 L588.9,401.0 L589.6,401.0 L589.6,400.3 L590.3,400.3 L590.3,400.5 L591.0,400.5 L591.0,399.9 L591.7,399.9 L591.7,401.0 L592.4,401.0 L592.4,401.7 L593.1,401.7 L593.1,401.2 L593.8,401.2 L593.8,400.0 L594.5,400.0 L594.5,399.0 L595.2,399.0 L595.2,399.8 L595.9,399.8 L595.9,400.7 L596.6,400.7 L596.6,400.7 L597.3,400.7 L597.3,400.5 L598.0,400.5 L598.0,400.0 L598.7,400.0 L598.7,401.0 L599.4,401.0 L599.4,400.6 L600.1,400.6 L600.1,399.8 L600.8,399.8 L600.8,397.4 L601.5,397.4 L601.5,397.6 L602.2,397.6 L602.2,398.1 L602.9,398.1 L602.9,399.5 L603.6,399.5 L603.6,398.7 L604.3,398.7 L604.3,398.3 L605.0,398.3 L605.0,399.4 L605.7,399.4 L605.7,399.4 L606.4,399.4 L606.4,399.8 L607.1,399.8 L607.1,396.7 L607.8,396.7 L607.8,396.1 L608.5,396.1 L608.5,394.4 L609.2,394.4 L609.2,394.6 L609.9,394.6 L609.9,393.0 L610.6,393.0 L610.6,403.5 L611.3,403.5 L611.3,403.5 L612.0,403.5 L612.0,397.1 L612.7,397.1 L612.7,397.7 L613.4,397.7 L613.4,398.2 L614.1,398.2 L614.1,399.1 L614.8,399.1 L614.8,400.1 L615.5,400.1 L615.5,399.6 L616.2,399.6 L616.2,399.6 L616.9,399.6 L616.9,399.6 L617.6,399.6 L617.6,400.4 L618.3,400.4 L618.3,401.3 L619.0,401.3 L619.0,400.6 L619.7,400.6 L619.7,400.5 L620.4,400.5 L620.4,403.5 L621.1,403.5 L621.1,400.1 L621.8,400.1 L621.8,403.5 L622.5,403.5 L622.5,400.5 L623.2,400.5 L623.2,400.3 L623.9,400.3 L623.9,403.5 L624.6,403.5 L624.6,403.5 L625.3,403.5 L625.3,400.7 L626.0,400.7 L626.0,400.6 L626.7,400.6 L626.7,399.9 L627.4,399.9 L627.4,398.4 L628.1,398.4 L628.1,397.4 L628.8,397.4 L628.8,398.9 L629.5,398.9 L629.5,399.3 L630.2,399.3 L630.2,399.7 L630.9,399.7 L630.9,399.1 L631.6,399.1 L631.6,399.9 L632.3,399.9 L632.3,403.5 L633.0,403.5 L633.0,403.5 L633.7,403.5 L633.7,403.5 L634.4,403.5 L634.4,403.5 L635.1,403.5 L635.1,403.5 L635.8,403.5 L635.8,403.5 L636.5,403.5 L636.5,399.2 L637.2,399.2 L637.2,403.5 L637.9,403.5 L637.9,403.5 L638.6,403.5 L638.6,403.5 L639.3,403.5 L639.3,403.5 L640.0,403.5 L640.0,400.7 L640.7,400.7 L640.7,401.0 L641.4,401.0 L641.4,400.2 L642.1,400.2 L642.1,399.5 L642.8,399.5 L642.8,400.2 L643.5,400.2 L643.5,400.4 L644.2,400.4 L644.2,400.3 L644.9,400.3 L644.9,400.1 L645.6,400.1 L645.6,400.1 L646.3,400.1 L646.3,400.1 L647.0,400.1 L647.0,399.3 L647.7,399.3 L647.7,400.3 L648.4,400.3 L648.4,399.9 L649.1,399.9 L649.1,403.5 L649.8,403.5 L649.8,403.5 L650.5,403.5 L650.5,403.5 L651.2,403.5 L651.2,403.5 L651.9,403.5 L651.9,401.0 L652.6,401.0 L652.6,400.4 L653.3,400.4 L653.3,400.3 L654.0,400.3 L654.0,400.0 L654.7,400.0 L654.7,400.1 L655.4,400.1 L655.4,400.0 L656.1,400.0 L656.1,400.4 L656.8,400.4 L656.8,400.2 L657.5,400.2 L657.5,400.9 L658.2,400.9 L658.2,401.7 L658.9,401.7 L658.9,402.2 L659.6,402.2 L659.6,401.6 L660.3,401.6 L660.3,400.8 L661.0,400.8 L661.0,403.5 L661.7,403.5 L661.7,401.5 L662.4,401.5 L662.4,401.8 L663.1,401.8 L663.1,401.6 L663.8,401.6 L663.8,401.2 L664.5,401.2 L664.5,401.7 L665.2,401.7 L665.2,403.5 L665.9,403.5 L665.9,403.5 L666.6,403.5 L666.6,403.5 L667.3,403.5 L667.3,403.5 L668.0,403.5 L668.0,403.5 L668.7,403.5 L668.7,403.5 L669.4,403.5 L669.4,403.5 L670.1,403.5 L669.8,403.5 Z" fill="#E8302F"/><line x1="500" y1="403.2" x2="669.8" y2="403.2" stroke="#E8302F" stroke-width="0.6"/>
<line x1="500" y1="418.0" x2="669.8" y2="418.0" stroke="#cfcfd6" stroke-width="0.6"/>
<path d="M500.0,418.0 L500.0,418.0 L500.7,418.0 L500.7,417.1 L501.4,417.1 L501.4,417.2 L502.1,417.2 L502.1,417.7 L502.8,417.7 L502.8,418.0 L503.5,418.0 L503.5,418.0 L504.2,418.0 L504.2,418.0 L504.9,418.0 L504.9,418.0 L505.6,418.0 L505.6,418.0 L506.3,418.0 L506.3,418.0 L507.0,418.0 L507.0,418.0 L507.7,418.0 L507.7,417.7 L508.4,417.7 L508.4,417.6 L509.1,417.6 L509.1,417.5 L509.8,417.5 L509.8,417.6 L510.5,417.6 L510.5,417.3 L511.2,417.3 L511.2,417.6 L511.9,417.6 L511.9,418.0 L512.6,418.0 L512.6,417.5 L513.3,417.5 L513.3,418.0 L514.0,418.0 L514.0,418.0 L514.7,418.0 L514.7,418.0 L515.4,418.0 L515.4,418.0 L516.1,418.0 L516.1,418.0 L516.8,418.0 L516.8,418.0 L517.5,418.0 L517.5,418.0 L518.2,418.0 L518.2,418.0 L518.9,418.0 L518.9,417.1 L519.6,417.1 L519.6,415.4 L520.3,415.4 L520.3,418.0 L521.0,418.0 L521.0,415.5 L521.7,415.5 L521.7,417.0 L522.4,417.0 L522.4,416.5 L523.1,416.5 L523.1,416.7 L523.8,416.7 L523.8,415.2 L524.5,415.2 L524.5,418.0 L525.2,418.0 L525.2,417.0 L525.9,417.0 L525.9,416.9 L526.6,416.9 L526.6,415.9 L527.3,415.9 L527.3,417.0 L528.0,417.0 L528.0,415.7 L528.7,415.7 L528.7,416.8 L529.4,416.8 L529.4,416.3 L530.1,416.3 L530.1,417.1 L530.8,417.1 L530.8,418.0 L531.5,418.0 L531.5,418.0 L532.2,418.0 L532.2,416.3 L532.9,416.3 L532.9,417.3 L533.6,417.3 L533.6,417.2 L534.3,417.2 L534.3,417.5 L535.0,417.5 L535.0,417.3 L535.7,417.3 L535.7,418.0 L536.4,418.0 L536.4,417.0 L537.1,417.0 L537.1,417.0 L537.8,417.0 L537.8,418.0 L538.5,418.0 L538.5,418.0 L539.2,418.0 L539.2,417.2 L539.9,417.2 L539.9,417.4 L540.6,417.4 L540.6,417.4 L541.3,417.4 L541.3,418.0 L542.0,418.0 L542.0,418.0 L542.7,418.0 L542.7,418.0 L543.4,418.0 L543.4,418.0 L544.1,418.0 L544.1,418.0 L544.8,418.0 L544.8,417.6 L545.5,417.6 L545.5,417.2 L546.2,417.2 L546.2,417.7 L546.9,417.7 L546.9,417.2 L547.6,417.2 L547.6,417.7 L548.3,417.7 L548.3,417.2 L549.0,417.2 L549.0,417.3 L549.7,417.3 L549.7,417.1 L550.4,417.1 L550.4,417.5 L551.1,417.5 L551.1,417.2 L551.8,417.2 L551.8,418.0 L552.5,418.0 L552.5,418.0 L553.2,418.0 L553.2,418.0 L553.9,418.0 L553.9,417.2 L554.6,417.2 L554.6,417.5 L555.3,417.5 L555.3,417.6 L556.0,417.6 L556.0,418.0 L556.7,418.0 L556.7,418.0 L557.4,418.0 L557.4,418.0 L558.1,418.0 L558.1,416.4 L558.8,416.4 L558.8,415.6 L559.5,415.6 L559.5,416.8 L560.2,416.8 L560.2,416.6 L560.9,416.6 L560.9,415.2 L561.6,415.2 L561.6,416.3 L562.3,416.3 L562.3,416.6 L563.0,416.6 L563.0,416.4 L563.7,416.4 L563.7,414.8 L564.4,414.8 L564.4,418.0 L565.1,418.0 L565.1,416.6 L565.8,416.6 L565.8,418.0 L566.5,418.0 L566.5,418.0 L567.2,418.0 L567.2,418.0 L567.9,418.0 L567.9,418.0 L568.6,418.0 L568.6,418.0 L569.3,418.0 L569.3,418.0 L570.0,418.0 L570.0,417.6 L570.7,417.6 L570.7,417.1 L571.4,417.1 L571.4,418.0 L572.1,418.0 L572.1,418.0 L572.8,418.0 L572.8,416.9 L573.5,416.9 L573.5,417.4 L574.2,417.4 L574.2,417.0 L574.9,417.0 L574.9,417.2 L575.6,417.2 L575.6,417.1 L576.3,417.1 L576.3,417.6 L577.0,417.6 L577.0,417.2 L577.7,417.2 L577.7,416.9 L578.4,416.9 L578.4,418.0 L579.1,418.0 L579.1,418.0 L579.8,418.0 L579.8,417.4 L580.5,417.4 L580.5,416.8 L581.2,416.8 L581.2,416.0 L581.9,416.0 L581.9,418.0 L582.6,418.0 L582.6,418.0 L583.3,418.0 L583.3,415.9 L584.0,415.9 L584.0,416.2 L584.7,416.2 L584.7,416.5 L585.4,416.5 L585.4,418.0 L586.1,418.0 L586.1,418.0 L586.8,418.0 L586.8,418.0 L587.5,418.0 L587.5,418.0 L588.2,418.0 L588.2,418.0 L588.9,418.0 L588.9,416.9 L589.6,416.9 L589.6,416.8 L590.3,416.8 L590.3,415.8 L591.0,415.8 L591.0,415.9 L591.7,415.9 L591.7,415.4 L592.4,415.4 L592.4,416.1 L593.1,416.1 L593.1,416.2 L593.8,416.2 L593.8,415.7 L594.5,415.7 L594.5,416.4 L595.2,416.4 L595.2,414.5 L595.9,414.5 L595.9,415.1 L596.6,415.1 L596.6,418.0 L597.3,418.0 L597.3,418.0 L598.0,418.0 L598.0,414.1 L598.7,414.1 L598.7,413.6 L599.4,413.6 L599.4,418.0 L600.1,418.0 L600.1,418.0 L600.8,418.0 L600.8,413.9 L601.5,413.9 L601.5,415.2 L602.2,415.2 L602.2,414.9 L602.9,414.9 L602.9,418.0 L603.6,418.0 L603.6,418.0 L604.3,418.0 L604.3,418.0 L605.0,418.0 L605.0,418.0 L605.7,418.0 L605.7,412.1 L606.4,412.1 L606.4,414.3 L607.1,414.3 L607.1,411.3 L607.8,411.3 L607.8,412.7 L608.5,412.7 L608.5,413.7 L609.2,413.7 L609.2,418.0 L609.9,418.0 L609.9,412.9 L610.6,412.9 L610.6,414.1 L611.3,414.1 L611.3,414.5 L612.0,414.5 L612.0,416.0 L612.7,416.0 L612.7,416.0 L613.4,416.0 L613.4,416.1 L614.1,416.1 L614.1,413.9 L614.8,413.9 L614.8,415.5 L615.5,415.5 L615.5,414.8 L616.2,414.8 L616.2,415.0 L616.9,415.0 L616.9,414.9 L617.6,414.9 L617.6,416.3 L618.3,416.3 L618.3,418.0 L619.0,418.0 L619.0,418.0 L619.7,418.0 L619.7,418.0 L620.4,418.0 L620.4,418.0 L621.1,418.0 L621.1,418.0 L621.8,418.0 L621.8,418.0 L622.5,418.0 L622.5,418.0 L623.2,418.0 L623.2,418.0 L623.9,418.0 L623.9,416.1 L624.6,416.1 L624.6,416.7 L625.3,416.7 L625.3,416.8 L626.0,416.8 L626.0,416.8 L626.7,416.8 L626.7,418.0 L627.4,418.0 L627.4,415.9 L628.1,415.9 L628.1,415.1 L628.8,415.1 L628.8,416.5 L629.5,416.5 L629.5,416.1 L630.2,416.1 L630.2,415.4 L630.9,415.4 L630.9,416.0 L631.6,416.0 L631.6,414.9 L632.3,414.9 L632.3,416.1 L633.0,416.1 L633.0,414.6 L633.7,414.6 L633.7,414.8 L634.4,414.8 L634.4,415.5 L635.1,415.5 L635.1,414.5 L635.8,414.5 L635.8,415.6 L636.5,415.6 L636.5,418.0 L637.2,418.0 L637.2,418.0 L637.9,418.0 L637.9,418.0 L638.6,418.0 L638.6,418.0 L639.3,418.0 L639.3,418.0 L640.0,418.0 L640.0,413.9 L640.7,413.9 L640.7,414.5 L641.4,414.5 L641.4,413.9 L642.1,413.9 L642.1,415.1 L642.8,415.1 L642.8,415.8 L643.5,415.8 L643.5,414.7 L644.2,414.7 L644.2,414.2 L644.9,414.2 L644.9,415.4 L645.6,415.4 L645.6,414.9 L646.3,414.9 L646.3,415.2 L647.0,415.2 L647.0,416.0 L647.7,416.0 L647.7,416.4 L648.4,416.4 L648.4,415.3 L649.1,415.3 L649.1,416.5 L649.8,416.5 L649.8,415.9 L650.5,415.9 L650.5,415.1 L651.2,415.1 L651.2,416.1 L651.9,416.1 L651.9,416.1 L652.6,416.1 L652.6,414.9 L653.3,414.9 L653.3,418.0 L654.0,418.0 L654.0,418.0 L654.7,418.0 L654.7,418.0 L655.4,418.0 L655.4,415.6 L656.1,415.6 L656.1,416.5 L656.8,416.5 L656.8,416.1 L657.5,416.1 L657.5,415.9 L658.2,415.9 L658.2,416.3 L658.9,416.3 L658.9,417.2 L659.6,417.2 L659.6,416.5 L660.3,416.5 L660.3,416.8 L661.0,416.8 L661.0,417.4 L661.7,417.4 L661.7,417.5 L662.4,417.5 L662.4,417.3 L663.1,417.3 L663.1,417.0 L663.8,417.0 L663.8,417.2 L664.5,417.2 L664.5,417.6 L665.2,417.6 L665.2,416.9 L665.9,416.9 L665.9,417.6 L666.6,417.6 L666.6,417.1 L667.3,417.1 L667.3,417.4 L668.0,417.4 L668.0,417.3 L668.7,417.3 L668.7,417.3 L669.4,417.3 L669.4,417.4 L670.1,417.4 L669.8,418.0 Z" fill="#F0B2C0"/><line x1="500" y1="417.7" x2="669.8" y2="417.7" stroke="#F0B2C0" stroke-width="0.6"/>
<text x="220.60" y="383.50" font-size="6.5" font-weight="bold" fill="#000" text-anchor="start" stroke="#000" stroke-width="0.22" transform="translate(0,-26.845) scale(1,1.07)" >0 - 45</text>
<text x="379.20" y="380.30" font-size="6.5" font-weight="bold" fill="#000" text-anchor="start" stroke="#000" stroke-width="0.22" transform="translate(0,-26.621) scale(1,1.07)" >0 - 35</text>
<text x="506.10" y="379.40" font-size="6.5" font-weight="bold" fill="#000" text-anchor="start" stroke="#000" stroke-width="0.22" transform="translate(0,-26.558) scale(1,1.07)" >0 - 35</text>
<line x1="242.2" y1="431" x2="286.4" y2="431" stroke="#1515b5" stroke-width="0.8"/><rect x="243" y="429.1" width="3.00" height="3.8" fill="#1515b5"/><rect x="251" y="429.1" width="2.00" height="3.8" fill="#1515b5"/><rect x="256.5" y="429.1" width="2.00" height="3.8" fill="#1515b5"/><rect x="275" y="429.1" width="2.00" height="3.8" fill="#1515b5"/><rect x="279" y="429.1" width="7.40" height="3.8" fill="#1515b5"/><rect x="242.2" y="429.8" width="0.80" height="2.4" fill="#1515b5"/><rect x="262" y="429.8" width="1.50" height="2.4" fill="#1515b5"/><rect x="266" y="429.8" width="1.50" height="2.4" fill="#1515b5"/><rect x="270" y="429.8" width="1.50" height="2.4" fill="#1515b5"/><rect x="272.5" y="429.8" width="1.50" height="2.4" fill="#1515b5"/>
<line x1="310.5" y1="431" x2="358.2" y2="431" stroke="#1515b5" stroke-width="0.8"/><rect x="322" y="429.1" width="5.00" height="3.8" fill="#1515b5"/><rect x="311" y="429.8" width="1.50" height="2.4" fill="#1515b5"/><rect x="314" y="429.8" width="1.50" height="2.4" fill="#1515b5"/><rect x="317" y="429.8" width="1.50" height="2.4" fill="#1515b5"/><rect x="345" y="429.8" width="1.50" height="2.4" fill="#1515b5"/><rect x="349" y="429.8" width="1.50" height="2.4" fill="#1515b5"/><rect x="353" y="429.8" width="1.50" height="2.4" fill="#1515b5"/><rect x="357" y="429.8" width="1.20" height="2.4" fill="#1515b5"/>
<line x1="379.9" y1="431" x2="471.8" y2="431" stroke="#1515b5" stroke-width="0.8"/><rect x="380" y="429.1" width="7.50" height="3.8" fill="#1515b5"/><rect x="389.5" y="429.1" width="2.00" height="3.8" fill="#1515b5"/><rect x="397.4" y="429.1" width="10.90" height="3.8" fill="#1515b5"/><rect x="409.9" y="429.1" width="18.80" height="3.8" fill="#1515b5"/><rect x="448.5" y="429.1" width="3.50" height="3.8" fill="#1515b5"/><rect x="461" y="429.1" width="10.80" height="3.8" fill="#1515b5"/><rect x="459.5" y="429.8" width="1.50" height="2.4" fill="#1515b5"/>
<line x1="512.2" y1="431" x2="654.5" y2="431" stroke="#1515b5" stroke-width="0.8"/><rect x="512.2" y="429.1" width="4.30" height="3.8" fill="#1515b5"/><rect x="545.8" y="429.1" width="2.40" height="3.8" fill="#1515b5"/><rect x="644.5" y="429.1" width="10.00" height="3.8" fill="#1515b5"/><rect x="550" y="429.8" width="1.00" height="2.4" fill="#1515b5"/><rect x="598" y="429.8" width="1.50" height="2.4" fill="#1515b5"/><rect x="601.5" y="429.8" width="1.50" height="2.4" fill="#1515b5"/><rect x="606" y="429.8" width="1.50" height="2.4" fill="#1515b5"/><rect x="611" y="429.8" width="1.50" height="2.4" fill="#1515b5"/><rect x="618" y="429.8" width="1.50" height="2.4" fill="#1515b5"/><rect x="627" y="429.8" width="1.50" height="2.4" fill="#1515b5"/><rect x="636" y="429.8" width="1.50" height="2.4" fill="#1515b5"/>
<text x="264.00" y="438.50" font-size="6.7" font-weight="bold" fill="#000" text-anchor="middle" font-style="italic" stroke="#000" stroke-width="0.22" transform="translate(0,-30.695) scale(1,1.07)" >Ppan</text>
<text x="333.60" y="438.50" font-size="6.7" font-weight="bold" fill="#000" text-anchor="middle" font-style="italic" stroke="#000" stroke-width="0.22" transform="translate(0,-30.695) scale(1,1.07)" >Eif3g</text>
<text x="436.20" y="438.50" font-size="6.7" font-weight="bold" fill="#000" text-anchor="middle" font-style="italic" stroke="#000" stroke-width="0.22" transform="translate(0,-30.695) scale(1,1.07)" >Mapk7</text>
<text x="538.40" y="438.50" font-size="6.7" font-weight="bold" fill="#000" text-anchor="middle" font-style="italic" stroke="#000" stroke-width="0.22" transform="translate(0,-30.695) scale(1,1.07)" >Map2k3os</text>
<text x="606.60" y="438.50" font-size="6.7" font-weight="bold" fill="#000" text-anchor="middle" font-style="italic" stroke="#000" stroke-width="0.22" transform="translate(0,-30.695) scale(1,1.07)" >Map2k3</text>
<path d="M74.30,460.5 H78.90 M76.6,458.20 V462.80" stroke="#000" stroke-width="1.1"/>
<path d="M121.00,460.5 H125.60 M123.3,458.20 V462.80" stroke="#000" stroke-width="1.1"/>
<path d="M86.30,470.7 H90.90 M88.6,468.40 V473.00" stroke="#000" stroke-width="1.1"/>
<path d="M133.30,470.7 H137.90 M135.6,468.40 V473.00" stroke="#000" stroke-width="1.1"/>
<path d="M98.10,480.7 H102.70 M100.4,478.40 V483.00" stroke="#000" stroke-width="1.1"/>
<path d="M145.40,480.7 H150.00 M147.7,478.40 V483.00" stroke="#000" stroke-width="1.1"/>
<path d="M62.20,490.3 H66.80 M64.5,488.00 V492.60" stroke="#000" stroke-width="1.1"/>
<path d="M74.80,490.3 H79.40 M77.1,488.00 V492.60" stroke="#000" stroke-width="1.1"/>
<path d="M86.50,490.3 H91.10 M88.8,488.00 V492.60" stroke="#000" stroke-width="1.1"/>
<path d="M98.10,490.3 H102.70 M100.4,488.00 V492.60" stroke="#000" stroke-width="1.1"/>
<path d="M109.30,500.8 H113.90 M111.6,498.50 V503.10" stroke="#000" stroke-width="1.1"/>
<path d="M121.00,500.8 H125.60 M123.3,498.50 V503.10" stroke="#000" stroke-width="1.1"/>
<path d="M133.30,500.8 H137.90 M135.6,498.50 V503.10" stroke="#000" stroke-width="1.1"/>
<path d="M145.40,500.8 H150.00 M147.7,498.50 V503.10" stroke="#000" stroke-width="1.1"/>
<text x="159.60" y="463.70" font-size="7.9" font-weight="bold" fill="#000" text-anchor="start" stroke="#000" stroke-width="0.22" transform="translate(0,-32.459) scale(1,1.07)" >SMYD5</text>
<text x="159.60" y="473.70" font-size="7.9" font-weight="bold" fill="#000" text-anchor="start" stroke="#000" stroke-width="0.22" transform="translate(0,-33.159) scale(1,1.07)" >SUV420H1-SET</text>
<text x="159.60" y="483.30" font-size="7.9" font-weight="bold" fill="#000" text-anchor="start" stroke="#000" stroke-width="0.22" transform="translate(0,-33.831) scale(1,1.07)" >SETD2-SET</text>
<text x="159.60" y="492.90" font-size="7.9" font-weight="bold" fill="#000" text-anchor="start" stroke="#000" stroke-width="0.22" transform="translate(0,-34.503) scale(1,1.07)" >Nucleosome</text>
<text x="159.60" y="502.60" font-size="7.9" font-weight="bold" fill="#000" text-anchor="start" stroke="#000" stroke-width="0.22" transform="translate(0,-35.182) scale(1,1.07)" >Octamer</text>
<rect x="58.2" y="508.2" width="96.1" height="10.10" fill="#dddddd" stroke="#3a3a3a" stroke-width="1"/>
<rect x="58.2" y="521.5" width="96.1" height="10.70" fill="#dddddd" stroke="#3a3a3a" stroke-width="1"/>
<ellipse cx="100.2" cy="513.4" rx="5.4" ry="2.8" fill="#000" filter="url(#bl05)"/>
<ellipse cx="87.3" cy="525.2" rx="5.0" ry="2.5" fill="#000" filter="url(#bl05)"/>
<ellipse cx="121.3" cy="514.6" rx="3.5" ry="1.1" fill="#333" opacity="0.55" filter="url(#bl05)"/>
<ellipse cx="146" cy="514.8" rx="4" ry="1" fill="#555" opacity="0.3" filter="url(#bl05)"/>
<ellipse cx="134" cy="514.8" rx="3" ry="0.8" fill="#555" opacity="0.2" filter="url(#bl05)"/>
<ellipse cx="148" cy="526" rx="5" ry="4" fill="#777" opacity="0.35" filter="url(#bl1)"/>
<ellipse cx="121.3" cy="524.5" rx="3" ry="0.8" fill="#555" opacity="0.25" filter="url(#bl05)"/>
<text x="50.80" y="517.00" font-size="7.9" font-weight="bold" fill="#000" text-anchor="end" stroke="#000" stroke-width="0.22" transform="translate(0,-36.190) scale(1,1.07)" >15 kD</text>
<line x1="52" y1="514.5" x2="58.2" y2="514.5" stroke="#000" stroke-width="1.1"/>
<text x="50.80" y="531.00" font-size="7.9" font-weight="bold" fill="#000" text-anchor="end" stroke="#000" stroke-width="0.22" transform="translate(0,-37.170) scale(1,1.07)" >10 kD</text>
<line x1="52" y1="528.5" x2="58.2" y2="528.5" stroke="#000" stroke-width="1.1"/>
<text x="158.70" y="516.60" font-size="7.9" font-weight="bold" fill="#000" text-anchor="start" stroke="#000" stroke-width="0.22" transform="translate(0,-36.162) scale(1,1.07)" >H3K36me3</text>
<text x="158.70" y="530.20" font-size="7.9" font-weight="bold" fill="#000" text-anchor="start" stroke="#000" stroke-width="0.22" transform="translate(0,-37.114) scale(1,1.07)" >H4K20me3</text>
<rect x="47.4" y="534.8" width="108" height="102.4" fill="#c7c7c8" stroke="#333" stroke-width="1"/>
<rect x="49.5" y="536.95" width="8.0" height="1.5" rx="0.8" fill="#444" opacity="0.35" filter="url(#bl05)"/>
<rect x="49.5" y="542.35" width="8.0" height="1.5" rx="0.8" fill="#444" opacity="0.35" filter="url(#bl05)"/>
<rect x="49.5" y="548.55" width="8.0" height="1.5" rx="0.8" fill="#444" opacity="0.3" filter="url(#bl05)"/>
<rect x="49.5" y="557.05" width="8.0" height="1.5" rx="0.8" fill="#444" opacity="0.6" filter="url(#bl05)"/>
<rect x="49.5" y="564.25" width="8.0" height="1.5" rx="0.8" fill="#444" opacity="0.55" filter="url(#bl05)"/>
<rect x="49.5" y="571.95" width="8.0" height="1.5" rx="0.8" fill="#444" opacity="0.55" filter="url(#bl05)"/>
<rect x="49.5" y="601.95" width="8.0" height="1.5" rx="0.8" fill="#444" opacity="0.55" filter="url(#bl05)"/>
<rect x="49.5" y="624.05" width="8.0" height="1.5" rx="0.8" fill="#444" opacity="0.3" filter="url(#bl05)"/>
<text x="46.30" y="539.90" font-size="6.3" font-weight="bold" fill="#000" text-anchor="end" stroke="#000" stroke-width="0.22" transform="translate(0,-37.793) scale(1,1.07)" >150</text>
<text x="46.30" y="545.30" font-size="6.3" font-weight="bold" fill="#000" text-anchor="end" stroke="#000" stroke-width="0.22" transform="translate(0,-38.171) scale(1,1.07)" >100</text>
<text x="46.30" y="551.50" font-size="6.3" font-weight="bold" fill="#000" text-anchor="end" stroke="#000" stroke-width="0.22" transform="translate(0,-38.605) scale(1,1.07)" >70</text>
<text x="46.30" y="560.00" font-size="6.3" font-weight="bold" fill="#000" text-anchor="end" stroke="#000" stroke-width="0.22" transform="translate(0,-39.200) scale(1,1.07)" >50</text>
<text x="46.30" y="567.20" font-size="6.3" font-weight="bold" fill="#000" text-anchor="end" stroke="#000" stroke-width="0.22" transform="translate(0,-39.704) scale(1,1.07)" >40</text>
<text x="46.30" y="574.90" font-size="6.3" font-weight="bold" fill="#000" text-anchor="end" stroke="#000" stroke-width="0.22" transform="translate(0,-40.243) scale(1,1.07)" >35</text>
<text x="46.30" y="604.90" font-size="6.3" font-weight="bold" fill="#000" text-anchor="end" stroke="#000" stroke-width="0.22" transform="translate(0,-42.343) scale(1,1.07)" >20</text>
<text x="46.30" y="627.00" font-size="6.3" font-weight="bold" fill="#000" text-anchor="end" stroke="#000" stroke-width="0.22" transform="translate(0,-43.890) scale(1,1.07)" >15</text>
<rect x="58.9" y="617.70" width="8.3" height="2.6" rx="1.0" fill="#7a7a7a" opacity="0.8" filter="url(#bl1)"/>
<rect x="58.9" y="621.30" width="8.3" height="2.6" rx="1.0" fill="#6e6e6e" opacity="0.85" filter="url(#bl1)"/>
<rect x="58.9" y="630.60" width="8.3" height="3.4" rx="1.0" fill="#7c7c7c" opacity="0.6" filter="url(#bl1)"/>
<rect x="69.8" y="617.70" width="8.4" height="2.6" rx="1.0" fill="#7a7a7a" opacity="0.8" filter="url(#bl1)"/>
<rect x="69.8" y="621.30" width="8.4" height="2.6" rx="1.0" fill="#6e6e6e" opacity="0.85" filter="url(#bl1)"/>
<rect x="69.8" y="630.60" width="8.4" height="3.4" rx="1.0" fill="#7c7c7c" opacity="0.6" filter="url(#bl1)"/>
<rect x="80.6" y="617.70" width="8.2" height="2.6" rx="1.0" fill="#7a7a7a" opacity="0.8" filter="url(#bl1)"/>
<rect x="80.6" y="621.30" width="8.2" height="2.6" rx="1.0" fill="#6e6e6e" opacity="0.85" filter="url(#bl1)"/>
<rect x="80.6" y="630.60" width="8.2" height="3.4" rx="1.0" fill="#7c7c7c" opacity="0.6" filter="url(#bl1)"/>
<rect x="91.7" y="617.70" width="8.3" height="2.6" rx="1.0" fill="#7a7a7a" opacity="0.8" filter="url(#bl1)"/>
<rect x="91.7" y="621.30" width="8.3" height="2.6" rx="1.0" fill="#6e6e6e" opacity="0.85" filter="url(#bl1)"/>
<rect x="91.7" y="630.60" width="8.3" height="3.4" rx="1.0" fill="#7c7c7c" opacity="0.6" filter="url(#bl1)"/>
<rect x="102.2" y="617.70" width="9.2" height="2.6" rx="1.0" fill="#7a7a7a" opacity="0.8" filter="url(#bl1)"/>
<rect x="102.2" y="621.30" width="9.2" height="2.6" rx="1.0" fill="#6e6e6e" opacity="0.85" filter="url(#bl1)"/>
<rect x="102.2" y="630.60" width="9.2" height="3.4" rx="1.0" fill="#7c7c7c" opacity="0.75" filter="url(#bl1)"/>
<rect x="115.3" y="617.70" width="9.0" height="2.6" rx="1.0" fill="#7a7a7a" opacity="0.8" filter="url(#bl1)"/>
<rect x="115.3" y="621.30" width="9.0" height="2.6" rx="1.0" fill="#6e6e6e" opacity="0.85" filter="url(#bl1)"/>
<rect x="115.3" y="630.60" width="9.0" height="3.4" rx="1.0" fill="#7c7c7c" opacity="0.75" filter="url(#bl1)"/>
<rect x="127.6" y="617.70" width="8.6" height="2.6" rx="1.0" fill="#7a7a7a" opacity="0.8" filter="url(#bl1)"/>
<rect x="127.6" y="621.30" width="8.6" height="2.6" rx="1.0" fill="#6e6e6e" opacity="0.85" filter="url(#bl1)"/>
<rect x="127.6" y="630.60" width="8.6" height="3.4" rx="1.0" fill="#7c7c7c" opacity="0.6" filter="url(#bl1)"/>
<rect x="141.3" y="617.70" width="10.0" height="2.6" rx="1.0" fill="#7a7a7a" opacity="0.8" filter="url(#bl1)"/>
<rect x="141.3" y="621.30" width="10.0" height="2.6" rx="1.0" fill="#6e6e6e" opacity="0.85" filter="url(#bl1)"/>
<rect x="141.3" y="630.60" width="10.0" height="3.4" rx="1.0" fill="#7c7c7c" opacity="0.6" filter="url(#bl1)"/>
<rect x="70.8" y="547.40" width="7.4" height="1.6" rx="0.8" fill="#444" opacity="0.8" filter="url(#bl05)"/>
<rect x="70.8" y="549.95" width="7.4" height="1.3" rx="0.7" fill="#555" opacity="0.6" filter="url(#bl05)"/>
<rect x="116.3" y="547.40" width="8.0" height="1.6" rx="0.8" fill="#444" opacity="0.8" filter="url(#bl05)"/>
<rect x="116.3" y="549.95" width="8.0" height="1.3" rx="0.7" fill="#555" opacity="0.6" filter="url(#bl05)"/>
<rect x="81.6" y="548.90" width="7.2" height="1.4" rx="0.7" fill="#444" opacity="0.75" filter="url(#bl05)"/>
<rect x="80.6" y="579.90" width="8.2" height="1.8" rx="0.9" fill="#666" opacity="0.6" filter="url(#bl1)"/>
<rect x="80.6" y="582.70" width="8.2" height="1.8" rx="0.9" fill="#666" opacity="0.6" filter="url(#bl1)"/>
<rect x="80.6" y="586.30" width="8.2" height="1.8" rx="0.9" fill="#666" opacity="0.6" filter="url(#bl1)"/>
<rect x="128.6" y="548.90" width="7.6" height="1.4" rx="0.7" fill="#444" opacity="0.75" filter="url(#bl05)"/>
<rect x="127.6" y="579.90" width="8.6" height="1.8" rx="0.9" fill="#666" opacity="0.6" filter="url(#bl1)"/>
<rect x="127.6" y="582.70" width="8.6" height="1.8" rx="0.9" fill="#666" opacity="0.6" filter="url(#bl1)"/>
<rect x="127.6" y="586.30" width="8.6" height="1.8" rx="0.9" fill="#666" opacity="0.6" filter="url(#bl1)"/>
<rect x="92.7" y="575.05" width="8.3" height="1.5" rx="0.8" fill="#333" opacity="0.8" filter="url(#bl05)"/>
<rect x="142.3" y="575.05" width="10.0" height="1.5" rx="0.8" fill="#333" opacity="0.8" filter="url(#bl05)"/>
<line x1="157.7" y1="547.4" x2="164" y2="547.4" stroke="#000" stroke-width="0.9"/>
<line x1="157.7" y1="550.9" x2="164" y2="550.9" stroke="#000" stroke-width="0.9"/>
<line x1="157.7" y1="575.4" x2="164" y2="575.4" stroke="#000" stroke-width="0.9"/>
<line x1="157.7" y1="618.1" x2="164" y2="618.1" stroke="#000" stroke-width="0.9"/>
<line x1="157.7" y1="621.5" x2="164" y2="621.5" stroke="#000" stroke-width="0.9"/>
<line x1="157.7" y1="630.2" x2="164" y2="630.2" stroke="#000" stroke-width="0.9"/>
<text x="167.60" y="546.40" font-size="7.9" font-weight="bold" fill="#000" text-anchor="start" stroke="#000" stroke-width="0.22" transform="translate(0,-38.248) scale(1,1.07)" >SMYD5</text>
<text x="167.60" y="554.40" font-size="7.9" font-weight="bold" fill="#000" text-anchor="start" stroke="#000" stroke-width="0.22" transform="translate(0,-38.808) scale(1,1.07)" >SUV420H1-SET</text>
<text x="167.60" y="577.90" font-size="7.9" font-weight="bold" fill="#000" text-anchor="start" stroke="#000" stroke-width="0.22" transform="translate(0,-40.453) scale(1,1.07)" >SETD2-SET</text>
<text x="167.60" y="619.40" font-size="7.9" font-weight="bold" fill="#000" text-anchor="start" stroke="#000" stroke-width="0.22" transform="translate(0,-43.358) scale(1,1.07)" >H3</text>
<text x="167.60" y="626.50" font-size="7.9" font-weight="bold" fill="#000" text-anchor="start" stroke="#000" stroke-width="0.22" transform="translate(0,-43.855) scale(1,1.07)" >H2B/H2A</text>
<text x="167.60" y="635.60" font-size="7.9" font-weight="bold" fill="#000" text-anchor="start" stroke="#000" stroke-width="0.22" transform="translate(0,-44.492) scale(1,1.07)" >H4</text>
<text x="159.40" y="587.50" font-size="7" font-weight="bold" fill="#000" text-anchor="start" stroke="#000" stroke-width="0.22" transform="translate(0,-41.125) scale(1,1.07)" >*</text>
<text x="26.30" y="643.80" font-size="5.8" font-weight="bold" fill="#000" text-anchor="start" stroke="#000" stroke-width="0.22" transform="translate(0,-45.066) scale(1,1.07)" >M.W. (kD)</text>
<text x="104.20" y="644.50" font-size="8.1" font-weight="bold" fill="#000" text-anchor="middle" stroke="#000" stroke-width="0.22" transform="translate(0,-45.115) scale(1,1.07)" >CBB staining</text>
<path d="M432.70,484.4 H437.30 M435,482.10 V486.70" stroke="#000" stroke-width="1.1"/>
<path d="M442.40,484.4 H447.00 M444.7,482.10 V486.70" stroke="#000" stroke-width="1.1"/>
<path d="M452.80,484.4 H457.40 M455.1,482.10 V486.70" stroke="#000" stroke-width="1.1"/>
<path d="M462.90,484.4 H467.50 M465.2,482.10 V486.70" stroke="#000" stroke-width="1.1"/>
<path d="M422.80,493.5 H427.40 M425.1,491.20 V495.80" stroke="#000" stroke-width="1.1"/>
<path d="M432.70,493.5 H437.30 M435,491.20 V495.80" stroke="#000" stroke-width="1.1"/>
<path d="M452.80,493.5 H457.40 M455.1,491.20 V495.80" stroke="#000" stroke-width="1.1"/>
<path d="M462.90,493.5 H467.50 M465.2,491.20 V495.80" stroke="#000" stroke-width="1.1"/>
<path d="M442.40,503.2 H447.00 M444.7,500.90 V505.50" stroke="#000" stroke-width="1.1"/>
<text x="455.10" y="505.60" font-size="6.8" font-weight="bold" fill="#000" text-anchor="middle" stroke="#000" stroke-width="0.22" transform="translate(0,-35.392) scale(1,1.07)" >1/2</text>
<text x="465.20" y="505.60" font-size="6.8" font-weight="bold" fill="#000" text-anchor="middle" stroke="#000" stroke-width="0.22" transform="translate(0,-35.392) scale(1,1.07)" >1</text>
<text x="478.30" y="486.10" font-size="7.9" font-weight="bold" fill="#000" text-anchor="start" stroke="#000" stroke-width="0.22" transform="translate(0,-34.027) scale(1,1.07)" >SMYD5</text>
<text x="478.30" y="495.20" font-size="7.9" font-weight="bold" fill="#000" text-anchor="start" stroke="#000" stroke-width="0.22" transform="translate(0,-34.664) scale(1,1.07)" >WT Octamer</text>
<text x="478.30" y="504.60" font-size="7.9" font-weight="bold" fill="#000" text-anchor="start" stroke="#000" stroke-width="0.22" transform="translate(0,-35.322) scale(1,1.07)" >H3K36M Octamer</text>
<rect x="414.5" y="509.6" width="62" height="18.5" fill="#d6d6d6" stroke="#3a3a3a" stroke-width="1"/>
<rect x="429.5" y="516.9" width="10.5" height="2.2" rx="1" fill="#111" filter="url(#bl05)"/>
<rect x="450" y="516.9" width="9.5" height="2.0" rx="1" fill="#222" opacity="0.9" filter="url(#bl05)"/>
<rect x="461" y="517.2" width="8" height="1.6" rx="0.8" fill="#444" opacity="0.5" filter="url(#bl05)"/>
<text x="407.30" y="526.20" font-size="6.8" font-weight="bold" fill="#000" text-anchor="end" stroke="#000" stroke-width="0.22" transform="translate(0,-36.834) scale(1,1.07)" >15 kD</text>
<line x1="407.5" y1="523.7" x2="414.5" y2="523.7" stroke="#000" stroke-width="1.1"/>
<text x="478.70" y="519.30" font-size="8" font-weight="bold" fill="#000" text-anchor="start" stroke="#000" stroke-width="0.22" transform="translate(0,-36.351) scale(1,1.07)" >H3K36me3</text>
<rect x="401" y="530.4" width="75.9" height="87.2" fill="#cfcfcf" stroke="#333" stroke-width="1"/>
<text x="399.30" y="537.00" font-size="5.8" font-weight="bold" fill="#000" text-anchor="end" stroke="#000" stroke-width="0.22" transform="translate(0,-37.590) scale(1,1.07)" >250</text>
<text x="399.30" y="542.00" font-size="5.8" font-weight="bold" fill="#000" text-anchor="end" stroke="#000" stroke-width="0.22" transform="translate(0,-37.940) scale(1,1.07)" >150</text>
<rect x="405.3" y="539.35" width="9.9" height="1.1" rx="0.6" fill="#444" opacity="0.65" filter="url(#bl05)"/>
<text x="399.30" y="546.40" font-size="5.8" font-weight="bold" fill="#000" text-anchor="end" stroke="#000" stroke-width="0.22" transform="translate(0,-38.248) scale(1,1.07)" >100</text>
<rect x="405.3" y="543.75" width="9.9" height="1.1" rx="0.6" fill="#444" opacity="0.65" filter="url(#bl05)"/>
<text x="399.30" y="551.20" font-size="5.8" font-weight="bold" fill="#000" text-anchor="end" stroke="#000" stroke-width="0.22" transform="translate(0,-38.584) scale(1,1.07)" >70</text>
<rect x="405.3" y="548.55" width="9.9" height="1.1" rx="0.6" fill="#444" opacity="0.65" filter="url(#bl05)"/>
<text x="399.30" y="556.20" font-size="5.8" font-weight="bold" fill="#000" text-anchor="end" stroke="#000" stroke-width="0.22" transform="translate(0,-38.934) scale(1,1.07)" >50</text>
<rect x="405.3" y="553.55" width="9.9" height="1.1" rx="0.6" fill="#444" opacity="0.65" filter="url(#bl05)"/>
<text x="399.30" y="562.10" font-size="5.8" font-weight="bold" fill="#000" text-anchor="end" stroke="#000" stroke-width="0.22" transform="translate(0,-39.347) scale(1,1.07)" >40</text>
<rect x="405.3" y="559.45" width="9.9" height="1.1" rx="0.6" fill="#444" opacity="0.65" filter="url(#bl05)"/>
<text x="399.30" y="567.60" font-size="5.8" font-weight="bold" fill="#000" text-anchor="end" stroke="#000" stroke-width="0.22" transform="translate(0,-39.732) scale(1,1.07)" >35</text>
<rect x="405.3" y="564.95" width="9.9" height="1.1" rx="0.6" fill="#444" opacity="0.65" filter="url(#bl05)"/>
<text x="399.30" y="580.10" font-size="5.8" font-weight="bold" fill="#000" text-anchor="end" stroke="#000" stroke-width="0.22" transform="translate(0,-40.607) scale(1,1.07)" >25</text>
<rect x="405.3" y="577.45" width="9.9" height="1.1" rx="0.6" fill="#444" opacity="0.3" filter="url(#bl05)"/>
<text x="399.30" y="586.90" font-size="5.8" font-weight="bold" fill="#000" text-anchor="end" stroke="#000" stroke-width="0.22" transform="translate(0,-41.083) scale(1,1.07)" >20</text>
<rect x="405.3" y="584.25" width="9.9" height="1.1" rx="0.6" fill="#444" opacity="0.65" filter="url(#bl05)"/>
<text x="399.30" y="603.30" font-size="5.8" font-weight="bold" fill="#000" text-anchor="end" stroke="#000" stroke-width="0.22" transform="translate(0,-42.231) scale(1,1.07)" >15</text>
<rect x="405.3" y="600.65" width="9.9" height="1.1" rx="0.6" fill="#444" opacity="0.3" filter="url(#bl05)"/>
<text x="399.30" y="616.90" font-size="5.8" font-weight="bold" fill="#000" text-anchor="end" stroke="#000" stroke-width="0.22" transform="translate(0,-43.183) scale(1,1.07)" >10</text>
<rect x="405.3" y="614.25" width="9.9" height="1.1" rx="0.6" fill="#444" opacity="0.65" filter="url(#bl05)"/>
<rect x="415.8" y="597.00" width="8.8" height="2.4" rx="1.0" fill="#4a4a4a" opacity="0.85" filter="url(#bl1)"/>
<rect x="415.8" y="599.90" width="8.8" height="2.6" rx="1.0" fill="#454545" opacity="0.85" filter="url(#bl1)"/>
<rect x="415.8" y="606.40" width="8.8" height="3.2" rx="1.0" fill="#666" opacity="0.7224999999999999" filter="url(#bl1)"/>
<rect x="426.0" y="597.00" width="9.0" height="2.4" rx="1.0" fill="#4a4a4a" opacity="0.75" filter="url(#bl1)"/>
<rect x="426.0" y="599.90" width="9.0" height="2.6" rx="1.0" fill="#454545" opacity="0.75" filter="url(#bl1)"/>
<rect x="426.0" y="606.40" width="9.0" height="3.2" rx="1.0" fill="#666" opacity="0.6375" filter="url(#bl1)"/>
<rect x="426.5" y="547.65" width="8.5" height="1.5" rx="0.8" fill="#444" opacity="0.85" filter="url(#bl05)"/>
<rect x="437.0" y="597.00" width="9.0" height="2.4" rx="1.0" fill="#4a4a4a" opacity="0.7" filter="url(#bl1)"/>
<rect x="437.0" y="599.90" width="9.0" height="2.6" rx="1.0" fill="#454545" opacity="0.7" filter="url(#bl1)"/>
<rect x="437.0" y="606.40" width="9.0" height="3.2" rx="1.0" fill="#666" opacity="0.595" filter="url(#bl1)"/>
<rect x="437.5" y="547.65" width="8.5" height="1.5" rx="0.8" fill="#444" opacity="0.85" filter="url(#bl05)"/>
<rect x="447.6" y="597.00" width="9.8" height="2.4" rx="1.0" fill="#4a4a4a" opacity="0.9" filter="url(#bl1)"/>
<rect x="447.6" y="599.90" width="9.8" height="2.6" rx="1.0" fill="#454545" opacity="0.9" filter="url(#bl1)"/>
<rect x="447.6" y="606.40" width="9.8" height="3.2" rx="1.0" fill="#666" opacity="0.765" filter="url(#bl1)"/>
<rect x="448.1" y="547.65" width="9.3" height="1.5" rx="0.8" fill="#444" opacity="0.85" filter="url(#bl05)"/>
<rect x="459.6" y="597.00" width="11.4" height="2.4" rx="1.0" fill="#4a4a4a" opacity="1" filter="url(#bl1)"/>
<rect x="459.6" y="599.90" width="11.4" height="2.6" rx="1.0" fill="#454545" opacity="1" filter="url(#bl1)"/>
<rect x="459.6" y="606.40" width="11.4" height="3.2" rx="1.0" fill="#666" opacity="0.85" filter="url(#bl1)"/>
<rect x="460.1" y="547.65" width="10.9" height="1.5" rx="0.8" fill="#444" opacity="0.85" filter="url(#bl05)"/>
<line x1="479.8" y1="548.4" x2="486.3" y2="548.4" stroke="#000" stroke-width="0.9"/>
<line x1="479.8" y1="595.7" x2="486.3" y2="595.7" stroke="#000" stroke-width="0.9"/>
<line x1="479.8" y1="599.5" x2="486.3" y2="599.5" stroke="#000" stroke-width="0.9"/>
<line x1="479.8" y1="606.7" x2="486.3" y2="606.7" stroke="#000" stroke-width="0.9"/>
<text x="489.60" y="550.60" font-size="8" font-weight="bold" fill="#000" text-anchor="start" stroke="#000" stroke-width="0.22" transform="translate(0,-38.542) scale(1,1.07)" >SMYD5</text>
<text x="489.60" y="597.60" font-size="8" font-weight="bold" fill="#000" text-anchor="start" stroke="#000" stroke-width="0.22" transform="translate(0,-41.832) scale(1,1.07)" >H3/H3K36M</text>
<text x="489.60" y="604.40" font-size="8" font-weight="bold" fill="#000" text-anchor="start" stroke="#000" stroke-width="0.22" transform="translate(0,-42.308) scale(1,1.07)" >H2B/H2A</text>
<text x="489.60" y="612.20" font-size="8" font-weight="bold" fill="#000" text-anchor="start" stroke="#000" stroke-width="0.22" transform="translate(0,-42.854) scale(1,1.07)" >H4</text>
<text x="406.40" y="624.60" font-size="5.8" font-weight="bold" fill="#000" text-anchor="end" stroke="#000" stroke-width="0.22" transform="translate(0,-43.722) scale(1,1.07)" >M.W. (kD)</text>
<text x="445.10" y="626.80" font-size="8.1" font-weight="bold" fill="#000" text-anchor="middle" stroke="#000" stroke-width="0.22" transform="translate(0,-43.876) scale(1,1.07)" >CBB staining</text>
<text x="254.50" y="474.40" font-size="8.1" font-weight="bold" fill="#000" text-anchor="start" stroke="#000" stroke-width="0.22" transform="translate(0,-33.208) scale(1,1.07)" >Luminescence quantification</text>
<line x1="272.9" y1="497.40" x2="272.9" y2="581.6" stroke="#000" stroke-width="1.1"/>
<line x1="272.9" y1="581.6" x2="356" y2="581.6" stroke="#000" stroke-width="1.1"/>
<line x1="269.7" y1="581.60" x2="272.9" y2="581.60" stroke="#000" stroke-width="1"/>
<text x="269.10" y="584.00" font-size="6.9" font-weight="normal" fill="#000" text-anchor="end" transform="translate(0,-40.880) scale(1,1.07)" stroke="#000" stroke-width="0.15">0.0</text>
<line x1="269.7" y1="553.70" x2="272.9" y2="553.70" stroke="#000" stroke-width="1"/>
<text x="269.10" y="556.10" font-size="6.9" font-weight="normal" fill="#000" text-anchor="end" transform="translate(0,-38.927) scale(1,1.07)" stroke="#000" stroke-width="0.15">0.5</text>
<line x1="269.7" y1="525.80" x2="272.9" y2="525.80" stroke="#000" stroke-width="1"/>
<text x="269.10" y="528.20" font-size="6.9" font-weight="normal" fill="#000" text-anchor="end" transform="translate(0,-36.974) scale(1,1.07)" stroke="#000" stroke-width="0.15">1.0</text>
<line x1="269.7" y1="497.90" x2="272.9" y2="497.90" stroke="#000" stroke-width="1"/>
<text x="269.10" y="500.30" font-size="6.9" font-weight="normal" fill="#000" text-anchor="end" transform="translate(0,-35.021) scale(1,1.07)" stroke="#000" stroke-width="0.15">1.5</text>
<rect x="280.30" y="525.80" width="10.50" height="55.80" fill="#fff" stroke="#000" stroke-width="1.8"/>
<rect x="299.60" y="546.45" width="10.50" height="35.15" fill="#fff" stroke="#000" stroke-width="1.8"/>
<rect x="318.90" y="539.19" width="10.40" height="42.41" fill="#fff" stroke="#000" stroke-width="1.8"/>
<rect x="338.10" y="569.05" width="10.50" height="12.55" fill="#fff" stroke="#000" stroke-width="1.8"/>
<path d="M304.8,543.10 V547.00 M301.8,543.10 H307.8 M301.8,547.00 H307.8" stroke="#000" stroke-width="0.8" fill="none"/>
<path d="M324.3,530.82 V547.56 M321.3,530.82 H327.3 M321.3,547.56 H327.3" stroke="#000" stroke-width="0.8" fill="none"/>
<path d="M343.4,562.35 V575.46 M340.4,562.35 H346.4 M340.4,575.46 H346.4" stroke="#000" stroke-width="0.8" fill="none"/>
<circle cx="282.6" cy="525.80" r="1.95" fill="#000"/>
<circle cx="285.5" cy="525.80" r="1.95" fill="#000"/>
<circle cx="288.6" cy="525.80" r="1.95" fill="#000"/>
<circle cx="304.8" cy="543.10" r="1.95" fill="#000"/>
<circle cx="302.3" cy="547.00" r="1.95" fill="#000"/>
<circle cx="307.5" cy="547.00" r="1.95" fill="#000"/>
<circle cx="319.7" cy="533.89" r="1.95" fill="#000"/>
<circle cx="329.3" cy="533.89" r="1.95" fill="#000"/>
<circle cx="324.4" cy="548.12" r="1.95" fill="#000"/>
<circle cx="343.9" cy="562.63" r="1.95" fill="#000"/>
<circle cx="343.9" cy="569.05" r="1.95" fill="#000"/>
<circle cx="343.9" cy="574.90" r="1.95" fill="#000"/>
<text x="301.5" y="489.7" font-size="6.8" font-weight="bold"><tspan font-style="italic">P</tspan> = 0.046</text>
<line x1="284.2" y1="492.4" x2="344.4" y2="492.4" stroke="#000" stroke-width="1.1"/>
<text x="287.2" y="501.6" font-size="6.8" font-weight="bold"><tspan font-style="italic">P</tspan> = 0.00026</text>
<line x1="284.2" y1="503.6" x2="324.4" y2="503.6" stroke="#000" stroke-width="1.1"/>
<text x="279.5" y="513.7" font-size="6.8" font-weight="bold"><tspan font-style="italic">P</tspan> = 0.00018</text>
<line x1="284.2" y1="515.9" x2="307.3" y2="515.9" stroke="#000" stroke-width="1.1"/>
<g transform="translate(286.30,589.10) rotate(-45)"><text x="0" y="0" font-size="6.7" text-anchor="end" stroke="#000" stroke-width="0.18">WT</text></g>
<g transform="translate(305.60,589.10) rotate(-45)"><text x="0" y="0" font-size="6.7" text-anchor="end" stroke="#000" stroke-width="0.18">H3K36M</text></g>
<g transform="translate(324.80,589.10) rotate(-45)"><text x="0" y="0" font-size="6.7" text-anchor="end" stroke="#000" stroke-width="0.18">H4K20M</text></g>
<g transform="translate(344.10,589.10) rotate(-45)"><text x="0" y="0" font-size="6.7" text-anchor="end" stroke="#000" stroke-width="0.18">H3K36M H4K20M</text></g>
<g transform="translate(251.7,538.7) rotate(-90)"><text x="0" y="0" font-size="7.2" text-anchor="middle" stroke="#000" stroke-width="0.2">Relative activity</text></g>
<text x="561.00" y="480.50" font-size="8.1" font-weight="bold" fill="#000" text-anchor="start" stroke="#000" stroke-width="0.22" transform="translate(0,-33.635) scale(1,1.07)" >Luminescence quantification</text>
<line x1="583.2" y1="500.50" x2="583.2" y2="574.5" stroke="#000" stroke-width="1.1"/>
<line x1="583.2" y1="574.5" x2="674.4" y2="574.5" stroke="#000" stroke-width="1.1"/>
<line x1="580.0" y1="574.50" x2="583.2" y2="574.50" stroke="#000" stroke-width="1"/>
<text x="579.40" y="576.90" font-size="6.9" font-weight="normal" fill="#000" text-anchor="end" transform="translate(0,-40.383) scale(1,1.07)" stroke="#000" stroke-width="0.15">0.0</text>
<line x1="580.0" y1="550.00" x2="583.2" y2="550.00" stroke="#000" stroke-width="1"/>
<text x="579.40" y="552.40" font-size="6.9" font-weight="normal" fill="#000" text-anchor="end" transform="translate(0,-38.668) scale(1,1.07)" stroke="#000" stroke-width="0.15">0.5</text>
<line x1="580.0" y1="525.50" x2="583.2" y2="525.50" stroke="#000" stroke-width="1"/>
<text x="579.40" y="527.90" font-size="6.9" font-weight="normal" fill="#000" text-anchor="end" transform="translate(0,-36.953) scale(1,1.07)" stroke="#000" stroke-width="0.15">1.0</text>
<line x1="580.0" y1="501.00" x2="583.2" y2="501.00" stroke="#000" stroke-width="1"/>
<text x="579.40" y="503.40" font-size="6.9" font-weight="normal" fill="#000" text-anchor="end" transform="translate(0,-35.238) scale(1,1.07)" stroke="#000" stroke-width="0.15">1.5</text>
<rect x="594.50" y="525.50" width="15.40" height="49.00" fill="#fff" stroke="#000" stroke-width="1.8"/>
<rect x="621.50" y="526.97" width="15.60" height="47.53" fill="#fff" stroke="#000" stroke-width="1.8"/>
<rect x="649.20" y="554.41" width="15.20" height="20.09" fill="#fff" stroke="#000" stroke-width="1.8"/>
<path d="M629.3,516.19 V536.28 M626.3,516.19 H632.3 M626.3,536.28 H632.3" stroke="#000" stroke-width="0.8" fill="none"/>
<path d="M657,540.20 V568.62 M654,540.20 H660 M654,568.62 H660" stroke="#000" stroke-width="0.8" fill="none"/>
<circle cx="597" cy="525.50" r="1.95" fill="#000"/>
<circle cx="602.2" cy="525.50" r="1.95" fill="#000"/>
<circle cx="607.5" cy="525.50" r="1.95" fill="#000"/>
<circle cx="626.7" cy="520.60" r="1.95" fill="#000"/>
<circle cx="632.5" cy="520.60" r="1.95" fill="#000"/>
<circle cx="629.4" cy="537.75" r="1.95" fill="#000"/>
<circle cx="657" cy="540.20" r="1.95" fill="#000"/>
<circle cx="657" cy="553.92" r="1.95" fill="#000"/>
<circle cx="657" cy="568.62" r="1.95" fill="#000"/>
<text x="613.5" y="494.4" font-size="6.8" font-weight="bold"><tspan font-style="italic">P</tspan> = 0.023</text>
<line x1="599.2" y1="497.9" x2="657" y2="497.9" stroke="#000" stroke-width="1.1"/>
<text x="604.7" y="506.7" font-size="6.8" font-weight="bold"><tspan font-style="italic">P</tspan> = 0.85</text>
<line x1="599.2" y1="510.2" x2="630.4" y2="510.2" stroke="#000" stroke-width="1.1"/>
<g transform="translate(602.90,583.80) rotate(-45)"><text x="0" y="0" font-size="6.7" text-anchor="end" stroke="#000" stroke-width="0.18">H4K20M</text></g>
<g transform="translate(628.10,583.80) rotate(-45)"><text x="0" y="0" font-size="6.7" text-anchor="end" stroke="#000" stroke-width="0.18">H4K20M + 1/2X</text></g>
<g transform="translate(633.40,589.10) rotate(-45)"><text x="0" y="0" font-size="6.7" text-anchor="end" stroke="#000" stroke-width="0.18">H3K36M,H4K20M</text></g>
<g transform="translate(655.00,584.20) rotate(-45)"><text x="0" y="0" font-size="6.7" text-anchor="end" stroke="#000" stroke-width="0.18">H4K20M + 1X</text></g>
<g transform="translate(660.30,589.50) rotate(-45)"><text x="0" y="0" font-size="6.7" text-anchor="end" stroke="#000" stroke-width="0.18">H3K36M,H4K20M</text></g>
<g transform="translate(563.4,537.6) rotate(-90)"><text x="0" y="0" font-size="7.2" text-anchor="middle" stroke="#000" stroke-width="0.2">Relative activity</text></g>
<text x="112.10" y="663.90" font-size="8.1" font-weight="bold" fill="#000" text-anchor="middle" stroke="#000" stroke-width="0.22" transform="translate(0,-46.473) scale(1,1.07)" >WT Octamer</text>
<line x1="59.9" y1="668.42" x2="59.9" y2="762.1999999999999" stroke="#000" stroke-width="0.9"/>
<line x1="59.9" y1="762.1999999999999" x2="171.90" y2="762.1999999999999" stroke="#555" stroke-width="1.7"/>
<line x1="57.9" y1="761.40" x2="59.9" y2="761.40" stroke="#000" stroke-width="0.7"/>
<text x="56.90" y="763.30" font-size="5.5" font-weight="bold" fill="#000" text-anchor="end" stroke="#000" stroke-width="0.22" transform="translate(0,-53.431) scale(1,1.07)" >0.0e5</text>
<line x1="57.9" y1="751.18" x2="59.9" y2="751.18" stroke="#000" stroke-width="0.7"/>
<text x="56.90" y="753.08" font-size="5.5" font-weight="bold" fill="#000" text-anchor="end" stroke="#000" stroke-width="0.22" transform="translate(0,-52.716) scale(1,1.07)" >1.0e5</text>
<line x1="57.9" y1="740.96" x2="59.9" y2="740.96" stroke="#000" stroke-width="0.7"/>
<text x="56.90" y="742.86" font-size="5.5" font-weight="bold" fill="#000" text-anchor="end" stroke="#000" stroke-width="0.22" transform="translate(0,-52.000) scale(1,1.07)" >2.0e5</text>
<line x1="57.9" y1="730.74" x2="59.9" y2="730.74" stroke="#000" stroke-width="0.7"/>
<text x="56.90" y="732.64" font-size="5.5" font-weight="bold" fill="#000" text-anchor="end" stroke="#000" stroke-width="0.22" transform="translate(0,-51.285) scale(1,1.07)" >3.0e5</text>
<line x1="57.9" y1="720.52" x2="59.9" y2="720.52" stroke="#000" stroke-width="0.7"/>
<text x="56.90" y="722.42" font-size="5.5" font-weight="bold" fill="#000" text-anchor="end" stroke="#000" stroke-width="0.22" transform="translate(0,-50.569) scale(1,1.07)" >4.0e5</text>
<line x1="57.9" y1="710.30" x2="59.9" y2="710.30" stroke="#000" stroke-width="0.7"/>
<text x="56.90" y="712.20" font-size="5.5" font-weight="bold" fill="#000" text-anchor="end" stroke="#000" stroke-width="0.22" transform="translate(0,-49.854) scale(1,1.07)" >5.0e5</text>
<line x1="57.9" y1="700.08" x2="59.9" y2="700.08" stroke="#000" stroke-width="0.7"/>
<text x="56.90" y="701.98" font-size="5.5" font-weight="bold" fill="#000" text-anchor="end" stroke="#000" stroke-width="0.22" transform="translate(0,-49.139) scale(1,1.07)" >6.0e5</text>
<line x1="57.9" y1="689.86" x2="59.9" y2="689.86" stroke="#000" stroke-width="0.7"/>
<text x="56.90" y="691.76" font-size="5.5" font-weight="bold" fill="#000" text-anchor="end" stroke="#000" stroke-width="0.22" transform="translate(0,-48.423) scale(1,1.07)" >7.0e5</text>
<line x1="57.9" y1="679.64" x2="59.9" y2="679.64" stroke="#000" stroke-width="0.7"/>
<text x="56.90" y="681.54" font-size="5.5" font-weight="bold" fill="#000" text-anchor="end" stroke="#000" stroke-width="0.22" transform="translate(0,-47.708) scale(1,1.07)" >8.0e5</text>
<line x1="57.9" y1="669.42" x2="59.9" y2="669.42" stroke="#000" stroke-width="0.7"/>
<text x="56.90" y="671.32" font-size="5.5" font-weight="bold" fill="#000" text-anchor="end" stroke="#000" stroke-width="0.22" transform="translate(0,-46.992) scale(1,1.07)" >9.0e5</text>
<line x1="59.90" y1="762.0" x2="59.90" y2="763.6" stroke="#000" stroke-width="0.6"/>
<line x1="65.50" y1="762.0" x2="65.50" y2="763.6" stroke="#000" stroke-width="0.6"/>
<line x1="71.10" y1="762.0" x2="71.10" y2="763.6" stroke="#000" stroke-width="0.6"/>
<line x1="76.70" y1="762.0" x2="76.70" y2="763.6" stroke="#000" stroke-width="0.6"/>
<line x1="82.30" y1="762.0" x2="82.30" y2="763.6" stroke="#000" stroke-width="0.6"/>
<line x1="87.90" y1="762.0" x2="87.90" y2="763.6" stroke="#000" stroke-width="0.6"/>
<line x1="93.50" y1="762.0" x2="93.50" y2="763.6" stroke="#000" stroke-width="0.6"/>
<line x1="99.10" y1="762.0" x2="99.10" y2="763.6" stroke="#000" stroke-width="0.6"/>
<line x1="104.70" y1="762.0" x2="104.70" y2="763.6" stroke="#000" stroke-width="0.6"/>
<line x1="110.30" y1="762.0" x2="110.30" y2="763.6" stroke="#000" stroke-width="0.6"/>
<line x1="115.90" y1="762.0" x2="115.90" y2="763.6" stroke="#000" stroke-width="0.6"/>
<line x1="121.50" y1="762.0" x2="121.50" y2="763.6" stroke="#000" stroke-width="0.6"/>
<line x1="127.10" y1="762.0" x2="127.10" y2="763.6" stroke="#000" stroke-width="0.6"/>
<line x1="132.70" y1="762.0" x2="132.70" y2="763.6" stroke="#000" stroke-width="0.6"/>
<line x1="138.30" y1="762.0" x2="138.30" y2="763.6" stroke="#000" stroke-width="0.6"/>
<line x1="143.90" y1="762.0" x2="143.90" y2="763.6" stroke="#000" stroke-width="0.6"/>
<line x1="149.50" y1="762.0" x2="149.50" y2="763.6" stroke="#000" stroke-width="0.6"/>
<line x1="155.10" y1="762.0" x2="155.10" y2="763.6" stroke="#000" stroke-width="0.6"/>
<line x1="160.70" y1="762.0" x2="160.70" y2="763.6" stroke="#000" stroke-width="0.6"/>
<line x1="166.30" y1="762.0" x2="166.30" y2="763.6" stroke="#000" stroke-width="0.6"/>
<line x1="171.90" y1="762.0" x2="171.90" y2="763.6" stroke="#000" stroke-width="0.6"/>
<text x="59.90" y="769.20" font-size="5.6" font-weight="bold" fill="#000" text-anchor="middle" stroke="#000" stroke-width="0.22" transform="translate(0,-53.844) scale(1,1.07)" >1500</text>
<text x="87.90" y="769.20" font-size="5.6" font-weight="bold" fill="#000" text-anchor="middle" stroke="#000" stroke-width="0.22" transform="translate(0,-53.844) scale(1,1.07)" >15150</text>
<text x="115.90" y="769.20" font-size="5.6" font-weight="bold" fill="#000" text-anchor="middle" stroke="#000" stroke-width="0.22" transform="translate(0,-53.844) scale(1,1.07)" >15200</text>
<text x="143.90" y="769.20" font-size="5.6" font-weight="bold" fill="#000" text-anchor="middle" stroke="#000" stroke-width="0.22" transform="translate(0,-53.844) scale(1,1.07)" >15250</text>
<text x="171.90" y="769.20" font-size="5.6" font-weight="bold" fill="#000" text-anchor="middle" stroke="#000" stroke-width="0.22" transform="translate(0,-53.844) scale(1,1.07)" >15300</text>
<text x="180.50" y="769.20" font-size="6" font-weight="bold" fill="#000" text-anchor="start" stroke="#000" stroke-width="0.22" transform="translate(0,-53.844) scale(1,1.07)" >Da</text>
<g transform="translate(37.3,708.5) rotate(-90)"><text x="0" y="0" font-size="6.1" font-weight="bold" text-anchor="middle" stroke="#000" stroke-width="0.2">Intensity</text></g>
<path d="M59.90,760.09 L60.18,759.84 L60.46,759.76 L60.74,759.78 L61.02,759.62 L61.30,759.56 L61.58,759.47 L61.86,759.44 L62.14,759.66 L62.42,759.76 L62.70,759.68 L62.98,759.92 L63.26,759.99 L63.54,760.32 L63.82,760.33 L64.10,760.35 L64.38,760.51 L64.66,760.34 L64.94,760.33 L65.22,760.49 L65.50,760.42 L65.78,760.24 L66.06,760.09 L66.34,760.20 L66.62,760.25 L66.90,760.23 L67.18,760.38 L67.46,760.40 L67.74,760.42 L68.02,760.46 L68.30,760.55 L68.58,760.54 L68.86,760.50 L69.14,760.35 L69.42,760.27 L69.70,760.20 L69.98,759.84 L70.26,759.77 L70.54,759.63 L70.82,759.65 L71.10,759.41 L71.38,759.44 L71.66,759.66 L71.94,759.68 L72.22,759.67 L72.50,759.77 L72.78,759.81 L73.06,760.01 L73.34,759.95 L73.62,760.01 L73.90,760.08 L74.18,759.98 L74.46,759.86 L74.74,759.82 L75.02,759.88 L75.30,759.86 L75.58,760.02 L75.86,760.04 L76.14,760.00 L76.42,760.21 L76.70,760.39 L76.98,760.42 L77.26,760.49 L77.54,760.56 L77.82,760.65 L78.10,760.61 L78.38,760.51 L78.66,760.33 L78.94,760.24 L79.22,760.10 L79.50,759.90 L79.78,759.85 L80.06,759.70 L80.34,759.42 L80.62,759.26 L80.90,759.28 L81.18,759.27 L81.46,759.27 L81.74,759.13 L82.02,758.93 L82.30,758.87 L82.58,758.78 L82.86,758.54 L83.14,758.50 L83.42,758.24 L83.70,757.95 L83.98,757.88 L84.26,757.79 L84.54,757.77 L84.82,757.70 L85.10,757.66 L85.38,758.00 L85.66,757.97 L85.94,758.16 L86.22,758.35 L86.50,758.60 L86.78,758.77 L87.06,759.01 L87.34,759.13 L87.62,759.26 L87.90,759.42 L88.18,759.27 L88.46,759.38 L88.74,759.52 L89.02,759.50 L89.30,759.58 L89.58,759.71 L89.86,759.83 L90.14,759.91 L90.42,760.01 L90.70,760.13 L90.98,760.25 L91.26,760.41 L91.54,760.37 L91.82,760.35 L92.10,760.17 L92.38,759.99 L92.66,759.87 L92.94,759.73 L93.22,759.60 L93.50,759.64 L93.78,759.43 L94.06,759.45 L94.34,759.62 L94.62,759.70 L94.90,759.78 L95.18,759.70 L95.46,759.93 L95.74,760.06 L96.02,760.00 L96.30,760.10 L96.58,760.17 L96.86,760.13 L97.14,760.00 L97.42,760.05 L97.70,759.98 L97.98,759.86 L98.26,759.93 L98.54,760.01 L98.82,760.05 L99.10,760.26 L99.38,760.29 L99.66,760.41 L99.94,760.58 L100.22,760.67 L100.50,760.52 L100.78,760.60 L101.06,760.60 L101.34,760.38 L101.62,760.16 L101.90,760.15 L102.18,759.92 L102.46,759.66 L102.74,759.30 L103.02,759.24 L103.30,758.95 L103.58,758.83 L103.86,758.79 L104.14,758.84 L104.42,758.65 L104.70,758.71 L104.98,758.82 L105.26,758.93 L105.54,758.87 L105.82,758.96 L106.10,758.95 L106.38,759.03 L106.66,758.99 L106.94,759.16 L107.22,759.15 L107.50,759.04 L107.78,759.12 L108.06,759.30 L108.34,759.15 L108.62,759.17 L108.90,758.73 L109.18,758.22 L109.46,757.37 L109.74,755.99 L110.02,753.98 L110.30,750.92 L110.58,747.39 L110.86,742.48 L111.14,736.72 L111.42,730.15 L111.70,722.80 L111.98,714.67 L112.26,706.54 L112.54,698.83 L112.82,691.90 L113.10,686.26 L113.38,682.31 L113.66,680.42 L113.94,680.56 L114.22,683.02 L114.50,687.42 L114.78,693.39 L115.06,700.35 L115.34,708.20 L115.62,716.09 L115.90,723.83 L116.18,730.82 L116.46,737.13 L116.74,742.75 L117.02,747.17 L117.30,750.71 L117.58,753.31 L117.86,755.44 L118.14,757.07 L118.42,758.17 L118.70,758.79 L118.98,759.21 L119.26,759.46 L119.54,759.74 L119.82,759.65 L120.10,759.67 L120.38,759.67 L120.66,759.48 L120.94,759.61 L121.22,759.46 L121.50,759.61 L121.78,759.60 L122.06,759.45 L122.34,759.66 L122.62,759.56 L122.90,759.61 L123.18,759.53 L123.46,759.58 L123.74,759.47 L124.02,759.32 L124.30,758.98 L124.58,758.83 L124.86,758.51 L125.14,758.30 L125.42,758.29 L125.70,758.02 L125.98,758.02 L126.26,757.96 L126.54,757.93 L126.82,757.75 L127.10,757.81 L127.38,757.85 L127.66,758.03 L127.94,758.01 L128.22,758.00 L128.50,758.11 L128.78,758.06 L129.06,758.14 L129.34,758.17 L129.62,758.14 L129.90,758.03 L130.18,758.19 L130.46,758.23 L130.74,758.51 L131.02,758.76 L131.30,758.87 L131.58,759.10 L131.86,759.54 L132.14,759.60 L132.42,759.94 L132.70,760.07 L132.98,759.98 L133.26,760.24 L133.54,760.19 L133.82,759.98 L134.10,760.07 L134.38,760.09 L134.66,760.02 L134.94,759.96 L135.22,759.81 L135.50,759.94 L135.78,759.73 L136.06,759.85 L136.34,759.67 L136.62,759.63 L136.90,759.71 L137.18,759.61 L137.46,759.41 L137.74,759.35 L138.02,759.05 L138.30,759.05 L138.58,758.93 L138.86,758.60 L139.14,758.72 L139.42,758.66 L139.70,758.77 L139.98,758.93 L140.26,759.15 L140.54,759.13 L140.82,759.31 L141.10,759.50 L141.38,759.88 L141.66,759.98 L141.94,759.97 L142.22,759.93 L142.50,760.05 L142.78,760.00 L143.06,759.97 L143.34,760.04 L143.62,759.95 L143.90,760.01 L144.18,760.07 L144.46,760.17 L144.74,760.22 L145.02,760.16 L145.30,760.42 L145.58,760.48 L145.86,760.57 L146.14,760.55 L146.42,760.70 L146.70,760.69 L146.98,760.61 L147.26,760.50 L147.54,760.24 L147.82,760.08 L148.10,760.10 L148.38,759.98 L148.66,759.84 L148.94,759.79 L149.22,759.78 L149.50,759.89 L149.78,759.98 L150.06,759.98 L150.34,760.07 L150.62,759.98 L150.90,760.11 L151.18,760.08 L151.46,759.89 L151.74,759.90 L152.02,759.69 L152.30,759.68 L152.58,759.52 L152.86,759.66 L153.14,759.57 L153.42,759.54 L153.70,759.80 L153.98,759.71 L154.26,760.04 L154.54,760.05 L154.82,760.14 L155.10,760.31 L155.38,760.53 L155.66,760.63 L155.94,760.54 L156.22,760.42 L156.50,760.51 L156.78,760.29 L157.06,760.40 L157.34,760.14 L157.62,760.30 L157.90,760.20 L158.18,760.06 L158.46,760.12 L158.74,760.14 L159.02,760.21 L159.30,760.28 L159.58,760.33 L159.86,760.45 L160.14,760.35 L160.42,760.35 L160.70,760.10 L160.98,759.98 L161.26,759.94 L161.54,759.85 L161.82,759.51 L162.10,759.46 L162.38,759.47 L162.66,759.47 L162.94,759.43 L163.22,759.61 L163.50,759.73 L163.78,759.86 L164.06,759.99 L164.34,760.14 L164.62,760.06 L164.90,760.16 L165.18,760.13 L165.46,760.23 L165.74,760.12 L166.02,760.13 L166.30,760.10 L166.58,760.05 L166.86,759.93 L167.14,760.08 L167.42,760.15 L167.70,760.20 L167.98,760.41 L168.26,760.58 L168.54,760.55 L168.82,760.63 L169.10,760.63 L169.38,760.67 L169.66,760.56 L169.94,760.45 L170.22,760.45 L170.50,760.24 L170.78,760.10 L171.06,760.04 L171.34,759.89 L171.62,759.79 L171.90,759.67" fill="none" stroke="#5050E0" stroke-width="0.9"/>
<text x="116.10" y="682.60" font-size="6.5" font-weight="bold" fill="#000" text-anchor="start" stroke="#000" stroke-width="0.22" transform="translate(0,-47.782) scale(1,1.07)" >15196.2</text>
<text x="279.00" y="663.90" font-size="8.1" font-weight="bold" fill="#000" text-anchor="middle" stroke="#000" stroke-width="0.22" transform="translate(0,-46.473) scale(1,1.07)" >WT Octamer + SMYD5</text>
<line x1="224.5" y1="670.76" x2="224.5" y2="762.1999999999999" stroke="#000" stroke-width="0.9"/>
<line x1="224.5" y1="762.1999999999999" x2="331.70" y2="762.1999999999999" stroke="#555" stroke-width="1.7"/>
<line x1="222.5" y1="761.40" x2="224.5" y2="761.40" stroke="#000" stroke-width="0.7"/>
<text x="221.50" y="763.30" font-size="5.5" font-weight="bold" fill="#000" text-anchor="end" stroke="#000" stroke-width="0.22" transform="translate(0,-53.431) scale(1,1.07)" >0.0e5</text>
<line x1="222.5" y1="751.44" x2="224.5" y2="751.44" stroke="#000" stroke-width="0.7"/>
<text x="221.50" y="753.34" font-size="5.5" font-weight="bold" fill="#000" text-anchor="end" stroke="#000" stroke-width="0.22" transform="translate(0,-52.734) scale(1,1.07)" >1.0e5</text>
<line x1="222.5" y1="741.48" x2="224.5" y2="741.48" stroke="#000" stroke-width="0.7"/>
<text x="221.50" y="743.38" font-size="5.5" font-weight="bold" fill="#000" text-anchor="end" stroke="#000" stroke-width="0.22" transform="translate(0,-52.037) scale(1,1.07)" >2.0e5</text>
<line x1="222.5" y1="731.52" x2="224.5" y2="731.52" stroke="#000" stroke-width="0.7"/>
<text x="221.50" y="733.42" font-size="5.5" font-weight="bold" fill="#000" text-anchor="end" stroke="#000" stroke-width="0.22" transform="translate(0,-51.339) scale(1,1.07)" >3.0e5</text>
<line x1="222.5" y1="721.56" x2="224.5" y2="721.56" stroke="#000" stroke-width="0.7"/>
<text x="221.50" y="723.46" font-size="5.5" font-weight="bold" fill="#000" text-anchor="end" stroke="#000" stroke-width="0.22" transform="translate(0,-50.642) scale(1,1.07)" >4.0e5</text>
<line x1="222.5" y1="711.60" x2="224.5" y2="711.60" stroke="#000" stroke-width="0.7"/>
<text x="221.50" y="713.50" font-size="5.5" font-weight="bold" fill="#000" text-anchor="end" stroke="#000" stroke-width="0.22" transform="translate(0,-49.945) scale(1,1.07)" >5.0e5</text>
<line x1="222.5" y1="701.64" x2="224.5" y2="701.64" stroke="#000" stroke-width="0.7"/>
<text x="221.50" y="703.54" font-size="5.5" font-weight="bold" fill="#000" text-anchor="end" stroke="#000" stroke-width="0.22" transform="translate(0,-49.248) scale(1,1.07)" >6.0e5</text>
<line x1="222.5" y1="691.68" x2="224.5" y2="691.68" stroke="#000" stroke-width="0.7"/>
<text x="221.50" y="693.58" font-size="5.5" font-weight="bold" fill="#000" text-anchor="end" stroke="#000" stroke-width="0.22" transform="translate(0,-48.551) scale(1,1.07)" >7.0e5</text>
<line x1="222.5" y1="681.72" x2="224.5" y2="681.72" stroke="#000" stroke-width="0.7"/>
<text x="221.50" y="683.62" font-size="5.5" font-weight="bold" fill="#000" text-anchor="end" stroke="#000" stroke-width="0.22" transform="translate(0,-47.853) scale(1,1.07)" >8.0e5</text>
<line x1="222.5" y1="671.76" x2="224.5" y2="671.76" stroke="#000" stroke-width="0.7"/>
<text x="221.50" y="673.66" font-size="5.5" font-weight="bold" fill="#000" text-anchor="end" stroke="#000" stroke-width="0.22" transform="translate(0,-47.156) scale(1,1.07)" >9.0e5</text>
<line x1="224.50" y1="762.0" x2="224.50" y2="763.6" stroke="#000" stroke-width="0.6"/>
<line x1="229.86" y1="762.0" x2="229.86" y2="763.6" stroke="#000" stroke-width="0.6"/>
<line x1="235.22" y1="762.0" x2="235.22" y2="763.6" stroke="#000" stroke-width="0.6"/>
<line x1="240.58" y1="762.0" x2="240.58" y2="763.6" stroke="#000" stroke-width="0.6"/>
<line x1="245.94" y1="762.0" x2="245.94" y2="763.6" stroke="#000" stroke-width="0.6"/>
<line x1="251.30" y1="762.0" x2="251.30" y2="763.6" stroke="#000" stroke-width="0.6"/>
<line x1="256.66" y1="762.0" x2="256.66" y2="763.6" stroke="#000" stroke-width="0.6"/>
<line x1="262.02" y1="762.0" x2="262.02" y2="763.6" stroke="#000" stroke-width="0.6"/>
<line x1="267.38" y1="762.0" x2="267.38" y2="763.6" stroke="#000" stroke-width="0.6"/>
<line x1="272.74" y1="762.0" x2="272.74" y2="763.6" stroke="#000" stroke-width="0.6"/>
<line x1="278.10" y1="762.0" x2="278.10" y2="763.6" stroke="#000" stroke-width="0.6"/>
<line x1="283.46" y1="762.0" x2="283.46" y2="763.6" stroke="#000" stroke-width="0.6"/>
<line x1="288.82" y1="762.0" x2="288.82" y2="763.6" stroke="#000" stroke-width="0.6"/>
<line x1="294.18" y1="762.0" x2="294.18" y2="763.6" stroke="#000" stroke-width="0.6"/>
<line x1="299.54" y1="762.0" x2="299.54" y2="763.6" stroke="#000" stroke-width="0.6"/>
<line x1="304.90" y1="762.0" x2="304.90" y2="763.6" stroke="#000" stroke-width="0.6"/>
<line x1="310.26" y1="762.0" x2="310.26" y2="763.6" stroke="#000" stroke-width="0.6"/>
<line x1="315.62" y1="762.0" x2="315.62" y2="763.6" stroke="#000" stroke-width="0.6"/>
<line x1="320.98" y1="762.0" x2="320.98" y2="763.6" stroke="#000" stroke-width="0.6"/>
<line x1="326.34" y1="762.0" x2="326.34" y2="763.6" stroke="#000" stroke-width="0.6"/>
<line x1="331.70" y1="762.0" x2="331.70" y2="763.6" stroke="#000" stroke-width="0.6"/>
<text x="224.50" y="769.20" font-size="5.6" font-weight="bold" fill="#000" text-anchor="middle" stroke="#000" stroke-width="0.22" transform="translate(0,-53.844) scale(1,1.07)" >1500</text>
<text x="251.30" y="769.20" font-size="5.6" font-weight="bold" fill="#000" text-anchor="middle" stroke="#000" stroke-width="0.22" transform="translate(0,-53.844) scale(1,1.07)" >15150</text>
<text x="278.10" y="769.20" font-size="5.6" font-weight="bold" fill="#000" text-anchor="middle" stroke="#000" stroke-width="0.22" transform="translate(0,-53.844) scale(1,1.07)" >15200</text>
<text x="304.90" y="769.20" font-size="5.6" font-weight="bold" fill="#000" text-anchor="middle" stroke="#000" stroke-width="0.22" transform="translate(0,-53.844) scale(1,1.07)" >15250</text>
<text x="331.70" y="769.20" font-size="5.6" font-weight="bold" fill="#000" text-anchor="middle" stroke="#000" stroke-width="0.22" transform="translate(0,-53.844) scale(1,1.07)" >15300</text>
<text x="342.10" y="769.20" font-size="6" font-weight="bold" fill="#000" text-anchor="start" stroke="#000" stroke-width="0.22" transform="translate(0,-53.844) scale(1,1.07)" >Da</text>
<g transform="translate(201.9,708.5) rotate(-90)"><text x="0" y="0" font-size="6.1" font-weight="bold" text-anchor="middle" stroke="#000" stroke-width="0.2">Intensity</text></g>
<path d="M224.50,759.50 L224.77,759.48 L225.04,759.71 L225.30,759.77 L225.57,759.68 L225.84,759.84 L226.11,760.00 L226.38,760.23 L226.64,760.30 L226.91,760.40 L227.18,760.48 L227.45,760.62 L227.72,760.54 L227.98,760.51 L228.25,760.37 L228.52,760.24 L228.79,760.18 L229.06,760.22 L229.32,760.22 L229.59,760.26 L229.86,760.34 L230.13,760.39 L230.40,760.34 L230.66,760.43 L230.93,760.46 L231.20,760.35 L231.47,760.42 L231.74,760.36 L232.00,760.34 L232.27,760.27 L232.54,760.06 L232.81,759.96 L233.08,759.74 L233.34,759.52 L233.61,759.52 L233.88,759.61 L234.15,759.46 L234.42,759.54 L234.68,759.64 L234.95,759.70 L235.22,759.84 L235.49,759.93 L235.76,760.11 L236.02,760.00 L236.29,760.02 L236.56,760.20 L236.83,760.03 L237.10,760.00 L237.36,760.02 L237.63,759.98 L237.90,759.99 L238.17,759.92 L238.44,760.09 L238.70,760.11 L238.97,760.34 L239.24,760.33 L239.51,760.44 L239.78,760.63 L240.04,760.67 L240.31,760.60 L240.58,760.61 L240.85,760.60 L241.12,760.56 L241.38,760.40 L241.65,760.18 L241.92,760.18 L242.19,759.89 L242.46,759.97 L242.72,759.77 L242.99,759.90 L243.26,759.77 L243.53,759.87 L243.80,759.97 L244.06,760.01 L244.33,760.00 L244.60,760.02 L244.87,760.06 L245.14,760.03 L245.40,759.89 L245.67,759.70 L245.94,759.69 L246.21,759.75 L246.48,759.53 L246.74,759.55 L247.01,759.55 L247.28,759.80 L247.55,759.78 L247.82,760.08 L248.08,760.09 L248.35,760.33 L248.62,760.46 L248.89,760.40 L249.16,760.64 L249.42,760.55 L249.69,760.45 L249.96,760.54 L250.23,760.48 L250.50,760.24 L250.76,760.28 L251.03,760.16 L251.30,760.31 L251.57,760.23 L251.84,760.31 L252.10,760.24 L252.37,760.44 L252.64,760.28 L252.91,760.53 L253.18,760.36 L253.44,760.50 L253.71,760.37 L253.98,760.13 L254.25,760.16 L254.52,760.01 L254.78,759.75 L255.05,759.70 L255.32,759.70 L255.59,759.42 L255.86,759.61 L256.12,759.68 L256.39,759.68 L256.66,759.71 L256.93,759.79 L257.20,760.05 L257.46,760.09 L257.73,760.23 L258.00,760.16 L258.27,760.09 L258.54,760.08 L258.80,760.01 L259.07,760.00 L259.34,759.94 L259.61,759.96 L259.88,760.03 L260.14,760.14 L260.41,760.11 L260.68,760.29 L260.95,760.45 L261.22,760.47 L261.48,760.45 L261.75,760.66 L262.02,760.52 L262.29,760.43 L262.56,760.16 L262.82,759.87 L263.09,759.18 L263.36,758.75 L263.63,758.01 L263.90,757.41 L264.16,756.96 L264.43,756.47 L264.70,756.43 L264.97,756.56 L265.24,756.90 L265.50,757.36 L265.77,757.95 L266.04,758.38 L266.31,758.90 L266.58,759.16 L266.84,759.42 L267.11,759.54 L267.38,759.77 L267.65,759.71 L267.92,759.72 L268.18,759.60 L268.45,759.57 L268.72,759.53 L268.99,759.58 L269.26,759.72 L269.52,759.68 L269.79,759.58 L270.06,759.52 L270.33,759.17 L270.60,758.55 L270.86,757.90 L271.13,756.90 L271.40,756.12 L271.67,755.35 L271.94,754.73 L272.20,754.41 L272.47,754.42 L272.74,754.56 L273.01,754.78 L273.28,754.66 L273.54,753.57 L273.81,751.22 L274.08,746.55 L274.35,739.52 L274.62,729.91 L274.88,718.11 L275.15,705.18 L275.42,692.93 L275.69,683.54 L275.96,678.42 L276.22,678.83 L276.49,684.73 L276.76,694.80 L277.03,707.09 L277.30,720.09 L277.56,731.78 L277.83,741.25 L278.10,748.45 L278.37,753.39 L278.64,756.30 L278.90,758.26 L279.17,759.35 L279.44,759.72 L279.71,760.12 L279.98,760.18 L280.24,760.08 L280.51,760.10 L280.78,760.20 L281.05,760.02 L281.32,759.91 L281.58,759.69 L281.85,759.42 L282.12,758.81 L282.39,758.18 L282.66,757.19 L282.92,756.15 L283.19,755.15 L283.46,754.84 L283.73,754.68 L284.00,755.33 L284.26,756.13 L284.53,757.21 L284.80,758.16 L285.07,758.85 L285.34,759.42 L285.60,759.75 L285.87,759.85 L286.14,759.89 L286.41,759.70 L286.68,759.76 L286.94,759.71 L287.21,759.81 L287.48,760.03 L287.75,759.93 L288.02,759.94 L288.28,759.97 L288.55,760.00 L288.82,759.98 L289.09,759.84 L289.36,759.54 L289.62,759.27 L289.89,758.54 L290.16,757.56 L290.43,756.21 L290.70,755.08 L290.96,754.32 L291.23,754.38 L291.50,755.32 L291.77,756.64 L292.04,757.97 L292.30,759.18 L292.57,759.91 L292.84,760.27 L293.11,760.40 L293.38,760.52 L293.64,760.43 L293.91,760.54 L294.18,760.39 L294.45,760.16 L294.72,760.30 L294.98,760.20 L295.25,760.28 L295.52,760.29 L295.79,760.13 L296.06,760.15 L296.32,760.24 L296.59,760.27 L296.86,759.92 L297.13,759.18 L297.40,757.63 L297.66,755.36 L297.93,752.52 L298.20,749.61 L298.47,747.75 L298.74,747.35 L299.00,748.70 L299.27,751.33 L299.54,754.32 L299.81,756.58 L300.08,758.14 L300.34,759.19 L300.61,759.54 L300.88,759.91 L301.15,760.00 L301.42,760.17 L301.68,760.08 L301.95,760.14 L302.22,760.18 L302.49,760.25 L302.76,760.14 L303.02,760.20 L303.29,760.04 L303.56,759.98 L303.83,760.18 L304.10,760.17 L304.36,760.26 L304.63,760.38 L304.90,760.42 L305.17,760.46 L305.44,760.59 L305.70,760.68 L305.97,760.56 L306.24,760.66 L306.51,760.47 L306.78,760.37 L307.04,760.20 L307.31,760.04 L307.58,760.06 L307.85,759.86 L308.12,759.84 L308.38,759.74 L308.65,759.67 L308.92,759.78 L309.19,759.98 L309.46,759.93 L309.72,759.92 L309.99,759.91 L310.26,759.98 L310.53,759.92 L310.80,760.06 L311.06,759.78 L311.33,759.76 L311.60,759.72 L311.87,759.59 L312.14,759.57 L312.40,759.77 L312.67,759.66 L312.94,759.76 L313.21,760.02 L313.48,760.03 L313.74,760.22 L314.01,760.45 L314.28,760.42 L314.55,760.66 L314.82,760.59 L315.08,760.62 L315.35,760.63 L315.62,760.48 L315.89,760.42 L316.16,760.39 L316.42,760.13 L316.69,760.29 L316.96,760.28 L317.23,760.16 L317.50,760.10 L317.76,760.19 L318.03,760.21 L318.30,760.32 L318.57,760.29 L318.84,760.37 L319.10,760.34 L319.37,760.21 L319.64,760.22 L319.91,760.08 L320.18,759.78 L320.44,759.79 L320.71,759.55 L320.98,759.47 L321.25,759.53 L321.52,759.48 L321.78,759.52 L322.05,759.59 L322.32,759.88 L322.59,759.99 L322.86,760.06 L323.12,760.14 L323.39,760.25 L323.66,760.35 L323.93,760.22 L324.20,760.11 L324.46,760.21 L324.73,760.13 L325.00,760.13 L325.27,760.10 L325.54,760.01 L325.80,760.19 L326.07,760.18 L326.34,760.31 L326.61,760.40 L326.88,760.41 L327.14,760.70 L327.41,760.57 L327.68,760.71 L327.95,760.60 L328.22,760.50 L328.48,760.42 L328.75,760.35 L329.02,760.10 L329.29,760.14 L329.56,759.89 L329.82,759.85 L330.09,759.76 L330.36,759.66 L330.63,759.69 L330.90,759.78 L331.16,759.91 L331.43,759.99 L331.70,759.98" fill="none" stroke="#5050E0" stroke-width="0.9"/>
<text x="280.90" y="679.20" font-size="6.5" font-weight="bold" fill="#000" text-anchor="start" stroke="#000" stroke-width="0.22" transform="translate(0,-47.544) scale(1,1.07)" >15196.2</text>
<text x="286.40" y="687.60" font-size="6.5" font-weight="bold" fill="#000" text-anchor="start" stroke="#000" stroke-width="0.22" transform="translate(0,-48.132) scale(1,1.07)" >me0</text>
<text x="279.80" y="727.20" font-size="6.5" font-weight="bold" fill="#000" text-anchor="start" stroke="#000" stroke-width="0.22" transform="translate(0,-50.904) scale(1,1.07)" >15224.3</text>
<text x="285.10" y="735.60" font-size="6.5" font-weight="bold" fill="#000" text-anchor="start" stroke="#000" stroke-width="0.22" transform="translate(0,-51.492) scale(1,1.07)" >me2</text>
<text x="260.60" y="742.70" font-size="6.5" font-weight="bold" fill="#000" text-anchor="start" stroke="#000" stroke-width="0.22" transform="translate(0,-51.989) scale(1,1.07)" >15210.3</text>
<text x="265.90" y="750.90" font-size="6.5" font-weight="bold" fill="#000" text-anchor="start" stroke="#000" stroke-width="0.22" transform="translate(0,-52.563) scale(1,1.07)" >me1</text>
<text x="300.10" y="743.00" font-size="6.5" font-weight="bold" fill="#000" text-anchor="start" stroke="#000" stroke-width="0.22" transform="translate(0,-52.010) scale(1,1.07)" >15238.3</text>
<text x="305.30" y="750.90" font-size="6.5" font-weight="bold" fill="#000" text-anchor="start" stroke="#000" stroke-width="0.22" transform="translate(0,-52.563) scale(1,1.07)" >me3</text>
<line x1="291.6" y1="738.3" x2="291.6" y2="752.7" stroke="#000" stroke-width="0.6"/>
<line x1="281.5" y1="749.8" x2="284.3" y2="752.7" stroke="#000" stroke-width="0.6"/>
<line x1="300.4" y1="750.5" x2="302.8" y2="749" stroke="#000" stroke-width="0.6"/>
<text x="445.50" y="663.90" font-size="8.1" font-weight="bold" fill="#000" text-anchor="middle" stroke="#000" stroke-width="0.22" transform="translate(0,-46.473) scale(1,1.07)" >H3K36M Octamer</text>
<line x1="390.9" y1="668.42" x2="390.9" y2="762.1999999999999" stroke="#000" stroke-width="0.9"/>
<line x1="390.9" y1="762.1999999999999" x2="501.60" y2="762.1999999999999" stroke="#555" stroke-width="1.7"/>
<line x1="388.9" y1="761.40" x2="390.9" y2="761.40" stroke="#000" stroke-width="0.7"/>
<text x="387.90" y="763.30" font-size="5.5" font-weight="bold" fill="#000" text-anchor="end" stroke="#000" stroke-width="0.22" transform="translate(0,-53.431) scale(1,1.07)" >0.0e5</text>
<line x1="388.9" y1="751.18" x2="390.9" y2="751.18" stroke="#000" stroke-width="0.7"/>
<text x="387.90" y="753.08" font-size="5.5" font-weight="bold" fill="#000" text-anchor="end" stroke="#000" stroke-width="0.22" transform="translate(0,-52.716) scale(1,1.07)" >1.0e5</text>
<line x1="388.9" y1="740.96" x2="390.9" y2="740.96" stroke="#000" stroke-width="0.7"/>
<text x="387.90" y="742.86" font-size="5.5" font-weight="bold" fill="#000" text-anchor="end" stroke="#000" stroke-width="0.22" transform="translate(0,-52.000) scale(1,1.07)" >2.0e5</text>
<line x1="388.9" y1="730.74" x2="390.9" y2="730.74" stroke="#000" stroke-width="0.7"/>
<text x="387.90" y="732.64" font-size="5.5" font-weight="bold" fill="#000" text-anchor="end" stroke="#000" stroke-width="0.22" transform="translate(0,-51.285) scale(1,1.07)" >3.0e5</text>
<line x1="388.9" y1="720.52" x2="390.9" y2="720.52" stroke="#000" stroke-width="0.7"/>
<text x="387.90" y="722.42" font-size="5.5" font-weight="bold" fill="#000" text-anchor="end" stroke="#000" stroke-width="0.22" transform="translate(0,-50.569) scale(1,1.07)" >4.0e5</text>
<line x1="388.9" y1="710.30" x2="390.9" y2="710.30" stroke="#000" stroke-width="0.7"/>
<text x="387.90" y="712.20" font-size="5.5" font-weight="bold" fill="#000" text-anchor="end" stroke="#000" stroke-width="0.22" transform="translate(0,-49.854) scale(1,1.07)" >5.0e5</text>
<line x1="388.9" y1="700.08" x2="390.9" y2="700.08" stroke="#000" stroke-width="0.7"/>
<text x="387.90" y="701.98" font-size="5.5" font-weight="bold" fill="#000" text-anchor="end" stroke="#000" stroke-width="0.22" transform="translate(0,-49.139) scale(1,1.07)" >6.0e5</text>
<line x1="388.9" y1="689.86" x2="390.9" y2="689.86" stroke="#000" stroke-width="0.7"/>
<text x="387.90" y="691.76" font-size="5.5" font-weight="bold" fill="#000" text-anchor="end" stroke="#000" stroke-width="0.22" transform="translate(0,-48.423) scale(1,1.07)" >7.0e5</text>
<line x1="388.9" y1="679.64" x2="390.9" y2="679.64" stroke="#000" stroke-width="0.7"/>
<text x="387.90" y="681.54" font-size="5.5" font-weight="bold" fill="#000" text-anchor="end" stroke="#000" stroke-width="0.22" transform="translate(0,-47.708) scale(1,1.07)" >8.0e5</text>
<line x1="388.9" y1="669.42" x2="390.9" y2="669.42" stroke="#000" stroke-width="0.7"/>
<text x="387.90" y="671.32" font-size="5.5" font-weight="bold" fill="#000" text-anchor="end" stroke="#000" stroke-width="0.22" transform="translate(0,-46.992) scale(1,1.07)" >9.0e5</text>
<line x1="390.90" y1="762.0" x2="390.90" y2="763.6" stroke="#000" stroke-width="0.6"/>
<line x1="396.44" y1="762.0" x2="396.44" y2="763.6" stroke="#000" stroke-width="0.6"/>
<line x1="401.97" y1="762.0" x2="401.97" y2="763.6" stroke="#000" stroke-width="0.6"/>
<line x1="407.50" y1="762.0" x2="407.50" y2="763.6" stroke="#000" stroke-width="0.6"/>
<line x1="413.04" y1="762.0" x2="413.04" y2="763.6" stroke="#000" stroke-width="0.6"/>
<line x1="418.57" y1="762.0" x2="418.57" y2="763.6" stroke="#000" stroke-width="0.6"/>
<line x1="424.11" y1="762.0" x2="424.11" y2="763.6" stroke="#000" stroke-width="0.6"/>
<line x1="429.64" y1="762.0" x2="429.64" y2="763.6" stroke="#000" stroke-width="0.6"/>
<line x1="435.18" y1="762.0" x2="435.18" y2="763.6" stroke="#000" stroke-width="0.6"/>
<line x1="440.71" y1="762.0" x2="440.71" y2="763.6" stroke="#000" stroke-width="0.6"/>
<line x1="446.25" y1="762.0" x2="446.25" y2="763.6" stroke="#000" stroke-width="0.6"/>
<line x1="451.78" y1="762.0" x2="451.78" y2="763.6" stroke="#000" stroke-width="0.6"/>
<line x1="457.32" y1="762.0" x2="457.32" y2="763.6" stroke="#000" stroke-width="0.6"/>
<line x1="462.85" y1="762.0" x2="462.85" y2="763.6" stroke="#000" stroke-width="0.6"/>
<line x1="468.39" y1="762.0" x2="468.39" y2="763.6" stroke="#000" stroke-width="0.6"/>
<line x1="473.92" y1="762.0" x2="473.92" y2="763.6" stroke="#000" stroke-width="0.6"/>
<line x1="479.46" y1="762.0" x2="479.46" y2="763.6" stroke="#000" stroke-width="0.6"/>
<line x1="485.00" y1="762.0" x2="485.00" y2="763.6" stroke="#000" stroke-width="0.6"/>
<line x1="490.53" y1="762.0" x2="490.53" y2="763.6" stroke="#000" stroke-width="0.6"/>
<line x1="496.06" y1="762.0" x2="496.06" y2="763.6" stroke="#000" stroke-width="0.6"/>
<line x1="501.60" y1="762.0" x2="501.60" y2="763.6" stroke="#000" stroke-width="0.6"/>
<text x="390.90" y="769.20" font-size="5.6" font-weight="bold" fill="#000" text-anchor="middle" stroke="#000" stroke-width="0.22" transform="translate(0,-53.844) scale(1,1.07)" >1500</text>
<text x="418.57" y="769.20" font-size="5.6" font-weight="bold" fill="#000" text-anchor="middle" stroke="#000" stroke-width="0.22" transform="translate(0,-53.844) scale(1,1.07)" >15150</text>
<text x="446.25" y="769.20" font-size="5.6" font-weight="bold" fill="#000" text-anchor="middle" stroke="#000" stroke-width="0.22" transform="translate(0,-53.844) scale(1,1.07)" >15200</text>
<text x="473.92" y="769.20" font-size="5.6" font-weight="bold" fill="#000" text-anchor="middle" stroke="#000" stroke-width="0.22" transform="translate(0,-53.844) scale(1,1.07)" >15250</text>
<text x="501.60" y="769.20" font-size="5.6" font-weight="bold" fill="#000" text-anchor="middle" stroke="#000" stroke-width="0.22" transform="translate(0,-53.844) scale(1,1.07)" >15300</text>
<text x="513.90" y="769.20" font-size="6" font-weight="bold" fill="#000" text-anchor="start" stroke="#000" stroke-width="0.22" transform="translate(0,-53.844) scale(1,1.07)" >Da</text>
<g transform="translate(366.8,708.5) rotate(-90)"><text x="0" y="0" font-size="6.1" font-weight="bold" text-anchor="middle" stroke="#000" stroke-width="0.2">Intensity</text></g>
<path d="M390.90,760.01 L391.18,760.09 L391.45,760.28 L391.73,760.36 L392.01,760.45 L392.28,760.65 L392.56,760.68 L392.84,760.46 L393.11,760.55 L393.39,760.48 L393.67,760.21 L393.94,760.26 L394.22,760.11 L394.50,760.16 L394.77,760.11 L395.05,760.26 L395.33,760.18 L395.60,760.18 L395.88,760.31 L396.16,760.29 L396.44,760.31 L396.71,760.43 L396.99,760.20 L397.27,760.14 L397.54,760.08 L397.82,760.01 L398.10,759.66 L398.37,759.64 L398.65,759.48 L398.93,759.38 L399.20,759.41 L399.48,759.39 L399.76,759.59 L400.03,759.58 L400.31,759.77 L400.59,759.74 L400.86,759.83 L401.14,760.05 L401.42,760.03 L401.69,759.95 L401.97,759.65 L402.25,759.63 L402.52,759.41 L402.80,759.31 L403.08,759.08 L403.35,758.97 L403.63,758.87 L403.91,758.75 L404.18,758.75 L404.46,758.72 L404.74,758.86 L405.01,758.93 L405.29,759.08 L405.57,759.19 L405.84,759.39 L406.12,759.61 L406.40,759.50 L406.67,759.50 L406.95,759.52 L407.23,759.59 L407.50,759.54 L407.78,759.65 L408.06,759.50 L408.34,759.59 L408.61,759.71 L408.89,759.82 L409.17,759.70 L409.44,759.74 L409.72,760.02 L410.00,759.89 L410.27,760.00 L410.55,760.04 L410.83,759.96 L411.10,759.77 L411.38,759.67 L411.66,759.80 L411.93,759.60 L412.21,759.72 L412.49,759.57 L412.76,759.71 L413.04,759.67 L413.32,759.78 L413.59,760.04 L413.87,760.07 L414.15,760.38 L414.42,760.56 L414.70,760.51 L414.98,760.69 L415.25,760.65 L415.53,760.56 L415.81,760.44 L416.08,760.47 L416.36,760.41 L416.64,760.13 L416.91,760.21 L417.19,760.02 L417.47,760.04 L417.74,760.20 L418.02,760.22 L418.30,760.26 L418.57,760.27 L418.85,760.30 L419.13,760.30 L419.41,760.25 L419.68,760.09 L419.96,760.08 L420.24,759.97 L420.51,759.76 L420.79,759.75 L421.07,759.62 L421.34,759.38 L421.62,759.46 L421.90,759.47 L422.17,759.65 L422.45,759.65 L422.73,759.72 L423.00,759.98 L423.28,759.95 L423.56,760.05 L423.83,760.26 L424.11,760.15 L424.39,760.20 L424.66,760.12 L424.94,760.17 L425.22,760.04 L425.49,759.99 L425.77,760.15 L426.05,760.15 L426.32,760.03 L426.60,760.01 L426.88,760.24 L427.15,760.23 L427.43,760.19 L427.71,760.18 L427.98,760.00 L428.26,759.76 L428.54,759.42 L428.81,758.99 L429.09,758.69 L429.37,758.36 L429.64,758.06 L429.92,758.16 L430.20,758.08 L430.48,758.20 L430.75,758.55 L431.03,758.85 L431.31,759.00 L431.58,759.40 L431.86,759.64 L432.14,759.75 L432.41,759.80 L432.69,760.02 L432.97,759.99 L433.24,759.97 L433.52,759.80 L433.80,759.83 L434.07,759.66 L434.35,759.76 L434.63,759.68 L434.90,759.59 L435.18,759.57 L435.46,759.75 L435.73,759.91 L436.01,760.07 L436.29,760.12 L436.56,760.36 L436.84,760.34 L437.12,760.43 L437.39,760.66 L437.67,760.66 L437.95,760.51 L438.22,760.49 L438.50,760.37 L438.78,760.39 L439.05,760.35 L439.33,760.23 L439.61,760.06 L439.88,760.15 L440.16,760.12 L440.44,760.08 L440.71,760.03 L440.99,759.90 L441.27,759.50 L441.55,759.17 L441.82,758.33 L442.10,756.70 L442.38,754.62 L442.65,751.60 L442.93,747.67 L443.21,742.26 L443.48,735.73 L443.76,728.20 L444.04,719.49 L444.31,710.43 L444.59,701.59 L444.87,693.57 L445.14,687.01 L445.42,682.25 L445.70,679.52 L445.97,678.62 L446.25,678.93 L446.53,680.45 L446.80,682.61 L447.08,686.18 L447.36,690.97 L447.63,698.05 L447.91,707.01 L448.19,717.38 L448.46,727.99 L448.74,737.74 L449.02,745.80 L449.29,751.47 L449.57,755.53 L449.85,757.92 L450.12,759.22 L450.40,759.99 L450.68,760.38 L450.95,760.40 L451.23,760.50 L451.51,760.51 L451.78,760.42 L452.06,760.13 L452.34,760.08 L452.62,759.87 L452.89,759.85 L453.17,759.80 L453.45,759.67 L453.72,759.59 L454.00,759.76 L454.28,759.64 L454.55,759.65 L454.83,759.71 L455.11,759.71 L455.38,759.88 L455.66,759.65 L455.94,759.49 L456.21,759.54 L456.49,759.31 L456.77,759.13 L457.04,758.88 L457.32,758.74 L457.60,758.58 L457.87,758.41 L458.15,758.53 L458.43,758.49 L458.70,758.48 L458.98,758.51 L459.26,758.56 L459.53,758.39 L459.81,758.45 L460.09,758.67 L460.36,758.58 L460.64,758.64 L460.92,758.64 L461.19,758.64 L461.47,758.59 L461.75,758.66 L462.02,758.79 L462.30,758.95 L462.58,759.06 L462.85,759.27 L463.13,759.34 L463.41,759.48 L463.69,759.72 L463.96,759.93 L464.24,759.99 L464.52,759.98 L464.79,759.92 L465.07,759.83 L465.35,759.84 L465.62,759.64 L465.90,759.58 L466.18,759.54 L466.45,759.49 L466.73,759.44 L467.01,759.41 L467.28,759.54 L467.56,759.57 L467.84,759.75 L468.11,759.93 L468.39,759.99 L468.67,760.06 L468.94,760.29 L469.22,760.25 L469.50,760.27 L469.77,760.14 L470.05,760.09 L470.33,760.18 L470.60,760.01 L470.88,760.02 L471.16,760.15 L471.43,760.13 L471.71,760.28 L471.99,760.19 L472.26,760.33 L472.54,760.37 L472.82,760.48 L473.09,760.57 L473.37,760.57 L473.65,760.59 L473.92,760.63 L474.20,760.41 L474.48,760.41 L474.76,760.23 L475.03,759.93 L475.31,759.98 L475.59,759.86 L475.86,759.79 L476.14,759.58 L476.42,759.76 L476.69,759.84 L476.97,759.70 L477.25,759.95 L477.52,759.83 L477.80,759.91 L478.08,759.89 L478.35,759.84 L478.63,759.90 L478.91,759.78 L479.18,759.90 L479.46,759.66 L479.74,759.69 L480.01,759.63 L480.29,759.80 L480.57,759.71 L480.84,759.77 L481.12,760.12 L481.40,760.20 L481.67,760.29 L481.95,760.36 L482.23,760.61 L482.50,760.69 L482.78,760.69 L483.06,760.58 L483.33,760.49 L483.61,760.49 L483.89,760.40 L484.16,760.29 L484.44,760.22 L484.72,760.14 L485.00,760.19 L485.27,760.08 L485.55,759.99 L485.83,760.16 L486.10,760.13 L486.38,760.31 L486.66,760.19 L486.93,760.16 L487.21,760.14 L487.49,760.09 L487.76,759.99 L488.04,759.83 L488.32,759.64 L488.59,759.70 L488.87,759.62 L489.15,759.41 L489.42,759.36 L489.70,759.49 L489.98,759.59 L490.25,759.63 L490.53,759.89 L490.81,760.00 L491.08,760.14 L491.36,760.15 L491.64,760.29 L491.91,760.34 L492.19,760.23 L492.47,760.14 L492.74,760.26 L493.02,760.11 L493.30,760.14 L493.57,760.02 L493.85,760.10 L494.13,760.21 L494.40,760.30 L494.68,760.43 L494.96,760.42 L495.23,760.53 L495.51,760.65 L495.79,760.64 L496.06,760.65 L496.34,760.49 L496.62,760.56 L496.90,760.23 L497.17,760.21 L497.45,760.03 L497.73,759.92 L498.00,759.71 L498.28,759.62 L498.56,759.64 L498.83,759.65 L499.11,759.62 L499.39,759.64 L499.66,759.82 L499.94,759.81 L500.22,759.81 L500.49,759.97 L500.77,760.04 L501.05,760.01 L501.32,759.85 L501.60,759.80" fill="none" stroke="#5050E0" stroke-width="0.9"/>
<text x="451.10" y="685.00" font-size="6.5" font-weight="bold" fill="#000" text-anchor="start" stroke="#000" stroke-width="0.22" transform="translate(0,-47.950) scale(1,1.07)" >15199.6</text>
<text x="611.50" y="663.90" font-size="8.1" font-weight="bold" fill="#000" text-anchor="middle" stroke="#000" stroke-width="0.22" transform="translate(0,-46.473) scale(1,1.07)" >H3K36M Octamer + SMYD5</text>
<line x1="555.5" y1="668.42" x2="555.5" y2="762.1999999999999" stroke="#000" stroke-width="0.9"/>
<line x1="555.5" y1="762.1999999999999" x2="666.60" y2="762.1999999999999" stroke="#555" stroke-width="1.7"/>
<line x1="553.5" y1="761.40" x2="555.5" y2="761.40" stroke="#000" stroke-width="0.7"/>
<text x="552.50" y="763.30" font-size="5.5" font-weight="bold" fill="#000" text-anchor="end" stroke="#000" stroke-width="0.22" transform="translate(0,-53.431) scale(1,1.07)" >0.0e5</text>
<line x1="553.5" y1="751.18" x2="555.5" y2="751.18" stroke="#000" stroke-width="0.7"/>
<text x="552.50" y="753.08" font-size="5.5" font-weight="bold" fill="#000" text-anchor="end" stroke="#000" stroke-width="0.22" transform="translate(0,-52.716) scale(1,1.07)" >1.0e5</text>
<line x1="553.5" y1="740.96" x2="555.5" y2="740.96" stroke="#000" stroke-width="0.7"/>
<text x="552.50" y="742.86" font-size="5.5" font-weight="bold" fill="#000" text-anchor="end" stroke="#000" stroke-width="0.22" transform="translate(0,-52.000) scale(1,1.07)" >2.0e5</text>
<line x1="553.5" y1="730.74" x2="555.5" y2="730.74" stroke="#000" stroke-width="0.7"/>
<text x="552.50" y="732.64" font-size="5.5" font-weight="bold" fill="#000" text-anchor="end" stroke="#000" stroke-width="0.22" transform="translate(0,-51.285) scale(1,1.07)" >3.0e5</text>
<line x1="553.5" y1="720.52" x2="555.5" y2="720.52" stroke="#000" stroke-width="0.7"/>
<text x="552.50" y="722.42" font-size="5.5" font-weight="bold" fill="#000" text-anchor="end" stroke="#000" stroke-width="0.22" transform="translate(0,-50.569) scale(1,1.07)" >4.0e5</text>
<line x1="553.5" y1="710.30" x2="555.5" y2="710.30" stroke="#000" stroke-width="0.7"/>
<text x="552.50" y="712.20" font-size="5.5" font-weight="bold" fill="#000" text-anchor="end" stroke="#000" stroke-width="0.22" transform="translate(0,-49.854) scale(1,1.07)" >5.0e5</text>
<line x1="553.5" y1="700.08" x2="555.5" y2="700.08" stroke="#000" stroke-width="0.7"/>
<text x="552.50" y="701.98" font-size="5.5" font-weight="bold" fill="#000" text-anchor="end" stroke="#000" stroke-width="0.22" transform="translate(0,-49.139) scale(1,1.07)" >6.0e5</text>
<line x1="553.5" y1="689.86" x2="555.5" y2="689.86" stroke="#000" stroke-width="0.7"/>
<text x="552.50" y="691.76" font-size="5.5" font-weight="bold" fill="#000" text-anchor="end" stroke="#000" stroke-width="0.22" transform="translate(0,-48.423) scale(1,1.07)" >7.0e5</text>
<line x1="553.5" y1="679.64" x2="555.5" y2="679.64" stroke="#000" stroke-width="0.7"/>
<text x="552.50" y="681.54" font-size="5.5" font-weight="bold" fill="#000" text-anchor="end" stroke="#000" stroke-width="0.22" transform="translate(0,-47.708) scale(1,1.07)" >8.0e5</text>
<line x1="553.5" y1="669.42" x2="555.5" y2="669.42" stroke="#000" stroke-width="0.7"/>
<text x="552.50" y="671.32" font-size="5.5" font-weight="bold" fill="#000" text-anchor="end" stroke="#000" stroke-width="0.22" transform="translate(0,-46.992) scale(1,1.07)" >9.0e5</text>
<line x1="555.50" y1="762.0" x2="555.50" y2="763.6" stroke="#000" stroke-width="0.6"/>
<line x1="561.05" y1="762.0" x2="561.05" y2="763.6" stroke="#000" stroke-width="0.6"/>
<line x1="566.61" y1="762.0" x2="566.61" y2="763.6" stroke="#000" stroke-width="0.6"/>
<line x1="572.16" y1="762.0" x2="572.16" y2="763.6" stroke="#000" stroke-width="0.6"/>
<line x1="577.72" y1="762.0" x2="577.72" y2="763.6" stroke="#000" stroke-width="0.6"/>
<line x1="583.27" y1="762.0" x2="583.27" y2="763.6" stroke="#000" stroke-width="0.6"/>
<line x1="588.83" y1="762.0" x2="588.83" y2="763.6" stroke="#000" stroke-width="0.6"/>
<line x1="594.38" y1="762.0" x2="594.38" y2="763.6" stroke="#000" stroke-width="0.6"/>
<line x1="599.94" y1="762.0" x2="599.94" y2="763.6" stroke="#000" stroke-width="0.6"/>
<line x1="605.50" y1="762.0" x2="605.50" y2="763.6" stroke="#000" stroke-width="0.6"/>
<line x1="611.05" y1="762.0" x2="611.05" y2="763.6" stroke="#000" stroke-width="0.6"/>
<line x1="616.61" y1="762.0" x2="616.61" y2="763.6" stroke="#000" stroke-width="0.6"/>
<line x1="622.16" y1="762.0" x2="622.16" y2="763.6" stroke="#000" stroke-width="0.6"/>
<line x1="627.72" y1="762.0" x2="627.72" y2="763.6" stroke="#000" stroke-width="0.6"/>
<line x1="633.27" y1="762.0" x2="633.27" y2="763.6" stroke="#000" stroke-width="0.6"/>
<line x1="638.83" y1="762.0" x2="638.83" y2="763.6" stroke="#000" stroke-width="0.6"/>
<line x1="644.38" y1="762.0" x2="644.38" y2="763.6" stroke="#000" stroke-width="0.6"/>
<line x1="649.93" y1="762.0" x2="649.93" y2="763.6" stroke="#000" stroke-width="0.6"/>
<line x1="655.49" y1="762.0" x2="655.49" y2="763.6" stroke="#000" stroke-width="0.6"/>
<line x1="661.04" y1="762.0" x2="661.04" y2="763.6" stroke="#000" stroke-width="0.6"/>
<line x1="666.60" y1="762.0" x2="666.60" y2="763.6" stroke="#000" stroke-width="0.6"/>
<text x="555.50" y="769.20" font-size="5.6" font-weight="bold" fill="#000" text-anchor="middle" stroke="#000" stroke-width="0.22" transform="translate(0,-53.844) scale(1,1.07)" >1500</text>
<text x="583.27" y="769.20" font-size="5.6" font-weight="bold" fill="#000" text-anchor="middle" stroke="#000" stroke-width="0.22" transform="translate(0,-53.844) scale(1,1.07)" >15150</text>
<text x="611.05" y="769.20" font-size="5.6" font-weight="bold" fill="#000" text-anchor="middle" stroke="#000" stroke-width="0.22" transform="translate(0,-53.844) scale(1,1.07)" >15200</text>
<text x="638.83" y="769.20" font-size="5.6" font-weight="bold" fill="#000" text-anchor="middle" stroke="#000" stroke-width="0.22" transform="translate(0,-53.844) scale(1,1.07)" >15250</text>
<text x="666.60" y="769.20" font-size="5.6" font-weight="bold" fill="#000" text-anchor="middle" stroke="#000" stroke-width="0.22" transform="translate(0,-53.844) scale(1,1.07)" >15300</text>
<text x="677.90" y="769.20" font-size="6" font-weight="bold" fill="#000" text-anchor="start" stroke="#000" stroke-width="0.22" transform="translate(0,-53.844) scale(1,1.07)" >Da</text>
<g transform="translate(532.1,708.5) rotate(-90)"><text x="0" y="0" font-size="6.1" font-weight="bold" text-anchor="middle" stroke="#000" stroke-width="0.2">Intensity</text></g>
<path d="M555.50,760.67 L555.78,760.70 L556.06,760.59 L556.33,760.58 L556.61,760.51 L556.89,760.34 L557.17,760.12 L557.44,760.09 L557.72,760.06 L558.00,760.18 L558.28,760.12 L558.56,760.22 L558.83,760.29 L559.11,760.35 L559.39,760.35 L559.67,760.18 L559.94,760.17 L560.22,760.10 L560.50,760.00 L560.78,760.02 L561.05,759.86 L561.33,759.65 L561.61,759.52 L561.89,759.41 L562.17,759.37 L562.44,759.57 L562.72,759.50 L563.00,759.57 L563.28,759.73 L563.55,759.93 L563.83,759.98 L564.11,760.18 L564.39,760.05 L564.67,760.10 L564.94,760.18 L565.22,760.22 L565.50,760.02 L565.78,760.04 L566.05,759.91 L566.33,759.88 L566.61,759.94 L566.89,759.97 L567.17,759.95 L567.44,760.04 L567.72,760.17 L568.00,760.19 L568.28,760.10 L568.55,760.29 L568.83,760.25 L569.11,760.03 L569.39,759.98 L569.67,759.75 L569.94,759.57 L570.22,759.40 L570.50,759.04 L570.78,759.05 L571.05,758.86 L571.33,758.81 L571.61,758.65 L571.89,758.73 L572.16,758.75 L572.44,758.72 L572.72,758.90 L573.00,758.93 L573.28,758.91 L573.55,759.17 L573.83,759.21 L574.11,759.18 L574.39,759.04 L574.66,759.07 L574.94,759.16 L575.22,759.16 L575.50,759.24 L575.78,759.26 L576.05,759.48 L576.33,759.48 L576.61,759.61 L576.89,759.79 L577.16,760.03 L577.44,760.14 L577.72,760.51 L578.00,760.54 L578.28,760.42 L578.55,760.47 L578.83,760.51 L579.11,760.31 L579.39,760.30 L579.66,760.17 L579.94,760.22 L580.22,760.19 L580.50,760.10 L580.78,760.17 L581.05,760.14 L581.33,760.04 L581.61,760.24 L581.89,760.36 L582.16,760.37 L582.44,760.32 L582.72,760.13 L583.00,760.15 L583.27,760.05 L583.55,759.97 L583.83,759.63 L584.11,759.64 L584.39,759.60 L584.66,759.58 L584.94,759.57 L585.22,759.57 L585.50,759.52 L585.77,759.76 L586.05,759.91 L586.33,759.94 L586.61,760.12 L586.89,760.03 L587.16,760.32 L587.44,760.25 L587.72,760.19 L588.00,760.25 L588.27,760.07 L588.55,760.15 L588.83,760.17 L589.11,760.12 L589.39,760.22 L589.66,760.17 L589.94,760.28 L590.22,760.22 L590.50,760.33 L590.77,760.50 L591.05,760.69 L591.33,760.68 L591.61,760.68 L591.89,760.65 L592.16,760.55 L592.44,760.28 L592.72,760.31 L593.00,760.18 L593.27,759.82 L593.55,759.79 L593.83,759.60 L594.11,759.69 L594.38,759.56 L594.66,759.65 L594.94,759.67 L595.22,759.75 L595.50,759.88 L595.77,760.03 L596.05,760.03 L596.33,759.88 L596.61,759.85 L596.88,759.79 L597.16,759.87 L597.44,759.72 L597.72,759.61 L598.00,759.59 L598.27,759.48 L598.55,759.49 L598.83,759.37 L599.11,759.23 L599.38,759.14 L599.66,758.72 L599.94,758.40 L600.22,758.28 L600.50,757.76 L600.77,757.55 L601.05,757.53 L601.33,757.74 L601.61,757.72 L601.88,758.20 L602.16,758.35 L602.44,758.78 L602.72,759.26 L603.00,759.51 L603.27,759.62 L603.55,759.82 L603.83,759.91 L604.11,759.98 L604.38,760.23 L604.66,760.33 L604.94,760.11 L605.22,760.31 L605.50,760.02 L605.77,760.08 L606.05,759.72 L606.33,759.46 L606.61,759.04 L606.88,758.52 L607.16,757.51 L607.44,756.25 L607.72,753.97 L607.99,750.89 L608.27,746.30 L608.55,740.38 L608.83,732.94 L609.11,723.97 L609.38,714.09 L609.66,703.74 L609.94,693.80 L610.22,685.58 L610.49,679.76 L610.77,677.30 L611.05,678.44 L611.33,682.83 L611.61,690.05 L611.88,699.45 L612.16,709.92 L612.44,720.11 L612.72,729.76 L612.99,738.29 L613.27,744.98 L613.55,750.23 L613.83,753.91 L614.11,756.61 L614.38,758.28 L614.66,759.19 L614.94,759.59 L615.22,760.02 L615.49,760.05 L615.77,759.87 L616.05,759.71 L616.33,759.72 L616.61,759.68 L616.88,759.55 L617.16,759.58 L617.44,759.79 L617.72,759.66 L617.99,759.90 L618.27,759.94 L618.55,759.86 L618.83,759.99 L619.10,759.89 L619.38,760.02 L619.66,759.80 L619.94,759.91 L620.22,759.86 L620.49,759.73 L620.77,759.75 L621.05,759.73 L621.33,759.70 L621.60,759.84 L621.88,760.14 L622.16,760.21 L622.44,760.30 L622.72,760.45 L622.99,760.50 L623.27,760.63 L623.55,760.75 L623.83,760.69 L624.10,760.49 L624.38,760.52 L624.66,760.32 L624.94,760.15 L625.22,760.15 L625.49,760.06 L625.77,760.03 L626.05,760.09 L626.33,759.96 L626.60,760.10 L626.88,760.04 L627.16,760.22 L627.44,760.11 L627.72,760.12 L627.99,760.13 L628.27,760.10 L628.55,760.07 L628.83,759.80 L629.10,759.77 L629.38,759.59 L629.66,759.62 L629.94,759.58 L630.21,759.55 L630.49,759.42 L630.77,759.65 L631.05,759.58 L631.33,759.84 L631.60,759.93 L631.88,760.12 L632.16,760.16 L632.44,760.37 L632.71,760.33 L632.99,760.21 L633.27,760.37 L633.55,760.21 L633.83,760.25 L634.10,760.21 L634.38,760.25 L634.66,760.25 L634.94,760.05 L635.21,760.14 L635.49,760.22 L635.77,760.31 L636.05,760.36 L636.33,760.63 L636.60,760.56 L636.88,760.59 L637.16,760.53 L637.44,760.35 L637.71,760.28 L637.99,760.08 L638.27,760.14 L638.55,759.86 L638.83,759.73 L639.10,759.62 L639.38,759.60 L639.66,759.53 L639.94,759.69 L640.21,759.59 L640.49,759.79 L640.77,759.82 L641.05,759.81 L641.32,759.91 L641.60,760.03 L641.88,760.04 L642.16,759.98 L642.44,759.85 L642.71,759.70 L642.99,759.68 L643.27,759.77 L643.55,759.77 L643.82,759.71 L644.10,759.91 L644.38,759.99 L644.66,760.22 L644.94,760.33 L645.21,760.38 L645.49,760.47 L645.77,760.58 L646.05,760.69 L646.32,760.55 L646.60,760.59 L646.88,760.63 L647.16,760.55 L647.44,760.21 L647.71,760.10 L647.99,760.02 L648.27,760.04 L648.55,760.07 L648.82,760.12 L649.10,760.11 L649.38,760.15 L649.66,760.02 L649.93,760.06 L650.21,760.10 L650.49,760.24 L650.77,760.17 L651.05,760.07 L651.32,759.81 L651.60,759.88 L651.88,759.61 L652.16,759.53 L652.43,759.49 L652.71,759.36 L652.99,759.54 L653.27,759.53 L653.55,759.71 L653.82,759.85 L654.10,760.01 L654.38,760.08 L654.66,760.25 L654.93,760.36 L655.21,760.20 L655.49,760.40 L655.77,760.24 L656.05,760.26 L656.32,760.20 L656.60,760.17 L656.88,760.05 L657.16,760.05 L657.43,760.10 L657.71,760.17 L657.99,760.20 L658.27,760.28 L658.55,760.40 L658.82,760.49 L659.10,760.63 L659.38,760.49 L659.66,760.56 L659.93,760.60 L660.21,760.47 L660.49,760.17 L660.77,760.17 L661.04,759.98 L661.32,759.77 L661.60,759.61 L661.88,759.67 L662.16,759.62 L662.43,759.62 L662.71,759.76 L662.99,759.62 L663.27,759.91 L663.54,759.76 L663.82,760.02 L664.10,760.06 L664.38,759.90 L664.66,759.89 L664.93,760.00 L665.21,759.87 L665.49,759.83 L665.77,759.73 L666.04,759.85 L666.32,759.71 L666.60,759.72" fill="none" stroke="#5050E0" stroke-width="0.9"/>
<text x="617.50" y="681.80" font-size="6.5" font-weight="bold" fill="#000" text-anchor="start" stroke="#000" stroke-width="0.22" transform="translate(0,-47.726) scale(1,1.07)" >15199.6</text>
</svg></body></html>
